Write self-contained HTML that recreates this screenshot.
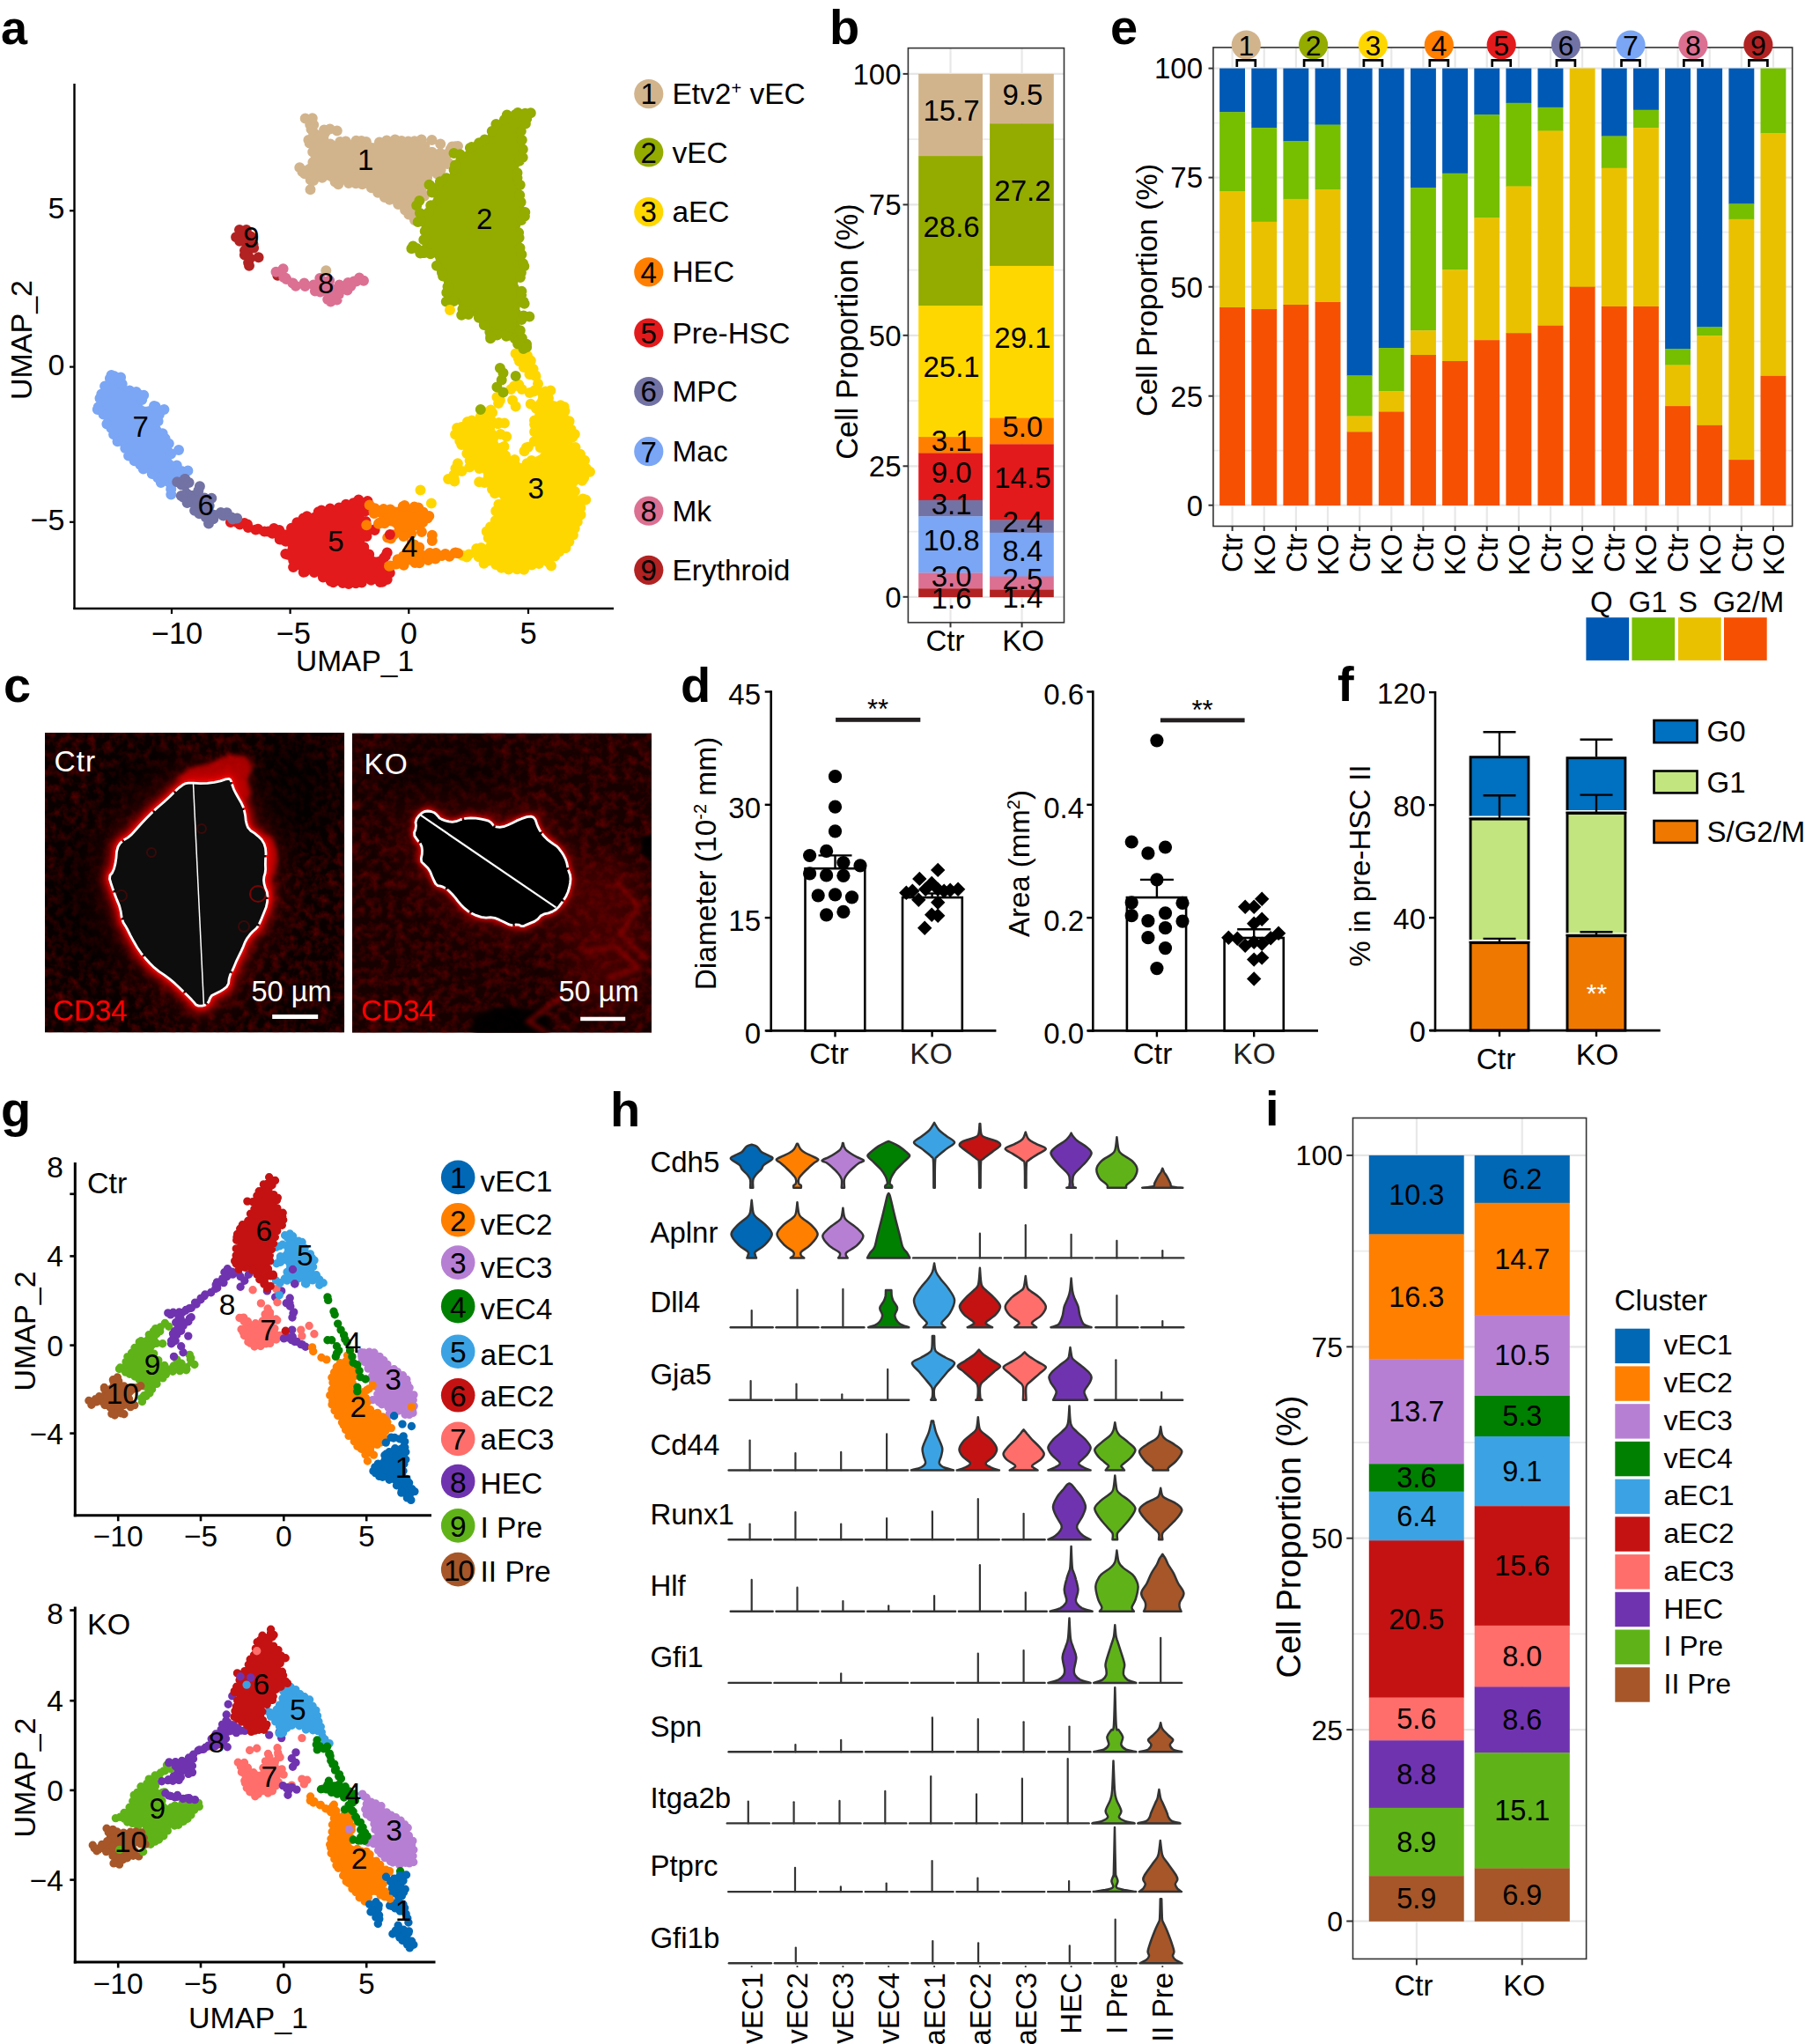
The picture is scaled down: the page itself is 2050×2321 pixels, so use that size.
<!DOCTYPE html><html><head><meta charset="utf-8"><title>Figure</title><style>html,body{margin:0;padding:0;background:#fff}svg{display:block}text{font-family:"Liberation Sans",sans-serif}</style></head><body>
<svg width="2050" height="2321" viewBox="0 0 2050 2321">
<rect width="2050" height="2321" fill="#fff"/>
<g id="pa">
<text x="1" y="50" font-size="54" text-anchor="start" fill="#000" font-weight="bold">a</text>
<line x1="84.5" y1="95" x2="84.5" y2="692" stroke="#000" stroke-width="2.4"/>
<line x1="83.3" y1="691" x2="697" y2="691" stroke="#000" stroke-width="2.4"/>
<line x1="79" y1="239.3" x2="84.5" y2="239.3" stroke="#000" stroke-width="2.2"/>
<text x="73.5" y="248.3" font-size="34" text-anchor="end" fill="#000">5</text>
<line x1="79" y1="416.6" x2="84.5" y2="416.6" stroke="#000" stroke-width="2.2"/>
<text x="73.5" y="425.6" font-size="34" text-anchor="end" fill="#000">0</text>
<line x1="79" y1="592.8" x2="84.5" y2="592.8" stroke="#000" stroke-width="2.2"/>
<text x="73.5" y="601.8" font-size="34" text-anchor="end" fill="#000">−5</text>
<line x1="195" y1="691" x2="195" y2="697" stroke="#000" stroke-width="2.2"/>
<text x="201" y="730.6" font-size="34.5" text-anchor="middle" fill="#000">−10</text>
<line x1="329.6" y1="691" x2="329.6" y2="697" stroke="#000" stroke-width="2.2"/>
<text x="333.2" y="730.6" font-size="34.5" text-anchor="middle" fill="#000">−5</text>
<line x1="464.3" y1="691" x2="464.3" y2="697" stroke="#000" stroke-width="2.2"/>
<text x="464.3" y="730.6" font-size="34.5" text-anchor="middle" fill="#000">0</text>
<line x1="600" y1="691" x2="600" y2="697" stroke="#000" stroke-width="2.2"/>
<text x="600" y="730.6" font-size="34.5" text-anchor="middle" fill="#000">5</text>
<text x="403" y="762" font-size="33.5" text-anchor="middle" fill="#000">UMAP_1</text>
<text x="36.1" y="386" font-size="34" text-anchor="middle" fill="#000" transform="rotate(-90 36.1 386)">UMAP_2</text>
<path d="M351.1 139.5 351 139.9 352.5 147.5 352.6 148.1 352.7 148.7 352.6 149.3 351.7 161.2 354.5 168.7 354.7 169.2 354.8 169.8 354.9 170.3 354.9 170.9 354.9 182 354.9 182.6 354.8 183.3 354.6 183.9 354.4 184.5 354.1 185.1 353.7 185.6 353.3 186.2 352.9 186.6 352.4 187 351.8 187.4 343.8 192.2 343.8 194.9 350.8 201.9 351.4 202.6 354.5 206.7 356.2 205.6 356.7 205.2 357.3 205 357.8 204.8 358.4 204.6 369.5 202.4 370.1 202.3 370.7 202.3 371.3 202.3 371.9 202.4 372.5 202.5 373 202.7 373.6 203 384.6 208.5 393.3 205.9 393.9 205.7 394.5 205.6 395.1 205.6 395.7 205.6 396.3 205.7 396.9 205.9 412.4 210.3 413 210.5 424.1 214.9 424.6 215.2 425.1 215.5 440.6 225.4 451.6 232 451.8 232.2 464.8 240.8 468.3 242.6 469.4 240.9 475.9 227.9 476.3 227.3 476.6 226.8 477.1 226.3 481 222.4 477.8 212.8 477.6 212.2 477.5 211.6 477.5 211 477.5 210.4 477.5 209.8 477.7 209.2 477.9 208.6 478.1 208.1 478.4 207.5 478.7 207 479.1 206.6 479.5 206.1 480 205.8 488.9 199.1 489.3 198.8 489.8 198.5 502.2 192.3 510.3 184.3 508.6 174.2 508.5 173.5 508.5 172.9 508.5 172.6 508.2 172.7 507.6 172.8 507 172.8 506.4 172.7 505.8 172.7 505.2 172.5 504.6 172.3 504.1 172 503.5 171.7 500.1 169.5 495.8 172 495.2 172.2 494.6 172.5 494 172.6 493.4 172.7 492.8 172.8 492.2 172.8 491.6 172.7 491 172.6 490.4 172.4 489.8 172.1 489.3 171.8 488.8 171.5 488.3 171.1 487.9 170.6 487.5 170.1 487.2 169.6 486.9 169.1 486.7 168.5 486.5 167.9 486.4 167.3 485.8 162.9 478.2 160.5 458.3 159.1 440.5 160.5 425.4 164.2 424.9 164.3 424.3 164.4 423.7 164.4 423.2 164.3 422.6 164.2 422 164.1 408 159.6 396.2 161.6 395.5 161.7 377.8 162.8 377.2 162.8 376.5 162.8 375.9 162.6 375.3 162.5 374.7 162.2 374.2 161.9 373.7 161.6 373.2 161.2 372.7 160.7 372.3 160.3 372 159.7 371.7 159.2 371.5 158.6 371.3 158 371.2 157.4 371.1 156.8 371.1 156.1 371.2 155.5 371.3 154.9 371.5 154.3 371.7 153.7 372.1 153.2 374.5 149.3 373.7 148.8 365.3 150.5 364.7 150.6 364.1 150.6 363.5 150.6 362.8 150.5 362.2 150.3 361.7 150.1 361.1 149.9 360.6 149.5 360.1 149.2 359.6 148.7 359.2 148.3 352.2 139.5Z" fill="#D2B48C" stroke="#D2B48C" stroke-width="4.2" stroke-linejoin="round"/>
<path d="M346.7 134.6h0M354.8 134.3h0M356.2 141.8h0M368.1 147.6h0M374.7 146.6h0M382.8 148.6h0M375.2 163.5h0M386.2 161h0M392.7 160.5h0M404.5 159.7h0M410.5 160.1h0M415.9 160.9h0M430.9 161.5h0M439.2 159.5h0M448.7 158.4h0M456.1 160h0M463.7 160.6h0M470.8 160.3h0M478.7 158.4h0M490.5 159h0M490.7 172.7h0M500.2 163.6h0M511.8 169.2h0M513.5 166.6h0M520 166h0M517.3 166.3h0M509.2 173.9h0M509.3 185.1h0M508.1 186h0M500.6 192.9h0M496.6 197.6h0M485.1 201.8h0M479.5 211.9h0M479.8 219.4h0M481.8 222.7h0M473.4 230.4h0M471.3 240.6h0M471 250.1h0M464.3 243.5h0M460.1 238.6h0M452.2 232h0M442.5 226.7h0M436.8 223.9h0M429.2 218.7h0M421.9 213.2h0M411.5 209.3h0M404.1 208.2h0M396 208h0M384.2 209.3h0M380.6 206.6h0M365.9 201.8h0M356.1 205.1h0M352.5 215.2h0M352.7 204.3h0M346 197.2h0M343.3 194.9h0M340.3 190.3h0M355.4 184.3h0M355.2 172.5h0M351.6 162.4h0M350.4 158.9h0M353.5 146.8h0M352.2 141.4h0" stroke="#D2B48C" stroke-width="12" stroke-linecap="round" fill="none"/>
<path d="M521 535.1 528.2 533.6 528.9 533.2 528.7 533.3 528.1 533.4 527.5 533.4 526.8 533.4 526.2 533.4 525.6 533.3 521.2 532.2 521 532.3ZM532.1 531.1 532.5 530.8 533 530.5 533.6 530.2 534.2 530 534.8 529.8 535.4 529.7 536 529.7 536.6 529.7 537.2 529.8 537.8 530 538.4 530.2 547.2 533.7 547.8 534 548.3 534.3 548.8 534.6 549.3 535.1 549.7 535.5 550.1 536 550.4 536.6 550.7 537.1 550.9 537.7 551.1 538.3 551.1 538.9 551.2 539.6 551.1 540.2 551.1 540.8 549.9 546.4 554.6 551.1 555.1 551.6 561.3 559.4 567.2 562.3 567.7 562.6 568.2 562.9 568.7 563.3 569.1 563.8 569.5 564.3 569.8 564.8 570.1 565.4 570.4 565.9 570.5 566.5 570.6 567.1 570.7 567.8 570.7 568.4 570.6 569 570.5 569.6 570.3 570.2 570 570.7 565.1 580.6 563.5 588.7 563.3 589.2 563.1 589.8 562.9 590.4 562.6 590.9 562.2 591.4 555.8 599.3 553.2 607.3 554.6 614.6 554.7 615.1 554.7 615.7 554.7 616.3 554.6 616.9 554.5 617.5 554.3 618.1 554 618.6 553.7 619.2 553.4 619.6 553 620.1 552.6 620.5 552.1 620.9 551.6 621.2 551.1 621.5 550.5 621.7 549.9 621.9 543.5 623.5 534.6 628 533.2 629.6 540.6 630.8 541.2 631 541.8 631.2 542.4 631.5 543 631.8 543.5 632.2 544 632.6 549.3 637.9 557.3 637.9 557.9 637.9 558.4 638 559 638.1 559.6 638.3 560.1 638.5 570.3 643.6 579.2 646.6 592.9 645.1 604.4 640.1 604.6 640.1 613.4 636.5 614.1 636.3 614.7 636.2 615.4 636.1 616 636.1 616.7 636.1 617.3 636.3 624.7 638.1 630.7 632.7 644.1 615.9 649.2 605.9 654.2 595.8 657.5 584.3 659.2 574 659.4 573.3 659.6 572.7 661.1 568.8 656.9 566.2 656.4 565.9 655.9 565.5 655.4 565.1 655 564.6 654.7 564.1 654.4 563.5 654.2 563 654 562.4 652.2 555.3 652.1 554.7 652 554.1 652 553.5 652.1 552.9 652.2 552.3 652.4 551.7 652.6 551.2 652.8 550.7 653.2 550.2 653.5 549.7 653.9 549.2 654.4 548.9 654.8 548.5 663.9 542.5 666.7 535.8 663.1 525.9 658.3 514.8 650.3 506.8 649.9 506.3 649.6 505.8 649.2 505.3 649 504.8 648.8 504.2 648.6 503.6 648.5 503 648.5 502.4 648.5 501.8 648.6 501.2 648.7 500.6 648.9 500 651.4 493.7 649.2 489.2 648.8 488.4 641.9 467.5 638 459.8 628.2 457 627.6 456.8 627.1 456.5 626.5 456.2 626 455.8 625.6 455.4 625.1 454.9 624.8 454.4 624.4 453.9 624.2 453.3 623.9 452.8 623.8 452.1 622.7 446.6 617 444.4 616.4 444.1 615.9 443.8 615.4 443.4 614.9 443 614.5 442.5 614.1 442 613.8 441.4 613.5 440.8 611.3 435.4 611.3 435.5 611.4 436.1 611.5 436.7 611.4 437.4 611.3 438 611.2 438.6 611 439.1 610.7 439.7 610.4 440.2 610 440.7 609.6 441.2 606.5 444.3 606.3 444.6 606.9 444.6 607.5 444.6 608.1 444.7 608.7 444.9 609.3 445.1 609.8 445.3 610.4 445.6 610.9 446 611.3 446.4 611.7 446.8 612.1 447.3 612.4 447.8 612.7 448.4 612.9 448.9 613.1 449.5 613.2 450.1 613.2 450.7 613.2 451.3 613.1 451.9 613 452.5 612.8 453.1 612.6 453.7 612.3 454.2 612 454.7 608.3 459.6 609.6 467.6 609.7 468.3 609.7 469 609.6 469.7 607.8 480.3 607.8 480.5 606.4 487.5 609.2 494.7 609.4 495.2 609.6 495.8 609.7 496.4 609.7 497.1 609.6 497.7 609.6 498.3 609.4 498.9 609.2 499.4 608.9 500 608.6 500.5 608.2 501 607.8 501.5 606.1 503.2 606.2 503.2 606.8 503.1 607.4 503.1 608.1 503.2 608.7 503.4 609.3 503.6 609.9 503.8 610.4 504.2 610.9 504.5 611.4 505 614.9 508.5 615.3 509 615.7 509.5 616 510 616.3 510.6 616.5 511.2 616.7 511.8 616.7 512.4 616.8 513 616.7 513.7 616.6 514.3 616.5 514.9 616.2 515.5 616 516 615.6 516.6 615.3 517.1 614.8 517.5 614.3 517.9 613.8 518.3 613.3 518.6 595.6 527.5 595 527.7 594.4 527.9 593.8 528 593.1 528.1 592.5 528.1 591.9 528.1 591.2 527.9 590.6 527.8 590 527.5 589.5 527.2 589 526.9 582.3 521.9 575.7 518.6 575.2 518.3 574.7 517.9 574.2 517.5 573.8 517 573.4 516.5 573 516 572.8 515.4 572.5 514.8 572.4 514.2 571.2 508.4 566.9 506.2 566.3 505.9 565.8 505.5 565.3 505.1 564.9 504.7 564.5 504.2 564.2 503.6 563.9 503.1 563.7 502.5 563.5 501.9 563.4 501.3 563.4 500.6 563.4 500 563.5 499.4 563.7 498.8 563.9 498.2 564.1 497.6 564.4 497.1 564.8 496.6 565.2 496.1 567.3 494 563.3 492 562.8 491.7 562.3 491.4 561.8 491 561.4 490.5 561 490 560.7 489.5 560.4 489 560.2 488.4 560 487.8 559.9 487.2 559.9 486.6 559.9 486 559.9 485.4 560.1 484.8 560.2 484.2 560.5 483.6 560.8 483.1 561.1 482.6 561.5 482.1 561.9 481.7 562.4 481.3 562.9 481 566 479.1 563.3 477.8 562.8 477.5 562.3 477.2 561.9 476.8 561.4 476.4 561.1 475.9 560.7 475.4 560.4 474.9 560.2 474.3 560 473.7 558.8 468.8 556.6 467.2 553.9 468.5 547.6 474.9 547.1 475.3 546.7 475.6 546.2 475.9 545.7 476.2 545.2 476.4 544.6 476.5 535 478.9 528.8 482.8 519.9 488.7 518.7 491.9 520.4 497.7 525.1 503.9 530.4 511 530.8 511.5 531.1 512 531.3 512.6 531.5 513.2 531.6 513.8 533.4 526.3 533.4 526.9 533.4 527.5 533.4 528.1 533.3 528.7 533.1 529.3 532.8 529.9 532.5 530.4 532.2 530.9ZM610.5 433.5 610 432.2 604.8 421.8 604.5 421 601.2 411 597.5 404.8 592.7 403.4 589 404.5 591.3 409.1 594.6 415.7 599 421.6 605.4 426.4 605.9 426.8 606.4 427.3 606.8 427.9 610.4 433.2Z" fill="#FFD700" stroke="#FFD700" stroke-width="4.2" stroke-linejoin="round"/>
<path d="M585.6 401.4h0M591.3 403h0M599 404.1h0M602.8 409.4h0M605.6 419.1h0M608 425.9h0M611 435.7h0M619.6 444.5h0M625.3 443.6h0M622.9 452.3h0M636.7 460.3h0M640.7 462.1h0M641.5 466.7h0M646.6 478.2h0M648.5 487.6h0M652.8 493h0M650.2 496.6h0M653.5 508.1h0M659 515.8h0M664 522.7h0M665.9 532h0M670 535.7h0M663.1 542.7h0M661.1 545.8h0M652.9 558h0M661.9 566.5h0M665.2 567.4h0M659.4 576.8h0M659.5 584.4h0M655.8 592.5h0M652.7 599.9h0M650.9 607.6h0M646.4 615.1h0M642.4 622.2h0M635 626.4h0M630.2 631.6h0M626 642.5h0M623.2 638.8h0M612.1 640h0M603.9 641.4h0M595.1 646.7h0M587.3 646.3h0M577.6 646.6h0M569.4 644.7h0M563.1 641h0M553.6 636.9h0M549.6 639.7h0M543.7 632.3h0M530.1 632.4h0M525.2 630.7h0M532.6 629.5h0M541.2 622.9h0M546.4 622.1h0M554.7 610.7h0M552.7 603.6h0M557 598.3h0M562.7 591.3h0M563.2 580.3h0M566.4 572.7h0M562.1 560.3h0M559 555.4h0M550.3 548.1h0M544.2 547.2h0M544.3 532h0M533.2 530.6h0M524.5 534.9h0M515.8 544.1h0M516.2 546.6h0M509.1 543.9h0M515.4 539.3h0M517.4 532h0M519.9 526.2h0M533.6 523h0M530.3 514.9h0M524.2 505.1h0M522.2 500.5h0M517.1 493.3h0M519.1 486.1h0M524.1 485.1h0M530.9 479h0M535.8 477.4h0M545.7 473.5h0M554 468h0M557.3 465.4h0M559.1 468.5h0M566.4 480.1h0M572.9 480.4h0M565.6 481.2h0M568.5 493h0M575.2 495.8h0M569.8 508.2h0M572.5 507.1h0M574.1 517.2h0M584.5 522.1h0M598.5 526.2h0M603.6 523h0M613.8 508.3h0M599.8 507.7h0M595.5 512.3h0M597.9 508.3h0M606.7 501.3h0M607.1 490.2h0M607.1 482.1h0M607 477.4h0M608.9 463.8h0M602.7 458.7h0M606.2 444.5h0M601.5 445.9h0M607 443.4h0M608.5 427.3h0M601.4 425h0M594.8 417h0M590 410.2h0M588.5 406.2h0" stroke="#FFD700" stroke-width="12" stroke-linecap="round" fill="none"/>
<path d="M564.4 450.9h0M567.9 454.5h0M566.1 458h0M583.9 438.5h0M589.2 436.7h0M592.7 442h0M580.3 442h0M582.1 454.5h0M585.7 461.6h0M477.5 556.4h0M489.9 571.5h0" stroke="#FFD700" stroke-width="12" stroke-linecap="round" fill="none"/>
<path d="M472 281.4 474.6 283.6 474.9 283.9 477.9 286.9 491.3 288.8 491.9 288.9 492.5 289.1 493 289.3 493.6 289.5 494.1 289.9 494.5 290.2 495 290.6 495.3 291.1 495.7 291.6 496 292.1 496.2 292.6 496.4 293.2 496.6 293.8 498.6 304 504.9 316.6 505.2 317.1 505.3 317.7 509.8 333.2 509.8 333.4 511.3 339.1 519.3 342.4 519.9 342.6 520.4 342.9 520.9 343.2 521.3 343.6 521.7 344 522.1 344.5 522.4 345 527.6 353.6 536 355.3 536.6 355.5 537.2 355.7 537.7 355.9 538.2 356.3 538.7 356.6 539.2 357 550.3 368.1 550.7 368.5 559.3 379 566.7 377.5 567.4 377.4 568 377.4 568.6 377.4 569.2 377.5 580.3 379.7 580.9 379.9 581.5 380.1 582.1 380.4 582.7 380.7 583.2 381.1 583.7 381.6 584.1 382.1 589.4 389.2 593.4 390.2 594.2 389.6 592.9 383.1 588.6 370.1 588.4 369.5 588.3 368.9 588.3 368.3 588.3 367.6 588.4 367 588.5 366.4 588.7 365.8 589 365.2 589.3 364.7 589.7 364.2 590.1 363.7 594.5 359.3 590.1 354.9 589.7 354.4 589.3 353.9 589 353.4 588.8 352.9 588.6 352.3 588.4 351.7 588.3 351.1 588.3 350.5 588.3 349.9 588.4 349.3 588.5 348.7 588.7 348.1 589 347.6 589.3 347 589.6 346.5 590 346.1 590.5 345.6 590.9 345.3 591.4 344.9 595.4 342.7 595.2 341.3 586.7 324.4 586.5 323.9 586.3 323.3 586.1 322.7 586.1 322.1 586.1 321.4 586.1 320.8 586.2 320.2 586.4 319.6 586.6 319 586.9 318.5 587.2 318 587.6 317.5 588 317 588.5 316.6 589 316.3 589.5 316 591.4 315.1 594.8 301.4 592.8 289.5 590.6 278.5 590.5 278.1 588.3 260.3 588.3 259.7 588.3 259.1 588.4 258.5 588.5 257.9 588.7 257.3 594.7 241.4 590.6 223.3 590.6 222.8 588.3 207.3 586.1 194.1 586.1 193.5 586.1 192.9 586.1 192.3 586.2 191.7 586.4 191.2 586.6 190.6 592.6 176.6 590.5 156 590.5 155.4 590.5 154.8 590.6 154.1 590.8 153.5 591 152.9 597.3 138.1 598.6 130.7 595.4 129.5 584.7 128.6 573.9 134 563.8 144.1 555.2 154.9 554.7 155.4 554.2 155.9 553.7 156.3 553.1 156.6 540.7 162.8 530.3 173.2 529.9 173.6 529.3 174 528.8 174.3 528.2 174.5 520.3 177.7 518.8 185.4 518.6 186 518.4 186.5 518.2 187 511.6 200.3 511.3 200.8 511 201.3 510.6 201.8 510.2 202.2 509.7 202.5 509.3 202.9 508.7 203.1 495.4 209.8 491.3 211.9 494.3 222.4 494.4 223 494.5 223.6 494.5 224.3 494.4 224.9 494.3 225.6 494.1 226.2 493.9 226.8 493.6 227.3 487 238.4 486.6 238.9 486.2 239.4 485.8 239.9 485.3 240.3 484.8 240.6 484.2 240.9 483.6 241.1 483 241.3 482.4 241.4 481.8 241.5 481.2 241.5 480.6 241.4 480.8 241.7 481 242.3 481.1 242.9 481.2 243.6 481.2 244.2 481.1 244.9 481 245.5 480.9 246.1 480.6 246.7 480.3 247.3 479.9 247.8 476.6 252.3 479.4 255.1 479.7 255.5 480.1 256 480.4 256.5 480.7 257 480.9 257.5 481 258.1 481.1 258.7 483.4 274.2 483.4 274.8 483.4 275.4 483.3 276.1 483.2 276.7 483 277.3 482.8 277.9 482.4 278.4 482.1 279 481.7 279.4 481.2 279.9 480.7 280.3 480.2 280.6 479.6 280.9 479 281.1 478.4 281.2 477.8 281.3 477.1 281.4Z" fill="#94AB00" stroke="#94AB00" stroke-width="4.2" stroke-linejoin="round"/>
<path d="M596.4 128.8h0M602.8 128.2h0M598.2 134.9h0M596.9 140.4h0M591.8 149h0M592.8 159h0M593.8 169.6h0M593.7 178.7h0M589.9 182.8h0M587.5 196.3h0M587.5 201.9h0M590.7 210.1h0M590.2 221.5h0M591.6 229.4h0M596.3 241h0M595.9 245.4h0M592.2 250.1h0M589.1 264.2h0M589.6 270h0M590.5 281.6h0M592.4 289.1h0M594.1 299.3h0M595.3 302.3h0M591.9 309.6h0M590.9 315h0M592.4 330.7h0M592.2 334.8h0M594.6 342.4h0M595.6 344.8h0M594.7 358.6h0M601.3 359.4h0M592.4 363.1h0M590.8 375.3h0M592.9 384.1h0M598 390.7h0M594.4 396h0M588.1 390.6h0M584.8 384.5h0M576.4 381.1h0M564.5 380.5h0M557.1 384.2h0M556.3 377.1h0M549.8 368.9h0M543.9 360.8h0M532.1 356.9h0M524.2 357.8h0M525.4 351h0M515.3 342.1h0M506.8 342.4h0M507.3 332.2h0M508.5 325.5h0M503.1 313.5h0M501.9 309.3h0M495.9 301.8h0M489 288.2h0M482.2 286.9h0M477.3 287.4h0M467.4 282.2h0M469.1 279.6h0M473.3 281.9h0M481.3 272.3h0M482.7 262.5h0M474.7 252h0M477.8 250.6h0M476.9 242.1h0M473.2 233.2h0M476.3 227.9h0M486.9 241.1h0M489.2 233.2h0M490.7 218.5h0M488.4 210.6h0M487.5 209.7h0M499.9 206.3h0M506.9 202.3h0M515.6 193h0M517 187.4h0M515.5 174h0M522.5 175.2h0M533.9 168h0M535.7 166.9h0M544.1 162.3h0M550.5 158.5h0M558.8 149.1h0M563.4 141.1h0M572.9 136.1h0M575.8 130.5h0M585.5 130h0M588.1 128.1h0" stroke="#94AB00" stroke-width="12" stroke-linecap="round" fill="none"/>
<path d="M511 352h0" stroke="#FFD700" stroke-width="12" stroke-linecap="round" fill="none"/>
<path d="M567.9 418.1h0M571.5 423.4h0M569.7 431.4h0M564.4 439.4h0M571.5 445.6h0M585.7 427h0M545.8 465.1h0M557.3 381.8h0M575 381.8h0M589.2 387.1h0M598.1 394.2h0" stroke="#94AB00" stroke-width="12" stroke-linecap="round" fill="none"/>
<path d="M271.7 269.9 276.6 278.7 276.8 279.3 277 279.9 277.2 280.5 277.3 281.1 277.3 281.7 277.3 288.9 281.9 296.7 282.2 296.2 282.5 295.8 282.8 295.4 286.1 291.5 285 288.1 284.8 287.5 284.7 286.9 284.7 286.3 284.7 285.6 284.8 285 284.9 284.4 285.1 283.8 285.4 283.2 285.7 282.6 286.1 282.1 288.5 279.3 288.1 278.8 287.8 278.4 287.6 277.9 287.3 277.4 287.1 276.9 287 276.3 285.4 268.2 278.8 264.9 274.7 265.5Z" fill="#B22222" stroke="#B22222" stroke-width="4.2" stroke-linejoin="round"/>
<path d="M268.1 269.2h0M272 261h0M279.8 261h0M283.1 267.7h0M284.8 268.6h0M287.5 277.5h0M288.1 281.6h0M293.6 292.3h0M283.7 293.6h0M283 301.7h0M282.1 298.2h0M277.9 289.4h0M278 284.5h0M272.2 273.7h0" stroke="#B22222" stroke-width="12" stroke-linecap="round" fill="none"/>
<path d="M370.3 307.2h0" stroke="#D2B48C" stroke-width="12" stroke-linecap="round" fill="none"/>
<path d="M315.3 312.7h0" stroke="#B22222" stroke-width="12" stroke-linecap="round" fill="none"/>
<path d="M322.4 313.8 322.6 314.4 329.7 320.5 336.1 322.9 337.5 322.8 335.3 322 334.7 321.7 334.2 321.4 325.3 315.9 325 315.7ZM351.4 324.2 358.3 329.4 368.7 333.5 369.2 333.7 369.7 334 370.2 334.4 370.7 334.8 371.1 335.2 375.6 340.5 380.9 340 384.7 335.3 385.2 334.8 385.6 334.4 391.2 330 391.9 329.5 402.3 323.3 405.4 320.2 396.6 322.2 383.4 325.5 382.8 325.6 382.2 325.7 381.6 325.7 380.9 325.6 380.3 325.5 379.8 325.3 379.2 325.1 378.7 324.8 378.2 324.5 377.7 324.1 370.3 317.6 365.6 317.1 360.9 320.2 360.4 320.5 359.8 320.8Z" fill="#DB7093" stroke="#DB7093" stroke-width="4.2" stroke-linejoin="round"/>
<path d="M313.5 308.8h0M321.6 305.3h0M325.2 317.1h0M332.7 321.5h0M345.5 321.5h0M356 323.4h0M363.3 316.1h0M365.4 318.3h0M374.2 318.4h0M385.4 323.5h0M395.3 320.9h0M401.9 319.4h0M408.1 315.4h0M413 318.8h0M404.6 319.4h0M398.4 325h0M394.5 329.4h0M384.7 334.4h0M382.7 340.5h0M375.6 342.4h0M372.2 339.9h0M363.7 331.5h0M357.9 330.6h0M346.5 325.1h0M335.9 324.8h0M332.4 321.4h0M324.5 315.7h0M322.3 315.1h0" stroke="#DB7093" stroke-width="12" stroke-linecap="round" fill="none"/>
<path d="M130.2 426.7 127.2 427.6 124.1 432.3 123.8 432.6 117.5 441.1 113.7 448 114 455.1 114 455.7 114 456.3 113.8 456.9 112.2 463.5 115.3 469.7 123.7 480.3 124.1 480.8 124.4 481.4 130.9 494.3 139.4 507 149.8 519.5 158 525.7 166.9 532.4 167.6 532.9 178.1 543.5 188.5 549.7 189 550 189.4 550.4 195.1 555.4 195.2 555.3 196.8 547.2 197 546.6 197.2 546 197.5 545.4 197.9 544.8 198.3 544.3 206 535.5 206.9 534.5 204.1 532.8 203.7 532.5 203.3 532.2 194.4 524.4 194 524 193.6 523.5 193.2 523 192.9 522.4 192.7 521.8 192.5 521.2 192.4 520.6 192.3 519.9 192.3 519.3 192.4 518.7 192.5 518 192.7 517.4 193 516.9 195.4 512 191.9 508.6 191.5 508.1 191.1 507.6 190.8 507.1 190.5 506.5 186.3 495.9 179.9 485.2 179.6 484.7 179.4 484.1 179.2 483.5 179.1 482.9 179 482.3 179 481.7 179.1 481.1 179.2 480.5 181.2 472.4 181.2 467.5 173.9 462.2 166.7 463.8 166.1 463.9 165.5 463.9 164.8 463.9 164.2 463.8 163.6 463.7 163 463.5 162.5 463.2 161.9 462.9 161.4 462.5 160.9 462.1 160.5 461.7 160.1 461.2 159.8 460.6 159.5 460.1 159.3 459.5 159.2 458.9 159.1 458.2 159 457.6 159 450.3 155.1 446.3 143 441.3 142.4 441 141.9 440.7 141.4 440.4 141 440 140.6 439.5 140.2 439.1 139.9 438.5 139.6 438 136.1 430Z" fill="#7AA6F5" stroke="#7AA6F5" stroke-width="4.2" stroke-linejoin="round"/>
<path d="M129.5 426.9h0M137.1 428.5h0M138.7 435.9h0M147.2 443.5h0M154.8 444.9h0M163.2 448.7h0M161.2 454h0M175 461h0M176.6 461.6h0M186.4 465h0M180.8 470.9h0M179.6 478.3h0M184.7 492.2h0M187.6 497.9h0M191.8 503.8h0M203 511.1h0M194.1 515.6h0M200.8 528.5h0M206.3 534.9h0M213.4 534.6h0M203.8 537.6h0M197 543.9h0M194.3 555.4h0M194.3 561.4h0M194.2 555.6h0M182.8 547.9h0M179.3 542.6h0M172.7 538h0M162.8 532.6h0M159.4 527.8h0M152.7 523.2h0M146.1 517.6h0M142.3 508.9h0M133.5 501.2h0M129.1 493.3h0M126.2 485.9h0M121.4 481.4h0M117.5 470.5h0M110.8 464.9h0M111.7 462.3h0M113.5 452.3h0M115.3 447.6h0M119.1 438.5h0M124.9 429.8h0M126.5 425.9h0" stroke="#7AA6F5" stroke-width="12" stroke-linecap="round" fill="none"/>
<path d="M307.6 604.4 313.9 606.9 314.5 607.2 315 607.5 315.5 607.8 326.6 616.7 327.1 617.1 327.5 617.5 327.9 618 328.2 618.6 328.5 619.1 328.7 619.7 328.9 620.3 328.9 620.9 329 621.5 329 622.1 328.9 622.8 328.7 623.4 328.5 623.9 326 630.3 328.4 631.9 328.9 632.3 329.4 632.7 329.8 633.2 330.2 633.7 330.5 634.3 334.2 641.7 344.5 648.5 358.1 648.5 358.8 648.6 359.4 648.7 360 648.8 360.6 649 361.1 649.3 361.6 649.6 362.1 650 362.6 650.4 370.6 658.4 381.6 663 399.3 663 409.5 659.9 410.1 659.8 421.2 657.5 421.7 657.4 422.3 657.4 422.9 657.4 423.4 657.5 434.1 659.3 438.3 656.1 438.3 652.5 432.9 645.3 432.5 644.8 432.2 644.3 432 643.7 431.8 643.1 431.7 642.5 431.6 641.9 431.6 641.2 431.7 640.6 431.8 640 432 639.4 432.2 638.8 432.5 638.3 432.9 637.8 436.4 633 427.9 634.5 427.3 634.5 426.7 634.6 426.1 634.5 425.5 634.4 424.9 634.2 424.3 634 423.8 633.8 423.3 633.4 422.8 633.1 422.3 632.6 421.9 632.2 413.1 621.1 412.7 620.6 412.4 620.1 412.2 619.6 412 619 411.8 618.4 411.7 617.8 411.7 617.2 411.7 616.6 411.8 616.1 411.9 615.5 412.1 614.9 412.3 614.4 416.8 605.5 417.1 604.9 417.5 604.4 418 603.9 420.7 601.1 417.4 596.6 417.2 596.3 412.7 589.6 412.4 589.1 412.2 588.6 412 588 411.8 587.4 411.7 586.8 411.7 586.2 411.7 585.6 411.8 585 411.9 584.5 412.1 583.9 412.3 583.3 415.4 577.3 413.6 573.7 406.7 571.6 395.1 574.5 394.5 574.7 379.2 576.8 368.8 578.9 347.7 587.4 337.7 593.4 329.4 601.7 328.9 602.1 328.4 602.5 327.9 602.8 327.4 603 326.8 603.2 326.2 603.4 325.6 603.5 325 603.5 324.4 603.5 312.5 602.5Z" fill="#E31A1C" stroke="#E31A1C" stroke-width="4.2" stroke-linejoin="round"/>
<path d="M261.9 592.9h0M267.7 591.7h0M277.6 593.9h0M281 595.6h0M293 600.7h0M304.5 603.4h0M311.1 599.9h0M317.2 601.9h0M331 599.8h0M337.4 593.2h0M344.6 588.5h0M348.6 586.3h0M361.7 581.2h0M365.1 579.6h0M374.9 577.5h0M385 576.5h0M392.9 572.8h0M401.3 571.3h0M407.3 567.5h0M417.5 569h0M416.4 577.2h0M415.1 580.2h0M415.4 592h0M425.4 601.2h0M425.6 602h0M416.5 609h0M413.3 621.3h0M419.2 629.5h0M436 633.5h0M439.7 627.4h0M437.9 631.3h0M435.6 644.6h0M442.8 650.4h0M439.7 658h0M434.3 660.8h0M431.7 661.1h0M421.5 658.8h0M410.8 661.4h0M404.1 662.3h0M396 662.9h0M389.2 662h0M378.5 661.2h0M375.8 660h0M366.9 655.6h0M356.9 649.9h0M345.9 649.5h0M344.7 649.7h0M333.1 644h0M333.2 636.3h0M324.3 629.1h0M326.9 629.8h0M324.6 614.7h0M317.7 612.4h0M309.3 605.7h0M300.3 603.4h0M290.4 601.5h0M281.8 598.9h0M272.4 595.4h0M268.9 593.1h0" stroke="#E31A1C" stroke-width="12" stroke-linecap="round" fill="none"/>
<path d="M208.4 551.7 208.7 552.3 208.9 552.9 209.1 553.4 209.2 554 209.3 554.6 209.3 555.2 209.3 555.8 209.2 556.4 207.6 564.1 222.7 579.2 231.2 585.5 237.6 590.4 241.5 589.4 244.6 585.5 245.1 585.1 245.5 584.6 246 584.3 246.5 583.9 247.1 583.7 247.7 583.5 248.3 583.3 248.9 583.2 249.6 583.2 250.2 583.2 257.9 584 255.9 582.3 244.6 581.3 244 581.3 243.4 581.1 242.8 580.9 242.2 580.7 241.7 580.3 241.2 580 240.7 579.6 240.3 579.1 239.9 578.6 239.6 578.1 239.3 577.5 239.1 576.9 238.9 576.3 237.2 567.6 230.3 562.4 229.8 562 229.4 561.6 229 561.1 225.5 556.5 221.3 558.5 220.8 558.8 220.2 559 219.6 559.1 219 559.2 218.4 559.2 217.8 559.2 217.2 559.1 216.6 558.9 216 558.7 215.5 558.4 215 558.1 214.5 557.7 214 557.3 213.6 556.9 213.3 556.4 213 555.8 212.7 555.3 212.5 554.7 212.3 554.1 212.3 553.5 212.2 552.9 212.2 547.7 210.1 550.3 209.7 550.7 209.2 551.2 208.7 551.5Z" fill="#7272A4" stroke="#7272A4" stroke-width="4.2" stroke-linejoin="round"/>
<path d="M201.2 547.2h0M210.4 544.1h0M209.8 543.9h0M214.6 547.9h0M225.4 556.9h0M226.9 552.2h0M232.3 565.4h0M240.3 565.8h0M237.7 574.3h0M250.8 581.9h0M257.8 582.2h0M263 587.6h0M269.2 588.6h0M264.2 589.5h0M253.5 585.6h0M242.3 589.3h0M237 594.5h0M233.9 587.6h0M226.4 583.2h0M221.1 579.7h0M212.6 571.1h0M205.8 563h0M208 564.4h0M206.2 550.4h0" stroke="#7272A4" stroke-width="12" stroke-linecap="round" fill="none"/>
<path d="M424.4 577.3 424.4 578.2 424.9 581.8 431.1 585.6 431.6 585.9 432.1 586.3 432.5 586.7 432.9 587.2 433.3 587.7 433.6 588.3 433.8 588.8 434 589.4 434.1 590 434.2 590.7 434.2 591.3 434.1 591.9 434 592.5 433.7 593.5 434.5 593.7 444.9 595.4 445.5 595.5 446.1 595.7 446.6 596 447.2 596.3 447.7 596.6 448.2 597.1 448.6 597.5 449 598 449.3 598.5 449.6 599.1 449.8 599.7 450 600.3 450.1 600.9 450.1 601.5 450.1 602.2 450 602.8 449.9 603.4 449.7 604 449.5 604.3 450.1 604.2 450.7 604.2 451.3 604.2 451.9 604.2 452.5 604.4 453.1 604.6 453.6 604.8 454.2 605.1 454.7 605.4 461.8 610.7 462.3 611.2 462.4 611.3 462.4 611.2 462.3 610.6 462.4 610 462.4 609.3 462.6 608.7 462.8 608.1 463.1 607.5 463.4 607 463.8 606.5 464.2 606 467.7 602.5 468.2 602.1 468.6 601.7 469.1 601.4 469.6 601.2 470.1 601 470.7 600.8 474.9 599.7 477.2 595.2 477.5 594.7 477.9 594.1 478.4 593.6 483.2 588.8 484.4 586.9 482.3 585.1 481.9 584.8 481.5 584.4 477.4 579.5 474.2 576.7 468.7 578.4 468.1 578.5 467.5 578.6 466.9 578.7 466.3 578.6 465.7 578.5 465.1 578.4 464.5 578.2 457.9 575.6 453.1 577.4 452.5 577.6 451.8 577.7 451.1 577.8 450.5 577.8 438.1 576.9 427.2 576.1ZM464.2 615 464.3 615.1 464.3 615.8 464.3 626.4 464.3 627.1 464.2 627.7 464 628.3 463.8 628.9 463.5 629.5 463.2 630 462.8 630.5 462.4 631 461.9 631.4 461.4 631.7 460.8 632.1 453.9 635.5 446.3 640.1 444.7 642.1 445.3 642.2 456.7 639.8 457.1 639.7 457.6 639.6 471 638.8 484.5 634.6 485 634.5 485.4 634.4 503.1 631.7 514.7 629.6 514.8 629.4 504.5 630.1 503.8 630.1 503.1 630 492.7 628.3 482.3 627.4 481.7 627.3 481.1 627.2 480.6 627 480 626.8 479.5 626.5 479 626.1 464.9 615.5 464.4 615.1Z" fill="#FF7F00" stroke="#FF7F00" stroke-width="4.2" stroke-linejoin="round"/>
<path d="M419.7 573.5h0M425.8 577.2h0M435.6 577.9h0M443.2 578.4h0M457.8 575.1h0M459.5 573.9h0M470.6 575.4h0M475.2 576.6h0M480.5 581.4h0M487.3 586h0M485.5 588.4h0M480.1 593.3h0M478.9 604.1h0M467.2 605.9h0M470.4 618.4h0M476.3 621.6h0M488.1 627.9h0M495.1 627.9h0M505.8 629.1h0M516.5 627.7h0M520.2 628.2h0M517.4 627.6h0M510.4 631.8h0M501.9 631.1h0M494.5 634.4h0M486.3 636.1h0M476.3 639.3h0M471.3 639h0M458.6 641.8h0M450.3 640.6h0M443.3 642.5h0M442 642.8h0M443.3 642.5h0M451.6 635.3h0M458 631.6h0M464.7 623.5h0M458.2 609.1h0M447 607.2h0M444 611.4h0M440.2 610.4h0M446.2 607.9h0M436.7 594.3h0M430.8 593.8h0M429.9 594.8h0M424.8 582.9h0M424.5 580.4h0" stroke="#FF7F00" stroke-width="12" stroke-linecap="round" fill="none"/>
<path d="M416.3 596.3h0M490.8 607.8h0M490.8 614h0" stroke="#FF7F00" stroke-width="12" stroke-linecap="round" fill="none"/>
<path d="M442.9 606.9h0" stroke="#E31A1C" stroke-width="12" stroke-linecap="round" fill="none"/>
<text x="415.1" y="192.7" font-size="33" text-anchor="middle" fill="#000">1</text>
<text x="550.2" y="260.3" font-size="33" text-anchor="middle" fill="#000">2</text>
<text x="285.4" y="281.3" font-size="33" text-anchor="middle" fill="#000">9</text>
<text x="370.3" y="333.4" font-size="33" text-anchor="middle" fill="#000">8</text>
<text x="159.8" y="496" font-size="33" text-anchor="middle" fill="#000">7</text>
<text x="233.6" y="584.7" font-size="33" text-anchor="middle" fill="#000">6</text>
<text x="381.4" y="625.7" font-size="33" text-anchor="middle" fill="#000">5</text>
<text x="608.7" y="566.4" font-size="33" text-anchor="middle" fill="#000">3</text>
<text x="465.1" y="632" font-size="33" text-anchor="middle" fill="#000">4</text>
<circle cx="736.8" cy="106.6" r="16.6" fill="#D2B48C"/>
<text x="736.8" y="118.4" font-size="33" text-anchor="middle" fill="#000">1</text>
<text x="763.4" y="118.1" font-size="33.5" text-anchor="start" fill="#000">Etv2<tspan dy="-11" font-size="20">+</tspan><tspan dy="11"> vEC</tspan></text>
<circle cx="736.8" cy="173" r="16.6" fill="#94AB00"/>
<text x="736.8" y="184.9" font-size="33" text-anchor="middle" fill="#000">2</text>
<text x="763.4" y="184.5" font-size="33.5" text-anchor="start" fill="#000">vEC</text>
<circle cx="736.8" cy="240.6" r="16.6" fill="#FFD700"/>
<text x="736.8" y="252.4" font-size="33" text-anchor="middle" fill="#000">3</text>
<text x="763.4" y="252.1" font-size="33.5" text-anchor="start" fill="#000">aEC</text>
<circle cx="736.8" cy="308.8" r="16.6" fill="#FF7F00"/>
<text x="736.8" y="320.6" font-size="33" text-anchor="middle" fill="#000">4</text>
<text x="763.4" y="320.3" font-size="33.5" text-anchor="start" fill="#000">HEC</text>
<circle cx="736.8" cy="378" r="16.6" fill="#E31A1C"/>
<text x="736.8" y="389.8" font-size="33" text-anchor="middle" fill="#000">5</text>
<text x="763.4" y="389.5" font-size="33.5" text-anchor="start" fill="#000">Pre-HSC</text>
<circle cx="736.8" cy="444.5" r="16.6" fill="#7272A4"/>
<text x="736.8" y="456.3" font-size="33" text-anchor="middle" fill="#000">6</text>
<text x="763.4" y="456" font-size="33.5" text-anchor="start" fill="#000">MPC</text>
<circle cx="736.8" cy="512.7" r="16.6" fill="#7AA6F5"/>
<text x="736.8" y="524.5" font-size="33" text-anchor="middle" fill="#000">7</text>
<text x="763.4" y="524.2" font-size="33.5" text-anchor="start" fill="#000">Mac</text>
<circle cx="736.8" cy="580.2" r="16.6" fill="#DB7093"/>
<text x="736.8" y="592.1" font-size="33" text-anchor="middle" fill="#000">8</text>
<text x="763.4" y="591.7" font-size="33.5" text-anchor="start" fill="#000">Mk</text>
<circle cx="736.8" cy="647.3" r="16.6" fill="#B22222"/>
<text x="736.8" y="659.1" font-size="33" text-anchor="middle" fill="#000">9</text>
<text x="763.4" y="658.8" font-size="33.5" text-anchor="start" fill="#000">Erythroid</text>
</g>
<g id="pb">
<text x="942" y="49.5" font-size="56" text-anchor="start" fill="#000" font-weight="bold">b</text>
<rect x="1031.4" y="54.6" width="177.1" height="652.3" fill="#fff"/>
<line x1="1031.4" y1="83.9" x2="1208.5" y2="83.9" stroke="#E6E6E6" stroke-width="2.2"/>
<line x1="1031.4" y1="158.1" x2="1208.5" y2="158.1" stroke="#ECECEC" stroke-width="1.8"/>
<line x1="1031.4" y1="232.4" x2="1208.5" y2="232.4" stroke="#E6E6E6" stroke-width="2.2"/>
<line x1="1031.4" y1="306.6" x2="1208.5" y2="306.6" stroke="#ECECEC" stroke-width="1.8"/>
<line x1="1031.4" y1="380.9" x2="1208.5" y2="380.9" stroke="#E6E6E6" stroke-width="2.2"/>
<line x1="1031.4" y1="455.1" x2="1208.5" y2="455.1" stroke="#ECECEC" stroke-width="1.8"/>
<line x1="1031.4" y1="529.3" x2="1208.5" y2="529.3" stroke="#E6E6E6" stroke-width="2.2"/>
<line x1="1031.4" y1="603.6" x2="1208.5" y2="603.6" stroke="#ECECEC" stroke-width="1.8"/>
<line x1="1031.4" y1="677.8" x2="1208.5" y2="677.8" stroke="#E6E6E6" stroke-width="2.2"/>
<line x1="1079.5" y1="54.6" x2="1079.5" y2="706.9" stroke="#E8E8E8" stroke-width="2.2"/>
<line x1="1160.6" y1="54.6" x2="1160.6" y2="706.9" stroke="#E8E8E8" stroke-width="2.2"/>
<rect x="1043.2" y="83.9" width="72.8" height="93.5" fill="#D2B48C"/>
<rect x="1043.2" y="177.1" width="72.8" height="170.2" fill="#94AB00"/>
<rect x="1043.2" y="347" width="72.8" height="149.4" fill="#FFD700"/>
<rect x="1043.2" y="496.1" width="72.8" height="18.7" fill="#FF7F00"/>
<rect x="1043.2" y="514.5" width="72.8" height="53.8" fill="#E31A1C"/>
<rect x="1043.2" y="567.9" width="72.8" height="18.7" fill="#7272A4"/>
<rect x="1043.2" y="586.3" width="72.8" height="64.4" fill="#7AA6F5"/>
<rect x="1043.2" y="650.5" width="72.8" height="18.1" fill="#DB7093"/>
<rect x="1043.2" y="668.3" width="72.8" height="9.8" fill="#B22222"/>
<text x="1080.6" y="137.3" font-size="33" text-anchor="middle" fill="#000">15.7</text>
<text x="1080.6" y="268.9" font-size="33" text-anchor="middle" fill="#000">28.6</text>
<text x="1080.6" y="428.3" font-size="33" text-anchor="middle" fill="#000">25.1</text>
<text x="1080.6" y="512.1" font-size="33" text-anchor="middle" fill="#000">3.1</text>
<text x="1080.6" y="548" font-size="33" text-anchor="middle" fill="#000">9.0</text>
<text x="1080.6" y="583.9" font-size="33" text-anchor="middle" fill="#000">3.1</text>
<text x="1080.6" y="625.2" font-size="33" text-anchor="middle" fill="#000">10.8</text>
<text x="1080.6" y="666.2" font-size="33" text-anchor="middle" fill="#000">3.0</text>
<text x="1080.6" y="690.8" font-size="33" text-anchor="middle" fill="#000">1.6</text>
<rect x="1124.1" y="83.9" width="72.7" height="56.7" fill="#D2B48C"/>
<rect x="1124.1" y="140.3" width="72.7" height="161.8" fill="#94AB00"/>
<rect x="1124.1" y="301.9" width="72.7" height="173.1" fill="#FFD700"/>
<rect x="1124.1" y="474.7" width="72.7" height="30" fill="#FF7F00"/>
<rect x="1124.1" y="504.4" width="72.7" height="86.4" fill="#E31A1C"/>
<rect x="1124.1" y="590.5" width="72.7" height="14.6" fill="#7272A4"/>
<rect x="1124.1" y="604.8" width="72.7" height="50.2" fill="#7AA6F5"/>
<rect x="1124.1" y="654.6" width="72.7" height="15.1" fill="#DB7093"/>
<rect x="1124.1" y="669.5" width="72.7" height="8.6" fill="#B22222"/>
<text x="1161.4" y="118.9" font-size="33" text-anchor="middle" fill="#000">9.5</text>
<text x="1161.4" y="227.9" font-size="33" text-anchor="middle" fill="#000">27.2</text>
<text x="1161.4" y="395.1" font-size="33" text-anchor="middle" fill="#000">29.1</text>
<text x="1161.4" y="496.3" font-size="33" text-anchor="middle" fill="#000">5.0</text>
<text x="1161.4" y="554.3" font-size="33" text-anchor="middle" fill="#000">14.5</text>
<text x="1161.4" y="604.4" font-size="33" text-anchor="middle" fill="#000">2.4</text>
<text x="1161.4" y="636.5" font-size="33" text-anchor="middle" fill="#000">8.4</text>
<text x="1161.4" y="668.9" font-size="33" text-anchor="middle" fill="#000">2.5</text>
<text x="1161.4" y="689.5" font-size="33" text-anchor="middle" fill="#000">1.4</text>
<rect x="1031.4" y="54.6" width="177.1" height="652.3" fill="none" stroke="#333" stroke-width="1.6"/>
<line x1="1025.5" y1="677.8" x2="1031.4" y2="677.8" stroke="#333" stroke-width="2"/>
<text x="1023.5" y="689.6" font-size="33" text-anchor="end" fill="#000">0</text>
<line x1="1025.5" y1="529.3" x2="1031.4" y2="529.3" stroke="#333" stroke-width="2"/>
<text x="1023.5" y="541.1" font-size="33" text-anchor="end" fill="#000">25</text>
<line x1="1025.5" y1="380.8" x2="1031.4" y2="380.8" stroke="#333" stroke-width="2"/>
<text x="1023.5" y="392.6" font-size="33" text-anchor="end" fill="#000">50</text>
<line x1="1025.5" y1="232.4" x2="1031.4" y2="232.4" stroke="#333" stroke-width="2"/>
<text x="1023.5" y="244.2" font-size="33" text-anchor="end" fill="#000">75</text>
<line x1="1025.5" y1="83.9" x2="1031.4" y2="83.9" stroke="#333" stroke-width="2"/>
<text x="1023.5" y="95.7" font-size="33" text-anchor="end" fill="#000">100</text>
<line x1="1079.5" y1="706.9" x2="1079.5" y2="712.4" stroke="#333" stroke-width="2"/>
<line x1="1160.6" y1="706.9" x2="1160.6" y2="712.4" stroke="#333" stroke-width="2"/>
<text x="1073.5" y="738.9" font-size="33" text-anchor="middle" fill="#000">Ctr</text>
<text x="1162" y="738.9" font-size="33" text-anchor="middle" fill="#000">KO</text>
<text x="974" y="376.5" font-size="34.4" text-anchor="middle" fill="#000" transform="rotate(-90 974 376.5)">Cell Proportion (%)</text>
</g>
<g id="pe">
<text x="1261" y="49.5" font-size="56" text-anchor="start" fill="#000" font-weight="bold">e</text>
<rect x="1377.9" y="53.9" width="657.7" height="543.6" fill="#fff"/>
<line x1="1377.9" y1="77.6" x2="2035.6" y2="77.6" stroke="#E6E6E6" stroke-width="2.2"/>
<line x1="1377.9" y1="139.6" x2="2035.6" y2="139.6" stroke="#ECECEC" stroke-width="1.8"/>
<line x1="1377.9" y1="201.6" x2="2035.6" y2="201.6" stroke="#E6E6E6" stroke-width="2.2"/>
<line x1="1377.9" y1="263.6" x2="2035.6" y2="263.6" stroke="#ECECEC" stroke-width="1.8"/>
<line x1="1377.9" y1="325.6" x2="2035.6" y2="325.6" stroke="#E6E6E6" stroke-width="2.2"/>
<line x1="1377.9" y1="387.7" x2="2035.6" y2="387.7" stroke="#ECECEC" stroke-width="1.8"/>
<line x1="1377.9" y1="449.7" x2="2035.6" y2="449.7" stroke="#E6E6E6" stroke-width="2.2"/>
<line x1="1377.9" y1="511.7" x2="2035.6" y2="511.7" stroke="#ECECEC" stroke-width="1.8"/>
<line x1="1377.9" y1="573.7" x2="2035.6" y2="573.7" stroke="#E6E6E6" stroke-width="2.2"/>
<line x1="1399.6" y1="53.9" x2="1399.6" y2="597.5" stroke="#E8E8E8" stroke-width="2.2"/>
<line x1="1435.7" y1="53.9" x2="1435.7" y2="597.5" stroke="#E8E8E8" stroke-width="2.2"/>
<line x1="1471.9" y1="53.9" x2="1471.9" y2="597.5" stroke="#E8E8E8" stroke-width="2.2"/>
<line x1="1508" y1="53.9" x2="1508" y2="597.5" stroke="#E8E8E8" stroke-width="2.2"/>
<line x1="1544.2" y1="53.9" x2="1544.2" y2="597.5" stroke="#E8E8E8" stroke-width="2.2"/>
<line x1="1580.3" y1="53.9" x2="1580.3" y2="597.5" stroke="#E8E8E8" stroke-width="2.2"/>
<line x1="1616.4" y1="53.9" x2="1616.4" y2="597.5" stroke="#E8E8E8" stroke-width="2.2"/>
<line x1="1652.6" y1="53.9" x2="1652.6" y2="597.5" stroke="#E8E8E8" stroke-width="2.2"/>
<line x1="1688.7" y1="53.9" x2="1688.7" y2="597.5" stroke="#E8E8E8" stroke-width="2.2"/>
<line x1="1724.9" y1="53.9" x2="1724.9" y2="597.5" stroke="#E8E8E8" stroke-width="2.2"/>
<line x1="1761" y1="53.9" x2="1761" y2="597.5" stroke="#E8E8E8" stroke-width="2.2"/>
<line x1="1797.1" y1="53.9" x2="1797.1" y2="597.5" stroke="#E8E8E8" stroke-width="2.2"/>
<line x1="1833.3" y1="53.9" x2="1833.3" y2="597.5" stroke="#E8E8E8" stroke-width="2.2"/>
<line x1="1869.4" y1="53.9" x2="1869.4" y2="597.5" stroke="#E8E8E8" stroke-width="2.2"/>
<line x1="1905.6" y1="53.9" x2="1905.6" y2="597.5" stroke="#E8E8E8" stroke-width="2.2"/>
<line x1="1941.7" y1="53.9" x2="1941.7" y2="597.5" stroke="#E8E8E8" stroke-width="2.2"/>
<line x1="1977.8" y1="53.9" x2="1977.8" y2="597.5" stroke="#E8E8E8" stroke-width="2.2"/>
<line x1="2014" y1="53.9" x2="2014" y2="597.5" stroke="#E8E8E8" stroke-width="2.2"/>
<rect x="1385.1" y="77.6" width="28.9" height="49.9" fill="#0059B5"/>
<rect x="1385.1" y="127.2" width="28.9" height="90.1" fill="#76BE00"/>
<rect x="1385.1" y="217" width="28.9" height="132.3" fill="#EAC100"/>
<rect x="1385.1" y="349" width="28.9" height="225" fill="#F65002"/>
<rect x="1421.3" y="77.6" width="28.9" height="67.8" fill="#0059B5"/>
<rect x="1421.3" y="145.1" width="28.9" height="107" fill="#76BE00"/>
<rect x="1421.3" y="251.7" width="28.9" height="99.5" fill="#EAC100"/>
<rect x="1421.3" y="351" width="28.9" height="223" fill="#F65002"/>
<rect x="1457.4" y="77.6" width="28.9" height="82.7" fill="#0059B5"/>
<rect x="1457.4" y="160" width="28.9" height="66.3" fill="#76BE00"/>
<rect x="1457.4" y="225.9" width="28.9" height="120.4" fill="#EAC100"/>
<rect x="1457.4" y="346" width="28.9" height="228" fill="#F65002"/>
<rect x="1493.6" y="77.6" width="28.9" height="64.3" fill="#0059B5"/>
<rect x="1493.6" y="141.6" width="28.9" height="73.7" fill="#76BE00"/>
<rect x="1493.6" y="215" width="28.9" height="128.3" fill="#EAC100"/>
<rect x="1493.6" y="343" width="28.9" height="231" fill="#F65002"/>
<rect x="1529.7" y="77.6" width="28.9" height="349.1" fill="#0059B5"/>
<rect x="1529.7" y="426.4" width="28.9" height="46.4" fill="#76BE00"/>
<rect x="1529.7" y="472.5" width="28.9" height="18.2" fill="#EAC100"/>
<rect x="1529.7" y="490.4" width="28.9" height="83.6" fill="#F65002"/>
<rect x="1565.8" y="77.6" width="28.9" height="317.8" fill="#0059B5"/>
<rect x="1565.8" y="395.1" width="28.9" height="49.4" fill="#76BE00"/>
<rect x="1565.8" y="444.2" width="28.9" height="23.6" fill="#EAC100"/>
<rect x="1565.8" y="467.5" width="28.9" height="106.5" fill="#F65002"/>
<rect x="1602" y="77.6" width="28.9" height="135.7" fill="#0059B5"/>
<rect x="1602" y="213" width="28.9" height="162.5" fill="#76BE00"/>
<rect x="1602" y="375.3" width="28.9" height="28.1" fill="#EAC100"/>
<rect x="1602" y="403" width="28.9" height="171" fill="#F65002"/>
<rect x="1638.1" y="77.6" width="28.9" height="119.4" fill="#0059B5"/>
<rect x="1638.1" y="196.7" width="28.9" height="109.9" fill="#76BE00"/>
<rect x="1638.1" y="306.3" width="28.9" height="104" fill="#EAC100"/>
<rect x="1638.1" y="410" width="28.9" height="164" fill="#F65002"/>
<rect x="1674.3" y="77.6" width="28.9" height="52.9" fill="#0059B5"/>
<rect x="1674.3" y="130.2" width="28.9" height="117.4" fill="#76BE00"/>
<rect x="1674.3" y="247.3" width="28.9" height="139.2" fill="#EAC100"/>
<rect x="1674.3" y="386.2" width="28.9" height="187.8" fill="#F65002"/>
<rect x="1710.4" y="77.6" width="28.9" height="39.5" fill="#0059B5"/>
<rect x="1710.4" y="116.8" width="28.9" height="95.1" fill="#76BE00"/>
<rect x="1710.4" y="211.5" width="28.9" height="167" fill="#EAC100"/>
<rect x="1710.4" y="378.2" width="28.9" height="195.8" fill="#F65002"/>
<rect x="1746.5" y="77.6" width="28.9" height="44.5" fill="#0059B5"/>
<rect x="1746.5" y="121.8" width="28.9" height="27.1" fill="#76BE00"/>
<rect x="1746.5" y="148.5" width="28.9" height="221.6" fill="#EAC100"/>
<rect x="1746.5" y="369.8" width="28.9" height="204.2" fill="#F65002"/>
<rect x="1782.7" y="77.6" width="28.9" height="248.4" fill="#EAC100"/>
<rect x="1782.7" y="325.7" width="28.9" height="248.4" fill="#F65002"/>
<rect x="1818.8" y="77.6" width="28.9" height="77.2" fill="#0059B5"/>
<rect x="1818.8" y="154.5" width="28.9" height="36.5" fill="#76BE00"/>
<rect x="1818.8" y="190.7" width="28.9" height="157.6" fill="#EAC100"/>
<rect x="1818.8" y="348" width="28.9" height="226" fill="#F65002"/>
<rect x="1855" y="77.6" width="28.9" height="47.4" fill="#0059B5"/>
<rect x="1855" y="124.7" width="28.9" height="20.6" fill="#76BE00"/>
<rect x="1855" y="145.1" width="28.9" height="203.2" fill="#EAC100"/>
<rect x="1855" y="348" width="28.9" height="226" fill="#F65002"/>
<rect x="1891.1" y="77.6" width="28.9" height="318.8" fill="#0059B5"/>
<rect x="1891.1" y="396.1" width="28.9" height="18.7" fill="#76BE00"/>
<rect x="1891.1" y="414.5" width="28.9" height="46.9" fill="#EAC100"/>
<rect x="1891.1" y="461.1" width="28.9" height="112.9" fill="#F65002"/>
<rect x="1927.2" y="77.6" width="28.9" height="294" fill="#0059B5"/>
<rect x="1927.2" y="371.3" width="28.9" height="10.2" fill="#76BE00"/>
<rect x="1927.2" y="381.2" width="28.9" height="102" fill="#EAC100"/>
<rect x="1927.2" y="482.9" width="28.9" height="91.1" fill="#F65002"/>
<rect x="1963.4" y="77.6" width="28.9" height="154.1" fill="#0059B5"/>
<rect x="1963.4" y="231.4" width="28.9" height="17.7" fill="#76BE00"/>
<rect x="1963.4" y="248.8" width="28.9" height="273.7" fill="#EAC100"/>
<rect x="1963.4" y="522.1" width="28.9" height="51.9" fill="#F65002"/>
<rect x="1999.5" y="77.6" width="28.9" height="73.7" fill="#76BE00"/>
<rect x="1999.5" y="151" width="28.9" height="276.1" fill="#EAC100"/>
<rect x="1999.5" y="426.9" width="28.9" height="147.1" fill="#F65002"/>
<rect x="1377.9" y="53.9" width="657.7" height="543.6" fill="none" stroke="#333" stroke-width="1.6"/>
<line x1="1372.5" y1="573.7" x2="1377.9" y2="573.7" stroke="#333" stroke-width="2"/>
<text x="1366" y="585.5" font-size="33" text-anchor="end" fill="#000">0</text>
<line x1="1372.5" y1="449.7" x2="1377.9" y2="449.7" stroke="#333" stroke-width="2"/>
<text x="1366" y="461.5" font-size="33" text-anchor="end" fill="#000">25</text>
<line x1="1372.5" y1="325.7" x2="1377.9" y2="325.7" stroke="#333" stroke-width="2"/>
<text x="1366" y="337.5" font-size="33" text-anchor="end" fill="#000">50</text>
<line x1="1372.5" y1="201.6" x2="1377.9" y2="201.6" stroke="#333" stroke-width="2"/>
<text x="1366" y="213.4" font-size="33" text-anchor="end" fill="#000">75</text>
<line x1="1372.5" y1="77.6" x2="1377.9" y2="77.6" stroke="#333" stroke-width="2"/>
<text x="1366" y="89.4" font-size="33" text-anchor="end" fill="#000">100</text>
<line x1="1399.6" y1="597.5" x2="1399.6" y2="603" stroke="#333" stroke-width="2"/>
<text x="1411.4" y="606" font-size="33" text-anchor="end" fill="#000" transform="rotate(-90 1411.4 606)">Ctr</text>
<line x1="1435.7" y1="597.5" x2="1435.7" y2="603" stroke="#333" stroke-width="2"/>
<text x="1447.5" y="606" font-size="33" text-anchor="end" fill="#000" transform="rotate(-90 1447.5 606)">KO</text>
<line x1="1471.9" y1="597.5" x2="1471.9" y2="603" stroke="#333" stroke-width="2"/>
<text x="1483.7" y="606" font-size="33" text-anchor="end" fill="#000" transform="rotate(-90 1483.7 606)">Ctr</text>
<line x1="1508" y1="597.5" x2="1508" y2="603" stroke="#333" stroke-width="2"/>
<text x="1519.8" y="606" font-size="33" text-anchor="end" fill="#000" transform="rotate(-90 1519.8 606)">KO</text>
<line x1="1544.2" y1="597.5" x2="1544.2" y2="603" stroke="#333" stroke-width="2"/>
<text x="1556" y="606" font-size="33" text-anchor="end" fill="#000" transform="rotate(-90 1556 606)">Ctr</text>
<line x1="1580.3" y1="597.5" x2="1580.3" y2="603" stroke="#333" stroke-width="2"/>
<text x="1592.1" y="606" font-size="33" text-anchor="end" fill="#000" transform="rotate(-90 1592.1 606)">KO</text>
<line x1="1616.4" y1="597.5" x2="1616.4" y2="603" stroke="#333" stroke-width="2"/>
<text x="1628.2" y="606" font-size="33" text-anchor="end" fill="#000" transform="rotate(-90 1628.2 606)">Ctr</text>
<line x1="1652.6" y1="597.5" x2="1652.6" y2="603" stroke="#333" stroke-width="2"/>
<text x="1664.4" y="606" font-size="33" text-anchor="end" fill="#000" transform="rotate(-90 1664.4 606)">KO</text>
<line x1="1688.7" y1="597.5" x2="1688.7" y2="603" stroke="#333" stroke-width="2"/>
<text x="1700.5" y="606" font-size="33" text-anchor="end" fill="#000" transform="rotate(-90 1700.5 606)">Ctr</text>
<line x1="1724.9" y1="597.5" x2="1724.9" y2="603" stroke="#333" stroke-width="2"/>
<text x="1736.7" y="606" font-size="33" text-anchor="end" fill="#000" transform="rotate(-90 1736.7 606)">KO</text>
<line x1="1761" y1="597.5" x2="1761" y2="603" stroke="#333" stroke-width="2"/>
<text x="1772.8" y="606" font-size="33" text-anchor="end" fill="#000" transform="rotate(-90 1772.8 606)">Ctr</text>
<line x1="1797.1" y1="597.5" x2="1797.1" y2="603" stroke="#333" stroke-width="2"/>
<text x="1808.9" y="606" font-size="33" text-anchor="end" fill="#000" transform="rotate(-90 1808.9 606)">KO</text>
<line x1="1833.3" y1="597.5" x2="1833.3" y2="603" stroke="#333" stroke-width="2"/>
<text x="1845.1" y="606" font-size="33" text-anchor="end" fill="#000" transform="rotate(-90 1845.1 606)">Ctr</text>
<line x1="1869.4" y1="597.5" x2="1869.4" y2="603" stroke="#333" stroke-width="2"/>
<text x="1881.2" y="606" font-size="33" text-anchor="end" fill="#000" transform="rotate(-90 1881.2 606)">KO</text>
<line x1="1905.6" y1="597.5" x2="1905.6" y2="603" stroke="#333" stroke-width="2"/>
<text x="1917.4" y="606" font-size="33" text-anchor="end" fill="#000" transform="rotate(-90 1917.4 606)">Ctr</text>
<line x1="1941.7" y1="597.5" x2="1941.7" y2="603" stroke="#333" stroke-width="2"/>
<text x="1953.5" y="606" font-size="33" text-anchor="end" fill="#000" transform="rotate(-90 1953.5 606)">KO</text>
<line x1="1977.8" y1="597.5" x2="1977.8" y2="603" stroke="#333" stroke-width="2"/>
<text x="1989.6" y="606" font-size="33" text-anchor="end" fill="#000" transform="rotate(-90 1989.6 606)">Ctr</text>
<line x1="2014" y1="597.5" x2="2014" y2="603" stroke="#333" stroke-width="2"/>
<text x="2025.8" y="606" font-size="33" text-anchor="end" fill="#000" transform="rotate(-90 2025.8 606)">KO</text>
<text x="1313.5" y="329.5" font-size="34" text-anchor="middle" fill="#000" transform="rotate(-90 1313.5 329.5)">Cell Proportion (%)</text>
<circle cx="1415.3" cy="51" r="16.6" fill="#D2B48C"/>
<text x="1415.3" y="63" font-size="32" text-anchor="middle" fill="#000">1</text>
<path d="M1404.8 76V68.4H1425.8V76" fill="none" stroke="#000" stroke-width="2.7"/>
<circle cx="1491.6" cy="51" r="16.6" fill="#94AB00"/>
<text x="1491.6" y="63" font-size="32" text-anchor="middle" fill="#000">2</text>
<path d="M1481.1 76V68.4H1502.1V76" fill="none" stroke="#000" stroke-width="2.7"/>
<circle cx="1559.4" cy="51" r="16.6" fill="#FFD700"/>
<text x="1559.4" y="63" font-size="32" text-anchor="middle" fill="#000">3</text>
<path d="M1548.9 76V68.4H1569.9V76" fill="none" stroke="#000" stroke-width="2.7"/>
<circle cx="1634.3" cy="51" r="16.6" fill="#FF7F00"/>
<text x="1634.3" y="63" font-size="32" text-anchor="middle" fill="#000">4</text>
<path d="M1623.8 76V68.4H1644.8V76" fill="none" stroke="#000" stroke-width="2.7"/>
<circle cx="1705.2" cy="51" r="16.6" fill="#E31A1C"/>
<text x="1705.2" y="63" font-size="32" text-anchor="middle" fill="#000">5</text>
<path d="M1694.7 76V68.4H1715.7V76" fill="none" stroke="#000" stroke-width="2.7"/>
<circle cx="1778.4" cy="51" r="16.6" fill="#7272A4"/>
<text x="1778.4" y="63" font-size="32" text-anchor="middle" fill="#000">6</text>
<path d="M1767.9 76V68.4H1788.9V76" fill="none" stroke="#000" stroke-width="2.7"/>
<circle cx="1852" cy="51" r="16.6" fill="#7AA6F5"/>
<text x="1852" y="63" font-size="32" text-anchor="middle" fill="#000">7</text>
<path d="M1841.5 76V68.4H1862.5V76" fill="none" stroke="#000" stroke-width="2.7"/>
<circle cx="1922.9" cy="51" r="16.6" fill="#DB7093"/>
<text x="1922.9" y="63" font-size="32" text-anchor="middle" fill="#000">8</text>
<path d="M1912.4 76V68.4H1933.4V76" fill="none" stroke="#000" stroke-width="2.7"/>
<circle cx="1996.9" cy="51" r="16.6" fill="#B22222"/>
<text x="1996.9" y="63" font-size="32" text-anchor="middle" fill="#000">9</text>
<path d="M1986.4 76V68.4H2007.4V76" fill="none" stroke="#000" stroke-width="2.7"/>
<text x="1806" y="694.5" font-size="33" text-anchor="start" fill="#000">Q</text>
<text x="1849.5" y="694.5" font-size="33" text-anchor="start" fill="#000">G1</text>
<text x="1906" y="694.5" font-size="33" text-anchor="start" fill="#000">S</text>
<text x="1945.5" y="694.5" font-size="33" text-anchor="start" fill="#000">G2/M</text>
<rect x="1801.4" y="701.2" width="48.7" height="48.7" fill="#0059B5"/>
<rect x="1853.4" y="701.2" width="48.7" height="48.7" fill="#76BE00"/>
<rect x="1906" y="701.2" width="48.7" height="48.7" fill="#EAC100"/>
<rect x="1958" y="701.2" width="48.7" height="48.7" fill="#F65002"/>
</g>
<g id="pc">
<text x="4" y="797" font-size="56" text-anchor="start" fill="#000" font-weight="bold">c</text>
<defs><filter id="tex" x="0" y="0" width="100%" height="100%" color-interpolation-filters="sRGB"><feTurbulence type="fractalNoise" baseFrequency="0.11" numOctaves="3" seed="3"/><feColorMatrix type="matrix" values="0 0 0 0 0.55  0 0 0 0 0  0 0 0 0 0  1.1 0 0 0 -0.42"/></filter><filter id="tex2" x="0" y="0" width="100%" height="100%" color-interpolation-filters="sRGB"><feTurbulence type="fractalNoise" baseFrequency="0.10" numOctaves="3" seed="11"/><feColorMatrix type="matrix" values="0 0 0 0 0.55  0 0 0 0 0  0 0 0 0 0  1.1 0 0 0 -0.42"/></filter><filter id="bl8" x="-30%" y="-30%" width="160%" height="160%"><feGaussianBlur stdDeviation="5"/></filter><filter id="bl3" x="-30%" y="-30%" width="160%" height="160%"><feGaussianBlur stdDeviation="2.5"/></filter><filter id="bl20" x="-50%" y="-50%" width="200%" height="200%"><feGaussianBlur stdDeviation="18"/></filter><clipPath id="clipL"><rect x="51" y="832" width="340.2" height="340.6"/></clipPath><clipPath id="clipR"><rect x="400" y="832.4" width="340" height="340.4"/></clipPath></defs>
<g clip-path="url(#clipL)">
<rect x="51" y="832" width="340.2" height="340.6" fill="#0a0000"/>
<rect x="51" y="832" width="340.2" height="340.6" filter="url(#tex)"/>
<ellipse cx="120" cy="1020" rx="60" ry="90" fill="#000" opacity="0.55" filter="url(#bl20)"/>
<ellipse cx="330" cy="900" rx="50" ry="70" fill="#000" opacity="0.6" filter="url(#bl20)"/>
<ellipse cx="170" cy="890" rx="60" ry="40" fill="#000" opacity="0.5" filter="url(#bl20)"/>
<path d="M219.5 889.1 227.5 889.6 235.5 889.3 243.4 888.3 250.4 886.8 256.4 884.8 260.1 884.3 261.6 885.3 262.9 887.8 263.9 891.8 265.6 896.3 268.1 901.3 270.9 906.3 273.8 911.2 276.1 916.2 277.6 921.2 278.6 926.2 279.1 931.2 280.1 935.7 281.6 939.7 284.6 943.2 289.1 946.1 293.3 949.6 297.3 953.6 300 958.1 301.5 963.1 302 969.1 301.5 976.1 301.4 982 301.6 987 301.1 991.5 299.9 995.5 299.5 999.5 300 1003.5 301.3 1008 303.3 1013 304 1018.4 303.5 1024.4 302.3 1029.9 300.3 1034.9 298.3 1039.9 296.3 1044.9 294.5 1048.9 293 1051.9 290.5 1054.8 287.1 1057.8 283.8 1061.3 280.8 1065.3 278.3 1069.8 276.3 1074.8 273.8 1080.3 270.9 1086.3 268.1 1092.2 265.6 1098.2 263.4 1103.2 261.4 1107.2 260.1 1111.7 259.6 1116.7 257.4 1120.7 253.4 1123.6 249.4 1126.1 245.4 1128.1 242.4 1129.6 240.4 1130.6 238.7 1133.1 237.2 1137.1 235.2 1139.9 232.7 1141.4 229.5 1142.1 225.5 1142.1 222.5 1140.9 220.5 1138.4 217.5 1135.1 213.5 1131.1 209 1126.6 204 1121.7 198.6 1116.7 192.6 1111.7 186.6 1107.2 180.6 1103.2 175.1 1098.7 170.1 1093.7 165.1 1088.2 160.2 1082.3 155.7 1075.8 151.7 1068.8 148.2 1062.3 145.2 1056.3 142.5 1051.4 140 1047.4 138.2 1041.9 137.2 1034.9 135.5 1028.4 133 1022.4 130.5 1016 128 1009 126 1003 124.5 998 125 994 127.5 991 129.5 986.5 131 980.6 132 974.1 132.5 967.1 134 961.6 136.5 957.6 140.2 954.1 145.2 951.1 149.4 947.6 152.9 943.7 156.9 939.2 161.4 934.2 166.6 928.7 172.6 922.7 179.1 916.7 186.1 910.7 192.6 904.8 198.6 898.8 203.5 894.3 207.5 891.3 211 889.6 214 889.1Z" fill="#700000" stroke="#700000" stroke-width="40" opacity="0.35" filter="url(#bl20)"/>
<path d="M219.5 889.1 227.5 889.6 235.5 889.3 243.4 888.3 250.4 886.8 256.4 884.8 260.1 884.3 261.6 885.3 262.9 887.8 263.9 891.8 265.6 896.3 268.1 901.3 270.9 906.3 273.8 911.2 276.1 916.2 277.6 921.2 278.6 926.2 279.1 931.2 280.1 935.7 281.6 939.7 284.6 943.2 289.1 946.1 293.3 949.6 297.3 953.6 300 958.1 301.5 963.1 302 969.1 301.5 976.1 301.4 982 301.6 987 301.1 991.5 299.9 995.5 299.5 999.5 300 1003.5 301.3 1008 303.3 1013 304 1018.4 303.5 1024.4 302.3 1029.9 300.3 1034.9 298.3 1039.9 296.3 1044.9 294.5 1048.9 293 1051.9 290.5 1054.8 287.1 1057.8 283.8 1061.3 280.8 1065.3 278.3 1069.8 276.3 1074.8 273.8 1080.3 270.9 1086.3 268.1 1092.2 265.6 1098.2 263.4 1103.2 261.4 1107.2 260.1 1111.7 259.6 1116.7 257.4 1120.7 253.4 1123.6 249.4 1126.1 245.4 1128.1 242.4 1129.6 240.4 1130.6 238.7 1133.1 237.2 1137.1 235.2 1139.9 232.7 1141.4 229.5 1142.1 225.5 1142.1 222.5 1140.9 220.5 1138.4 217.5 1135.1 213.5 1131.1 209 1126.6 204 1121.7 198.6 1116.7 192.6 1111.7 186.6 1107.2 180.6 1103.2 175.1 1098.7 170.1 1093.7 165.1 1088.2 160.2 1082.3 155.7 1075.8 151.7 1068.8 148.2 1062.3 145.2 1056.3 142.5 1051.4 140 1047.4 138.2 1041.9 137.2 1034.9 135.5 1028.4 133 1022.4 130.5 1016 128 1009 126 1003 124.5 998 125 994 127.5 991 129.5 986.5 131 980.6 132 974.1 132.5 967.1 134 961.6 136.5 957.6 140.2 954.1 145.2 951.1 149.4 947.6 152.9 943.7 156.9 939.2 161.4 934.2 166.6 928.7 172.6 922.7 179.1 916.7 186.1 910.7 192.6 904.8 198.6 898.8 203.5 894.3 207.5 891.3 211 889.6 214 889.1Z" fill="none" stroke="#d00000" stroke-width="18" opacity="0.7" filter="url(#bl8)"/>
<path d="M199.6 885.8 215.5 871.9 239.4 865.9 259.4 856.9 279.3 857.9 287.3 869.9 281.3 885.8 285.3 899.8 279.3 909.7 269.4 895.8 261.4 883.8 247.4 887.8 231.5 889.8 215.5 887.8Z" fill="#d80000" opacity="0.75" filter="url(#bl3)"/>
<path d="M299.3 947.6 309.2 951.6 315.2 967.6 313.2 983.5 307.3 999.5 309.2 1011.5 307.3 1029.4 301.3 1019.4 303.3 999.5 302.3 971.6Z" fill="#d80000" opacity="0.7" filter="url(#bl3)"/>
<path d="M219.5 889.1 227.5 889.6 235.5 889.3 243.4 888.3 250.4 886.8 256.4 884.8 260.1 884.3 261.6 885.3 262.9 887.8 263.9 891.8 265.6 896.3 268.1 901.3 270.9 906.3 273.8 911.2 276.1 916.2 277.6 921.2 278.6 926.2 279.1 931.2 280.1 935.7 281.6 939.7 284.6 943.2 289.1 946.1 293.3 949.6 297.3 953.6 300 958.1 301.5 963.1 302 969.1 301.5 976.1 301.4 982 301.6 987 301.1 991.5 299.9 995.5 299.5 999.5 300 1003.5 301.3 1008 303.3 1013 304 1018.4 303.5 1024.4 302.3 1029.9 300.3 1034.9 298.3 1039.9 296.3 1044.9 294.5 1048.9 293 1051.9 290.5 1054.8 287.1 1057.8 283.8 1061.3 280.8 1065.3 278.3 1069.8 276.3 1074.8 273.8 1080.3 270.9 1086.3 268.1 1092.2 265.6 1098.2 263.4 1103.2 261.4 1107.2 260.1 1111.7 259.6 1116.7 257.4 1120.7 253.4 1123.6 249.4 1126.1 245.4 1128.1 242.4 1129.6 240.4 1130.6 238.7 1133.1 237.2 1137.1 235.2 1139.9 232.7 1141.4 229.5 1142.1 225.5 1142.1 222.5 1140.9 220.5 1138.4 217.5 1135.1 213.5 1131.1 209 1126.6 204 1121.7 198.6 1116.7 192.6 1111.7 186.6 1107.2 180.6 1103.2 175.1 1098.7 170.1 1093.7 165.1 1088.2 160.2 1082.3 155.7 1075.8 151.7 1068.8 148.2 1062.3 145.2 1056.3 142.5 1051.4 140 1047.4 138.2 1041.9 137.2 1034.9 135.5 1028.4 133 1022.4 130.5 1016 128 1009 126 1003 124.5 998 125 994 127.5 991 129.5 986.5 131 980.6 132 974.1 132.5 967.1 134 961.6 136.5 957.6 140.2 954.1 145.2 951.1 149.4 947.6 152.9 943.7 156.9 939.2 161.4 934.2 166.6 928.7 172.6 922.7 179.1 916.7 186.1 910.7 192.6 904.8 198.6 898.8 203.5 894.3 207.5 891.3 211 889.6 214 889.1Z" fill="none" stroke="#ff1010" stroke-width="7" opacity="0.9" filter="url(#bl3)"/>
<path d="M219.5 889.1 227.5 889.6 235.5 889.3 243.4 888.3 250.4 886.8 256.4 884.8 260.1 884.3 261.6 885.3 262.9 887.8 263.9 891.8 265.6 896.3 268.1 901.3 270.9 906.3 273.8 911.2 276.1 916.2 277.6 921.2 278.6 926.2 279.1 931.2 280.1 935.7 281.6 939.7 284.6 943.2 289.1 946.1 293.3 949.6 297.3 953.6 300 958.1 301.5 963.1 302 969.1 301.5 976.1 301.4 982 301.6 987 301.1 991.5 299.9 995.5 299.5 999.5 300 1003.5 301.3 1008 303.3 1013 304 1018.4 303.5 1024.4 302.3 1029.9 300.3 1034.9 298.3 1039.9 296.3 1044.9 294.5 1048.9 293 1051.9 290.5 1054.8 287.1 1057.8 283.8 1061.3 280.8 1065.3 278.3 1069.8 276.3 1074.8 273.8 1080.3 270.9 1086.3 268.1 1092.2 265.6 1098.2 263.4 1103.2 261.4 1107.2 260.1 1111.7 259.6 1116.7 257.4 1120.7 253.4 1123.6 249.4 1126.1 245.4 1128.1 242.4 1129.6 240.4 1130.6 238.7 1133.1 237.2 1137.1 235.2 1139.9 232.7 1141.4 229.5 1142.1 225.5 1142.1 222.5 1140.9 220.5 1138.4 217.5 1135.1 213.5 1131.1 209 1126.6 204 1121.7 198.6 1116.7 192.6 1111.7 186.6 1107.2 180.6 1103.2 175.1 1098.7 170.1 1093.7 165.1 1088.2 160.2 1082.3 155.7 1075.8 151.7 1068.8 148.2 1062.3 145.2 1056.3 142.5 1051.4 140 1047.4 138.2 1041.9 137.2 1034.9 135.5 1028.4 133 1022.4 130.5 1016 128 1009 126 1003 124.5 998 125 994 127.5 991 129.5 986.5 131 980.6 132 974.1 132.5 967.1 134 961.6 136.5 957.6 140.2 954.1 145.2 951.1 149.4 947.6 152.9 943.7 156.9 939.2 161.4 934.2 166.6 928.7 172.6 922.7 179.1 916.7 186.1 910.7 192.6 904.8 198.6 898.8 203.5 894.3 207.5 891.3 211 889.6 214 889.1Z" fill="#0d0d0d"/>
<circle cx="229" cy="941" r="5" fill="none" stroke="#a00000" stroke-width="2" opacity="0.3"/>
<circle cx="172" cy="968" r="5" fill="none" stroke="#a00000" stroke-width="2" opacity="0.3"/>
<circle cx="138" cy="1017" r="6" fill="none" stroke="#a00000" stroke-width="2" opacity="0.3"/>
<circle cx="293" cy="1015" r="9" fill="none" stroke="#a00000" stroke-width="2" opacity="0.75"/>
<circle cx="277" cy="1052" r="6" fill="none" stroke="#a00000" stroke-width="2" opacity="0.3"/>
<path d="M219.5 889.1 227.5 889.6 235.5 889.3 243.4 888.3 250.4 886.8 256.4 884.8 260.1 884.3 261.6 885.3 262.9 887.8 263.9 891.8 265.6 896.3 268.1 901.3 270.9 906.3 273.8 911.2 276.1 916.2 277.6 921.2 278.6 926.2 279.1 931.2 280.1 935.7 281.6 939.7 284.6 943.2 289.1 946.1 293.3 949.6 297.3 953.6 300 958.1 301.5 963.1 302 969.1 301.5 976.1 301.4 982 301.6 987 301.1 991.5 299.9 995.5 299.5 999.5 300 1003.5 301.3 1008 303.3 1013 304 1018.4 303.5 1024.4 302.3 1029.9 300.3 1034.9 298.3 1039.9 296.3 1044.9 294.5 1048.9 293 1051.9 290.5 1054.8 287.1 1057.8 283.8 1061.3 280.8 1065.3 278.3 1069.8 276.3 1074.8 273.8 1080.3 270.9 1086.3 268.1 1092.2 265.6 1098.2 263.4 1103.2 261.4 1107.2 260.1 1111.7 259.6 1116.7 257.4 1120.7 253.4 1123.6 249.4 1126.1 245.4 1128.1 242.4 1129.6 240.4 1130.6 238.7 1133.1 237.2 1137.1 235.2 1139.9 232.7 1141.4 229.5 1142.1 225.5 1142.1 222.5 1140.9 220.5 1138.4 217.5 1135.1 213.5 1131.1 209 1126.6 204 1121.7 198.6 1116.7 192.6 1111.7 186.6 1107.2 180.6 1103.2 175.1 1098.7 170.1 1093.7 165.1 1088.2 160.2 1082.3 155.7 1075.8 151.7 1068.8 148.2 1062.3 145.2 1056.3 142.5 1051.4 140 1047.4 138.2 1041.9 137.2 1034.9 135.5 1028.4 133 1022.4 130.5 1016 128 1009 126 1003 124.5 998 125 994 127.5 991 129.5 986.5 131 980.6 132 974.1 132.5 967.1 134 961.6 136.5 957.6 140.2 954.1 145.2 951.1 149.4 947.6 152.9 943.7 156.9 939.2 161.4 934.2 166.6 928.7 172.6 922.7 179.1 916.7 186.1 910.7 192.6 904.8 198.6 898.8 203.5 894.3 207.5 891.3 211 889.6 214 889.1Z" fill="none" stroke="#fff" stroke-width="2.8" stroke-linejoin="round" stroke-dasharray="46 2.5 30 2.5 60 2.5"/>
<line x1="219.5" y1="889.8" x2="231.5" y2="1142.1" stroke="#fff" stroke-width="1.5"/>
</g>
<text x="61.5" y="875.8" font-size="33.5" text-anchor="start" fill="#fff" letter-spacing="1">Ctr</text>
<text x="60" y="1159" font-size="33" text-anchor="start" fill="#ff0000">CD34</text>
<text x="285.5" y="1137" font-size="32.5" text-anchor="start" fill="#fff">50 µm</text>
<rect x="309.2" y="1152" width="52" height="5" fill="#fff"/>
<g clip-path="url(#clipR)">
<rect x="400" y="832.4" width="340" height="340.4" fill="#160000"/>
<rect x="400" y="832.4" width="340" height="340.4" filter="url(#tex2)"/>
<ellipse cx="580" cy="1165" rx="45" ry="22" fill="#000" opacity="0.95" filter="url(#bl3)"/>
<ellipse cx="738" cy="962" rx="10" ry="14" fill="#000" opacity="0.95" filter="url(#bl3)"/>
<ellipse cx="500" cy="880" rx="80" ry="40" fill="#000" opacity="0.45" filter="url(#bl20)"/>
<path d="M700 1000 L725 1030 L705 1060 L735 1090 M660 1080 L700 1075 L725 1100 L690 1110 M640 1130 L600 1160 L620 1172" fill="none" stroke="#c00000" stroke-width="5" opacity="0.55" filter="url(#bl3)"/>
<path d="M479.3 923 482.2 921.5 485.7 921 489.7 921.5 493 922.7 495.5 924.7 497.4 926.7 498.9 928.7 501.7 930.4 505.7 931.9 509.7 932.9 513.7 933.4 518.1 932.7 523.1 930.7 528.6 929.4 534.6 928.9 540.6 929.2 546.6 930.2 551.3 931.2 554.8 932.2 557.8 934.2 560.3 937.2 563.5 938.9 567.5 939.4 572 938.7 577 936.7 582 934.4 586.9 931.9 592.4 929.7 598.4 927.7 602.9 927.2 605.9 928.2 608.1 930.9 609.6 935.4 611.1 939.2 612.6 942.2 614.9 945.6 617.9 949.6 621.4 953.1 625.3 956.1 628.8 958.6 631.8 960.6 634.8 963.6 637.8 967.6 640.3 971.6 642.3 975.6 643.8 980.1 644.8 985 646 989.5 647.5 993.5 648 998 647.5 1003 646.5 1008 645 1013 643 1017.4 640.5 1021.4 637.8 1025.4 634.8 1029.4 631.3 1032.7 627.3 1035.1 622.8 1036.9 617.9 1037.9 613.9 1040.1 610.9 1043.6 606.9 1046.4 601.9 1048.4 597.9 1050.1 594.9 1051.6 591.9 1051.6 588.9 1050.1 586 1049.9 583 1050.9 578.5 1049.9 572.5 1046.9 567 1044.4 562 1042.4 557 1041.6 552 1042.1 546.6 1041.4 540.6 1039.4 535.6 1037.1 531.6 1034.6 527.6 1031.4 523.6 1027.4 520.1 1023.4 517.1 1019.4 513.7 1015.5 509.7 1011.5 506.2 1008.7 503.2 1007.2 500.2 1006.2 497.2 1005.7 494.7 1003.5 492.7 999.5 490.7 995 488.7 990 486.2 986 483.2 983 480.7 980.6 478.8 978.6 478.3 975.1 479.3 970.1 479.5 965.6 479 961.6 477.5 958.1 475 955.1 472.8 952.1 470.8 949.1 470.5 945.6 472 941.7 472.5 937.7 472 933.7 473.3 929.7 476.3 925.7Z" fill="#700000" stroke="#700000" stroke-width="40" opacity="0.3" filter="url(#bl20)"/>
<ellipse cx="690" cy="1060" rx="50" ry="90" fill="#800000" opacity="0.4" filter="url(#bl20)"/>
<path d="M479.3 923 482.2 921.5 485.7 921 489.7 921.5 493 922.7 495.5 924.7 497.4 926.7 498.9 928.7 501.7 930.4 505.7 931.9 509.7 932.9 513.7 933.4 518.1 932.7 523.1 930.7 528.6 929.4 534.6 928.9 540.6 929.2 546.6 930.2 551.3 931.2 554.8 932.2 557.8 934.2 560.3 937.2 563.5 938.9 567.5 939.4 572 938.7 577 936.7 582 934.4 586.9 931.9 592.4 929.7 598.4 927.7 602.9 927.2 605.9 928.2 608.1 930.9 609.6 935.4 611.1 939.2 612.6 942.2 614.9 945.6 617.9 949.6 621.4 953.1 625.3 956.1 628.8 958.6 631.8 960.6 634.8 963.6 637.8 967.6 640.3 971.6 642.3 975.6 643.8 980.1 644.8 985 646 989.5 647.5 993.5 648 998 647.5 1003 646.5 1008 645 1013 643 1017.4 640.5 1021.4 637.8 1025.4 634.8 1029.4 631.3 1032.7 627.3 1035.1 622.8 1036.9 617.9 1037.9 613.9 1040.1 610.9 1043.6 606.9 1046.4 601.9 1048.4 597.9 1050.1 594.9 1051.6 591.9 1051.6 588.9 1050.1 586 1049.9 583 1050.9 578.5 1049.9 572.5 1046.9 567 1044.4 562 1042.4 557 1041.6 552 1042.1 546.6 1041.4 540.6 1039.4 535.6 1037.1 531.6 1034.6 527.6 1031.4 523.6 1027.4 520.1 1023.4 517.1 1019.4 513.7 1015.5 509.7 1011.5 506.2 1008.7 503.2 1007.2 500.2 1006.2 497.2 1005.7 494.7 1003.5 492.7 999.5 490.7 995 488.7 990 486.2 986 483.2 983 480.7 980.6 478.8 978.6 478.3 975.1 479.3 970.1 479.5 965.6 479 961.6 477.5 958.1 475 955.1 472.8 952.1 470.8 949.1 470.5 945.6 472 941.7 472.5 937.7 472 933.7 473.3 929.7 476.3 925.7Z" fill="none" stroke="#c80000" stroke-width="9" opacity="0.6" filter="url(#bl8)"/>
<path d="M479.3 923 482.2 921.5 485.7 921 489.7 921.5 493 922.7 495.5 924.7 497.4 926.7 498.9 928.7 501.7 930.4 505.7 931.9 509.7 932.9 513.7 933.4 518.1 932.7 523.1 930.7 528.6 929.4 534.6 928.9 540.6 929.2 546.6 930.2 551.3 931.2 554.8 932.2 557.8 934.2 560.3 937.2 563.5 938.9 567.5 939.4 572 938.7 577 936.7 582 934.4 586.9 931.9 592.4 929.7 598.4 927.7 602.9 927.2 605.9 928.2 608.1 930.9 609.6 935.4 611.1 939.2 612.6 942.2 614.9 945.6 617.9 949.6 621.4 953.1 625.3 956.1 628.8 958.6 631.8 960.6 634.8 963.6 637.8 967.6 640.3 971.6 642.3 975.6 643.8 980.1 644.8 985 646 989.5 647.5 993.5 648 998 647.5 1003 646.5 1008 645 1013 643 1017.4 640.5 1021.4 637.8 1025.4 634.8 1029.4 631.3 1032.7 627.3 1035.1 622.8 1036.9 617.9 1037.9 613.9 1040.1 610.9 1043.6 606.9 1046.4 601.9 1048.4 597.9 1050.1 594.9 1051.6 591.9 1051.6 588.9 1050.1 586 1049.9 583 1050.9 578.5 1049.9 572.5 1046.9 567 1044.4 562 1042.4 557 1041.6 552 1042.1 546.6 1041.4 540.6 1039.4 535.6 1037.1 531.6 1034.6 527.6 1031.4 523.6 1027.4 520.1 1023.4 517.1 1019.4 513.7 1015.5 509.7 1011.5 506.2 1008.7 503.2 1007.2 500.2 1006.2 497.2 1005.7 494.7 1003.5 492.7 999.5 490.7 995 488.7 990 486.2 986 483.2 983 480.7 980.6 478.8 978.6 478.3 975.1 479.3 970.1 479.5 965.6 479 961.6 477.5 958.1 475 955.1 472.8 952.1 470.8 949.1 470.5 945.6 472 941.7 472.5 937.7 472 933.7 473.3 929.7 476.3 925.7Z" fill="none" stroke="#ff1010" stroke-width="5" opacity="0.85" filter="url(#bl3)"/>
<path d="M479.3 923 482.2 921.5 485.7 921 489.7 921.5 493 922.7 495.5 924.7 497.4 926.7 498.9 928.7 501.7 930.4 505.7 931.9 509.7 932.9 513.7 933.4 518.1 932.7 523.1 930.7 528.6 929.4 534.6 928.9 540.6 929.2 546.6 930.2 551.3 931.2 554.8 932.2 557.8 934.2 560.3 937.2 563.5 938.9 567.5 939.4 572 938.7 577 936.7 582 934.4 586.9 931.9 592.4 929.7 598.4 927.7 602.9 927.2 605.9 928.2 608.1 930.9 609.6 935.4 611.1 939.2 612.6 942.2 614.9 945.6 617.9 949.6 621.4 953.1 625.3 956.1 628.8 958.6 631.8 960.6 634.8 963.6 637.8 967.6 640.3 971.6 642.3 975.6 643.8 980.1 644.8 985 646 989.5 647.5 993.5 648 998 647.5 1003 646.5 1008 645 1013 643 1017.4 640.5 1021.4 637.8 1025.4 634.8 1029.4 631.3 1032.7 627.3 1035.1 622.8 1036.9 617.9 1037.9 613.9 1040.1 610.9 1043.6 606.9 1046.4 601.9 1048.4 597.9 1050.1 594.9 1051.6 591.9 1051.6 588.9 1050.1 586 1049.9 583 1050.9 578.5 1049.9 572.5 1046.9 567 1044.4 562 1042.4 557 1041.6 552 1042.1 546.6 1041.4 540.6 1039.4 535.6 1037.1 531.6 1034.6 527.6 1031.4 523.6 1027.4 520.1 1023.4 517.1 1019.4 513.7 1015.5 509.7 1011.5 506.2 1008.7 503.2 1007.2 500.2 1006.2 497.2 1005.7 494.7 1003.5 492.7 999.5 490.7 995 488.7 990 486.2 986 483.2 983 480.7 980.6 478.8 978.6 478.3 975.1 479.3 970.1 479.5 965.6 479 961.6 477.5 958.1 475 955.1 472.8 952.1 470.8 949.1 470.5 945.6 472 941.7 472.5 937.7 472 933.7 473.3 929.7 476.3 925.7Z" fill="#000"/>
<path d="M479.3 923 482.2 921.5 485.7 921 489.7 921.5 493 922.7 495.5 924.7 497.4 926.7 498.9 928.7 501.7 930.4 505.7 931.9 509.7 932.9 513.7 933.4 518.1 932.7 523.1 930.7 528.6 929.4 534.6 928.9 540.6 929.2 546.6 930.2 551.3 931.2 554.8 932.2 557.8 934.2 560.3 937.2 563.5 938.9 567.5 939.4 572 938.7 577 936.7 582 934.4 586.9 931.9 592.4 929.7 598.4 927.7 602.9 927.2 605.9 928.2 608.1 930.9 609.6 935.4 611.1 939.2 612.6 942.2 614.9 945.6 617.9 949.6 621.4 953.1 625.3 956.1 628.8 958.6 631.8 960.6 634.8 963.6 637.8 967.6 640.3 971.6 642.3 975.6 643.8 980.1 644.8 985 646 989.5 647.5 993.5 648 998 647.5 1003 646.5 1008 645 1013 643 1017.4 640.5 1021.4 637.8 1025.4 634.8 1029.4 631.3 1032.7 627.3 1035.1 622.8 1036.9 617.9 1037.9 613.9 1040.1 610.9 1043.6 606.9 1046.4 601.9 1048.4 597.9 1050.1 594.9 1051.6 591.9 1051.6 588.9 1050.1 586 1049.9 583 1050.9 578.5 1049.9 572.5 1046.9 567 1044.4 562 1042.4 557 1041.6 552 1042.1 546.6 1041.4 540.6 1039.4 535.6 1037.1 531.6 1034.6 527.6 1031.4 523.6 1027.4 520.1 1023.4 517.1 1019.4 513.7 1015.5 509.7 1011.5 506.2 1008.7 503.2 1007.2 500.2 1006.2 497.2 1005.7 494.7 1003.5 492.7 999.5 490.7 995 488.7 990 486.2 986 483.2 983 480.7 980.6 478.8 978.6 478.3 975.1 479.3 970.1 479.5 965.6 479 961.6 477.5 958.1 475 955.1 472.8 952.1 470.8 949.1 470.5 945.6 472 941.7 472.5 937.7 472 933.7 473.3 929.7 476.3 925.7Z" fill="none" stroke="#fff" stroke-width="2.8" stroke-linejoin="round" stroke-dasharray="50 2.5 36 2.5 64 2.5"/>
<line x1="477.8" y1="925.7" x2="631.3" y2="1030.4" stroke="#fff" stroke-width="2.2"/>
</g>
<text x="413.5" y="878.8" font-size="33.5" text-anchor="start" fill="#fff" letter-spacing="1">KO</text>
<text x="410" y="1159" font-size="33" text-anchor="start" fill="#ff0000">CD34</text>
<text x="634.5" y="1137" font-size="32.5" text-anchor="start" fill="#fff">50 µm</text>
<rect x="659.2" y="1154.7" width="51" height="4.5" fill="#fff"/>
</g>
<g id="pd">
<text x="773" y="796.5" font-size="56" text-anchor="start" fill="#000" font-weight="bold">d</text>
<rect x="914.5" y="986.2" width="67.8" height="184.2" fill="#fff" stroke="#000" stroke-width="2.6"/>
<rect x="1025" y="1019.1" width="67.8" height="151.3" fill="#fff" stroke="#000" stroke-width="2.6"/>
<line x1="948.5" y1="971.4" x2="948.5" y2="985" stroke="#000" stroke-width="2.4"/>
<line x1="929.5" y1="971.4" x2="967.5" y2="971.4" stroke="#000" stroke-width="2.4"/>
<line x1="1058.6" y1="1014.5" x2="1058.6" y2="1018" stroke="#000" stroke-width="2.4"/>
<line x1="1049.6" y1="1014.5" x2="1067.6" y2="1014.5" stroke="#000" stroke-width="2.4"/>
<line x1="875.7" y1="784.3" x2="875.7" y2="1171.7" stroke="#000" stroke-width="2.6"/>
<line x1="869.7" y1="1170.4" x2="1131.4" y2="1170.4" stroke="#000" stroke-width="2.6"/>
<line x1="868.7" y1="1170.4" x2="875.7" y2="1170.4" stroke="#000" stroke-width="2.4"/>
<text x="864" y="1185.2" font-size="33" text-anchor="end" fill="#000">0</text>
<line x1="868.7" y1="1042.1" x2="875.7" y2="1042.1" stroke="#000" stroke-width="2.4"/>
<text x="864" y="1056.9" font-size="33" text-anchor="end" fill="#000">15</text>
<line x1="868.7" y1="913.8" x2="875.7" y2="913.8" stroke="#000" stroke-width="2.4"/>
<text x="864" y="928.6" font-size="33" text-anchor="end" fill="#000">30</text>
<line x1="868.7" y1="785.5" x2="875.7" y2="785.5" stroke="#000" stroke-width="2.4"/>
<text x="864" y="800.3" font-size="33" text-anchor="end" fill="#000">45</text>
<line x1="948.5" y1="1170.4" x2="948.5" y2="1177.4" stroke="#000" stroke-width="2.4"/>
<line x1="1058.6" y1="1170.4" x2="1058.6" y2="1177.4" stroke="#000" stroke-width="2.4"/>
<text x="941.5" y="1208.3" font-size="33.5" text-anchor="middle" fill="#000">Ctr</text>
<text x="1057.5" y="1208.3" font-size="33.5" text-anchor="middle" fill="#231F20">KO</text>
<circle cx="948.5" cy="881.7" r="7.6"/>
<circle cx="948.5" cy="916.2" r="7.6"/>
<circle cx="948.5" cy="943.9" r="7.6"/>
<circle cx="919.6" cy="971.5" r="7.6"/>
<circle cx="938.6" cy="966.4" r="7.6"/>
<circle cx="957.9" cy="979.5" r="7.6"/>
<circle cx="977" cy="982.9" r="7.6"/>
<circle cx="919.6" cy="991.9" r="7.6"/>
<circle cx="938.6" cy="993.9" r="7.6"/>
<circle cx="957.9" cy="994.3" r="7.6"/>
<circle cx="929.2" cy="1016.8" r="7.6"/>
<circle cx="948.5" cy="1015.8" r="7.6"/>
<circle cx="967.5" cy="1018.8" r="7.6"/>
<circle cx="938.6" cy="1038.8" r="7.6"/>
<circle cx="957.9" cy="1035.4" r="7.6"/>
<path d="M1065.2 979.7l8.2 8.2l-8.2 8.2l-8.2 -8.2zM1044.3 989.7l8.2 8.2l-8.2 8.2l-8.2 -8.2zM1058.2 994.7l8.2 8.2l-8.2 8.2l-8.2 -8.2zM1029.3 1005.6l8.2 8.2l-8.2 8.2l-8.2 -8.2zM1036.3 1003.6l8.2 8.2l-8.2 8.2l-8.2 -8.2zM1051.2 1001.6l8.2 8.2l-8.2 8.2l-8.2 -8.2zM1065.2 1001.6l8.2 8.2l-8.2 8.2l-8.2 -8.2zM1079.2 1002.6l8.2 8.2l-8.2 8.2l-8.2 -8.2zM1088.1 1001.6l8.2 8.2l-8.2 8.2l-8.2 -8.2zM1072.2 1003.6l8.2 8.2l-8.2 8.2l-8.2 -8.2zM1043.3 1013.6l8.2 8.2l-8.2 8.2l-8.2 -8.2zM1065.2 1016.6l8.2 8.2l-8.2 8.2l-8.2 -8.2zM1058.2 1030.6l8.2 8.2l-8.2 8.2l-8.2 -8.2zM1065.2 1031.5l8.2 8.2l-8.2 8.2l-8.2 -8.2zM1050.2 1045.5l8.2 8.2l-8.2 8.2l-8.2 -8.2z"/>
<rect x="949.1" y="814.9" width="96.2" height="4.9" fill="#231F20"/>
<text x="997" y="816.2" font-size="31" text-anchor="middle" fill="#000">**</text>
<text x="812.5" y="980.5" font-size="33.5" text-anchor="middle" fill="#000" transform="rotate(-90 812.5 980.5)">Diameter (10<tspan dy="-11" font-size="20">-2</tspan><tspan dy="11"> mm)</tspan></text>
<rect x="1279.9" y="1019.1" width="67.2" height="151.3" fill="#fff" stroke="#000" stroke-width="2.6"/>
<rect x="1390.6" y="1065" width="67.2" height="105.4" fill="#fff" stroke="#000" stroke-width="2.6"/>
<line x1="1313.9" y1="998.9" x2="1313.9" y2="1018" stroke="#000" stroke-width="2.4"/>
<line x1="1294.9" y1="998.9" x2="1332.9" y2="998.9" stroke="#000" stroke-width="2.4"/>
<line x1="1424.2" y1="1055.3" x2="1424.2" y2="1064" stroke="#000" stroke-width="2.4"/>
<line x1="1405.2" y1="1055.3" x2="1443.2" y2="1055.3" stroke="#000" stroke-width="2.4"/>
<line x1="1241.3" y1="784.3" x2="1241.3" y2="1171.7" stroke="#000" stroke-width="2.6"/>
<line x1="1235.3" y1="1170.4" x2="1497" y2="1170.4" stroke="#000" stroke-width="2.6"/>
<line x1="1234.3" y1="1170.4" x2="1241.3" y2="1170.4" stroke="#000" stroke-width="2.4"/>
<text x="1231" y="1185.2" font-size="33" text-anchor="end" fill="#000">0.0</text>
<line x1="1234.3" y1="1042.1" x2="1241.3" y2="1042.1" stroke="#000" stroke-width="2.4"/>
<text x="1231" y="1056.9" font-size="33" text-anchor="end" fill="#000">0.2</text>
<line x1="1234.3" y1="913.8" x2="1241.3" y2="913.8" stroke="#000" stroke-width="2.4"/>
<text x="1231" y="928.6" font-size="33" text-anchor="end" fill="#000">0.4</text>
<line x1="1234.3" y1="785.5" x2="1241.3" y2="785.5" stroke="#000" stroke-width="2.4"/>
<text x="1231" y="800.3" font-size="33" text-anchor="end" fill="#000">0.6</text>
<line x1="1313.9" y1="1170.4" x2="1313.9" y2="1177.4" stroke="#000" stroke-width="2.4"/>
<line x1="1424.2" y1="1170.4" x2="1424.2" y2="1177.4" stroke="#000" stroke-width="2.4"/>
<text x="1309" y="1208.3" font-size="33.5" text-anchor="middle" fill="#000">Ctr</text>
<text x="1424.5" y="1208.3" font-size="33.5" text-anchor="middle" fill="#231F20">KO</text>
<circle cx="1313.9" cy="840.8" r="7.6"/>
<circle cx="1285.2" cy="956" r="7.6"/>
<circle cx="1323.5" cy="962" r="7.6"/>
<circle cx="1303.9" cy="968.9" r="7.6"/>
<circle cx="1313.9" cy="998.9" r="7.6"/>
<circle cx="1285.2" cy="1024.8" r="7.6"/>
<circle cx="1343" cy="1025.4" r="7.6"/>
<circle cx="1323.5" cy="1036.8" r="7.6"/>
<circle cx="1285.2" cy="1039.7" r="7.6"/>
<circle cx="1303.9" cy="1045.7" r="7.6"/>
<circle cx="1343" cy="1046.1" r="7.6"/>
<circle cx="1323.5" cy="1053.7" r="7.6"/>
<circle cx="1303.9" cy="1064.7" r="7.6"/>
<circle cx="1323.5" cy="1076.6" r="7.6"/>
<circle cx="1313.9" cy="1099.6" r="7.6"/>
<path d="M1433.2 1012.6l8.2 8.2l-8.2 8.2l-8.2 -8.2zM1414.2 1021.6l8.2 8.2l-8.2 8.2l-8.2 -8.2zM1424.2 1021.6l8.2 8.2l-8.2 8.2l-8.2 -8.2zM1433.2 1035.5l8.2 8.2l-8.2 8.2l-8.2 -8.2zM1424.2 1040.5l8.2 8.2l-8.2 8.2l-8.2 -8.2zM1452.1 1051.5l8.2 8.2l-8.2 8.2l-8.2 -8.2zM1395.3 1056.5l8.2 8.2l-8.2 8.2l-8.2 -8.2zM1405.3 1057.5l8.2 8.2l-8.2 8.2l-8.2 -8.2zM1443.2 1057.1l8.2 8.2l-8.2 8.2l-8.2 -8.2zM1414.2 1065.5l8.2 8.2l-8.2 8.2l-8.2 -8.2zM1424.2 1061.5l8.2 8.2l-8.2 8.2l-8.2 -8.2zM1433.2 1063.5l8.2 8.2l-8.2 8.2l-8.2 -8.2zM1424.2 1081.4l8.2 8.2l-8.2 8.2l-8.2 -8.2zM1433.2 1079.4l8.2 8.2l-8.2 8.2l-8.2 -8.2zM1424.2 1103.3l8.2 8.2l-8.2 8.2l-8.2 -8.2z"/>
<rect x="1317.9" y="815.4" width="95.7" height="4.9" fill="#231F20"/>
<text x="1365.5" y="817.2" font-size="31" text-anchor="middle" fill="#000">**</text>
<text x="1169" y="980.6" font-size="33" text-anchor="middle" fill="#000" transform="rotate(-90 1169 980.6)">Area (mm<tspan dy="-11" font-size="20">2</tspan><tspan dy="11">)</tspan></text>
</g>
<g id="pf">
<text x="1519" y="796" font-size="56" text-anchor="start" fill="#000" font-weight="bold">f</text>
<rect x="1670.1" y="859.7" width="65.9" height="69.1" fill="#0070C0" stroke="#000" stroke-width="2.9"/>
<rect x="1670.1" y="930.1" width="65.9" height="139.2" fill="#C3E57F" stroke="#000" stroke-width="2.9"/>
<rect x="1670.1" y="1070.6" width="65.9" height="99.5" fill="#EF7900" stroke="#000" stroke-width="2.9"/>
<line x1="1668.3" y1="927.4" x2="1737.8" y2="927.4" stroke="#fff" stroke-width="1.6"/>
<line x1="1668.3" y1="1067.9" x2="1737.8" y2="1067.9" stroke="#fff" stroke-width="1.6"/>
<line x1="1703" y1="831.3" x2="1703" y2="858.4" stroke="#000" stroke-width="2.4"/>
<line x1="1684.5" y1="831.3" x2="1721.5" y2="831.3" stroke="#000" stroke-width="2.4"/>
<line x1="1703" y1="903.2" x2="1703" y2="928.8" stroke="#000" stroke-width="2.4"/>
<line x1="1684.5" y1="903.2" x2="1721.5" y2="903.2" stroke="#000" stroke-width="2.4"/>
<line x1="1703" y1="1065.9" x2="1703" y2="1069.3" stroke="#000" stroke-width="2.4"/>
<line x1="1684.5" y1="1065.9" x2="1721.5" y2="1065.9" stroke="#000" stroke-width="2.4"/>
<rect x="1780" y="860.7" width="65.9" height="61.5" fill="#0070C0" stroke="#000" stroke-width="2.9"/>
<rect x="1780" y="923.5" width="65.9" height="137.9" fill="#C3E57F" stroke="#000" stroke-width="2.9"/>
<rect x="1780" y="1062.7" width="65.9" height="107.4" fill="#EF7900" stroke="#000" stroke-width="2.9"/>
<line x1="1778.2" y1="920.8" x2="1847.7" y2="920.8" stroke="#fff" stroke-width="1.6"/>
<line x1="1778.2" y1="1060" x2="1847.7" y2="1060" stroke="#fff" stroke-width="1.6"/>
<line x1="1813" y1="839.8" x2="1813" y2="859.4" stroke="#000" stroke-width="2.4"/>
<line x1="1794.5" y1="839.8" x2="1831.5" y2="839.8" stroke="#000" stroke-width="2.4"/>
<line x1="1813" y1="902.6" x2="1813" y2="922.2" stroke="#000" stroke-width="2.4"/>
<line x1="1794.5" y1="902.6" x2="1831.5" y2="902.6" stroke="#000" stroke-width="2.4"/>
<line x1="1813" y1="1058.3" x2="1813" y2="1061.4" stroke="#000" stroke-width="2.4"/>
<line x1="1794.5" y1="1058.3" x2="1831.5" y2="1058.3" stroke="#000" stroke-width="2.4"/>
<line x1="1630" y1="784.9" x2="1630" y2="1171.4" stroke="#000" stroke-width="2.6"/>
<line x1="1624" y1="1170.1" x2="1885.7" y2="1170.1" stroke="#000" stroke-width="2.6"/>
<line x1="1623" y1="1170.1" x2="1630" y2="1170.1" stroke="#000" stroke-width="2.4"/>
<text x="1619" y="1183.3" font-size="33" text-anchor="end" fill="#000">0</text>
<line x1="1623" y1="1042.1" x2="1630" y2="1042.1" stroke="#000" stroke-width="2.4"/>
<text x="1619" y="1055.3" font-size="33" text-anchor="end" fill="#000">40</text>
<line x1="1623" y1="914.1" x2="1630" y2="914.1" stroke="#000" stroke-width="2.4"/>
<text x="1619" y="927.3" font-size="33" text-anchor="end" fill="#000">80</text>
<line x1="1623" y1="786.1" x2="1630" y2="786.1" stroke="#000" stroke-width="2.4"/>
<text x="1619" y="799.3" font-size="33" text-anchor="end" fill="#000">120</text>
<line x1="1703" y1="1170.1" x2="1703" y2="1177.1" stroke="#000" stroke-width="2.4"/>
<line x1="1813" y1="1170.1" x2="1813" y2="1177.1" stroke="#000" stroke-width="2.4"/>
<text x="1699" y="1214" font-size="33.5" text-anchor="middle" fill="#000">Ctr</text>
<text x="1814" y="1208.5" font-size="33.5" text-anchor="middle" fill="#000">KO</text>
<text x="1813.5" y="1137.5" font-size="30" text-anchor="middle" fill="#fff">**</text>
<text x="1556" y="983" font-size="33" text-anchor="middle" fill="#000" transform="rotate(-90 1556 983)">% in pre-HSC II</text>
<rect x="1878.5" y="818" width="49" height="25.2" fill="#0070C0" stroke="#000" stroke-width="2.6"/>
<text x="1938.5" y="842.4" font-size="33" text-anchor="start" fill="#000">G0</text>
<rect x="1878.5" y="875.5" width="49" height="24.9" fill="#C3E57F" stroke="#000" stroke-width="2.6"/>
<text x="1938.5" y="899.8" font-size="33" text-anchor="start" fill="#000">G1</text>
<rect x="1878.5" y="932" width="49" height="24.9" fill="#EF7900" stroke="#000" stroke-width="2.6"/>
<text x="1938.5" y="956.2" font-size="33" text-anchor="start" fill="#000">S/G2/M</text>
</g>
<g id="pg">
<text x="1" y="1279" font-size="56" text-anchor="start" fill="#000" font-weight="bold">g</text>
<line x1="85.3" y1="1320" x2="85.3" y2="1722.3" stroke="#000" stroke-width="3"/>
<line x1="83.8" y1="1720.8" x2="490" y2="1720.8" stroke="#000" stroke-width="3"/>
<line x1="79.3" y1="1355.8" x2="85.3" y2="1355.8" stroke="#000" stroke-width="2.6"/>
<text x="72" y="1337.3" font-size="33.5" text-anchor="end" fill="#000">8</text>
<line x1="79.3" y1="1426.4" x2="85.3" y2="1426.4" stroke="#000" stroke-width="2.6"/>
<text x="72" y="1438.4" font-size="33.5" text-anchor="end" fill="#000">4</text>
<line x1="79.3" y1="1527.6" x2="85.3" y2="1527.6" stroke="#000" stroke-width="2.6"/>
<text x="72" y="1539.6" font-size="33.5" text-anchor="end" fill="#000">0</text>
<line x1="79.3" y1="1627.6" x2="85.3" y2="1627.6" stroke="#000" stroke-width="2.6"/>
<text x="72" y="1639.6" font-size="33.5" text-anchor="end" fill="#000">−4</text>
<line x1="134.2" y1="1720.8" x2="134.2" y2="1727.3" stroke="#000" stroke-width="2.6"/>
<text x="134.2" y="1756.3" font-size="33.5" text-anchor="middle" fill="#000">−10</text>
<line x1="228" y1="1720.8" x2="228" y2="1727.3" stroke="#000" stroke-width="2.6"/>
<text x="228" y="1756.3" font-size="33.5" text-anchor="middle" fill="#000">−5</text>
<line x1="322.3" y1="1720.8" x2="322.3" y2="1727.3" stroke="#000" stroke-width="2.6"/>
<text x="322.3" y="1756.3" font-size="33.5" text-anchor="middle" fill="#000">0</text>
<line x1="416.2" y1="1720.8" x2="416.2" y2="1727.3" stroke="#000" stroke-width="2.6"/>
<text x="416.2" y="1756.3" font-size="33.5" text-anchor="middle" fill="#000">5</text>
<text x="99" y="1354.5" font-size="34" text-anchor="start" fill="#000">Ctr</text>
<text x="40" y="1511.4" font-size="34" text-anchor="middle" fill="#000" transform="rotate(-90 40 1511.4)">UMAP_2</text>
<path d="M185.2 1506.4 179.8 1507.7 173.9 1511.6 167.3 1518.3 166.7 1518.7 158 1525.3 151.4 1534 151 1534.5 144.8 1540.7 142.9 1546.6 142.7 1547 142.5 1547.5 142.2 1547.9 138.3 1553.4 139.3 1555.2 147.4 1559.2 147.7 1559.4 159.3 1566.4 159.7 1566.6 160 1566.9 160.3 1567.2 160.6 1567.5 160.9 1567.9 165.5 1574.9 165.8 1575.3 166 1575.7 166.2 1576.1 166.3 1576.6 166.3 1577 166.4 1577.5 166.4 1578 166.3 1578.5 166.2 1578.9 166 1579.4 165.9 1579.8 162.6 1586.3 162.8 1586.5 165.5 1585.2 171.7 1579 178.4 1570 178.9 1569.4 185.9 1562.5 186.2 1562.1 186.6 1561.9 193.6 1557.2 194 1556.9 194.5 1556.7 194.9 1556.6 195.4 1556.5 195.9 1556.4 196.3 1556.4 205 1556.4 212.1 1554.6 216.6 1548.6 215.8 1545.6 214.4 1547.8 214.1 1548.1 213.8 1548.5 213.5 1548.8 213.1 1549.1 212.7 1549.3 212.3 1549.5 211.9 1549.7 211.4 1549.8 211 1549.9 210.5 1549.9 210 1549.9 209.6 1549.9 209.1 1549.8 201.6 1547.9 193.9 1551.8 193.4 1552 192.9 1552.1 192.4 1552.2 191.9 1552.3 191.4 1552.3 190.9 1552.2 190.4 1552.1 189.9 1552 189.5 1551.8 180.2 1547.1 179.8 1546.9 179.4 1546.6 179.1 1546.3 178.7 1546 178.4 1545.7 178.2 1545.3 178 1544.9 173.3 1535.6 173.1 1535.2 173 1534.7 172.9 1534.2 172.8 1533.8 172.8 1533.3 172.8 1532.8 172.9 1532.4 173 1531.9 173.2 1531.5 173.4 1531 173.6 1530.6 173.9 1530.2 174.2 1529.9 179.1 1525.1 177.7 1521 177.6 1520.5 177.5 1520 177.4 1519.5 177.5 1519 177.5 1518.5 177.6 1518 177.8 1517.6 178 1517.1 178.3 1516.7 182.9 1509.7Z" fill="#5FB318" stroke="#5FB318" stroke-width="3.3" stroke-linejoin="round"/>
<path d="M187.4 1502.5h0M191.7 1506.2h0M181.7 1511.8h0M177.8 1514.8h0M184.7 1525.8h0M177.6 1525.4h0M174.7 1537.1h0M179.8 1544.6h0M186.8 1550.5h0M197.2 1551h0M200.8 1543.9h0M206.1 1548.2h0M216.4 1543.5h0M215.3 1538.4h0M216.8 1542.1h0M220.9 1549.5h0M211.9 1554.7h0M211.5 1555.7h0M204.3 1556.6h0M196.2 1557.2h0M188.4 1560.6h0M184.9 1564.9h0M178 1571.4h0M172.6 1577.4h0M169.9 1582h0M165.9 1585.4h0M161.5 1591.5h0M160.9 1587.6h0M163.6 1584.8h0M163.8 1574h0M158.5 1567h0M153.1 1563h0M147.2 1560.3h0M142.6 1558.1h0M136.5 1553h0M135.5 1554.4h0M143.1 1546.4h0M144.9 1540.6h0M149.5 1536.2h0M153 1530.5h0M158.3 1523.9h0M160.2 1522.8h0M169.3 1515.6h0M174.4 1511.5h0M176.7 1508.6h0M182.1 1507h0" stroke="#5FB318" stroke-width="9.4" stroke-linecap="round" fill="none"/>
<path d="M129.6 1567.1 126.2 1573.1 125.9 1573.5 125.6 1573.9 125.2 1574.3 124.8 1574.6 124.4 1574.9 123.9 1575.1 123.4 1575.3 118.8 1576.8 117.3 1581.5 117.1 1581.9 116.9 1582.3 116.6 1582.7 116.4 1583.1 116 1583.4 115.7 1583.7 115.3 1584 108.7 1588.4 106 1591.2 106.4 1591.9 113.8 1593.7 114.3 1593.9 114.8 1594.1 124.1 1598.8 124.5 1599 125 1599.3 125.3 1599.7 125.7 1600 126 1600.4 129.2 1605.2 135 1605.2 137.9 1604.3 137.9 1603.2 137.9 1602.7 138 1602.2 138.1 1601.8 138.3 1601.3 138.4 1600.9 138.7 1600.5 139 1600.1 139.3 1599.8 139.6 1599.4 140 1599.1 140.4 1598.9 140.8 1598.7 141.3 1598.5 147.4 1596.5 149.7 1594.6 147.5 1588.6 147.4 1588.2 147.3 1587.7 147.2 1587.3 147.2 1586.8 147.2 1586.3 147.3 1585.9 147.4 1585.4 147.6 1585 147.8 1584.5 148 1584.1 148.3 1583.8 148.6 1583.4 154.8 1577.3 154.9 1576.9 146.7 1575.5 146.3 1575.4 137 1573.1 136.5 1572.9 136 1572.7 135.6 1572.5 135.2 1572.2 134.8 1571.9 134.5 1571.6 134.2 1571.2 133.9 1570.7 133.7 1570.3 133.5 1569.8 132.4 1566.7Z" fill="#A65628" stroke="#A65628" stroke-width="3.3" stroke-linejoin="round"/>
<path d="M128.4 1566.8h0M133.4 1564h0M134.7 1568.3h0M140.7 1573.9h0M151.9 1575.6h0M155 1575.8h0M159.8 1573.7h0M156.1 1576.1h0M146.6 1588.5h0M148.3 1593.6h0M152.8 1595.6h0M148.2 1597.6h0M140.9 1605.7h0M137.8 1604.9h0M130.3 1607h0M126.9 1605.4h0M125.2 1598.3h0M119 1595.5h0M109.6 1591.9h0M103.9 1595.3h0M100.9 1590.5h0M108.4 1588.8h0M112.7 1585.8h0M118.4 1575.5h0M118.6 1577.3h0M128.9 1568.5h0" stroke="#A65628" stroke-width="9.4" stroke-linecap="round" fill="none"/>
<path d="M243.8 1462.7 247.2 1461.6 253.4 1455.4 260.3 1448.5 263.8 1445 263.6 1444.8 258.6 1443.5 253.6 1449.3 253.3 1449.6 253 1449.9 247.1 1454.8 245.2 1460.5 245.1 1460.9 244.8 1461.4 244.6 1461.8 244.3 1462.1Z" fill="#7033B0" stroke="#7033B0" stroke-width="3.3" stroke-linejoin="round"/>
<path d="M258.4 1440.7h0M263.6 1444.2h0M270.6 1445.2h0M264.3 1447.1h0M257.5 1449.8h0M254 1456.6h0M246.7 1462.4h0M244.8 1463.4h0M239.7 1467.5h0M232 1471.7h0M228 1475.8h0M223 1481h0M217.3 1485.3h0M210.7 1488.3h0M207.1 1490.4h0M201.4 1491.9h0M193.8 1492.9h0M190.8 1490.9h0M196.7 1490.3h0M203.5 1490h0M211.1 1487.5h0M215 1485.8h0M221.6 1479.1h0M228.2 1474.1h0M232.9 1470h0M239.7 1467.7h0M245.2 1458.9h0M246.5 1455.9h0M252.9 1451.5h0M254.9 1444.8h0" stroke="#7033B0" stroke-width="9.4" stroke-linecap="round" fill="none"/>
<path d="M206.8 1498.8 200.6 1501.9 198.8 1509 198.6 1509.5 198.4 1510 194.3 1518.3 194.3 1522.6 195.4 1524.2 197.2 1523 201.2 1514.9 201.5 1514.4 206.2 1507.4 206.5 1507 206.8 1506.6 212.8 1500.6 213.3 1498.8Z" fill="#7033B0" stroke="#7033B0" stroke-width="3.3" stroke-linejoin="round"/>
<path d="M205 1497h0M215.4 1497h0M217.2 1495.8h0M213.9 1500.7h0M208.1 1505.5h0M205.7 1511.3h0M200.7 1515.8h0M199.2 1522.5h0M194.6 1525.8h0M195.7 1524.7h0M194.6 1522.6h0M196.5 1514.4h0M198.3 1511.8h0M199.7 1501.6h0M202.1 1499.5h0" stroke="#7033B0" stroke-width="9.4" stroke-linecap="round" fill="none"/>
<path d="M213.8 1517.1h0M205.7 1528.7h0M208 1535.7h0M197.5 1540.4h0M273.1 1449.6h0M277.8 1454.3h0M273.1 1461.2h0M282.4 1447.3h0M332.5 1441.5h0M334.8 1457.8h0M312.7 1472.9h0M319.7 1465.9h0M303.4 1465.9h0M296.4 1451.9h0" stroke="#7033B0" stroke-width="9.4" stroke-linecap="round" fill="none"/>
<path d="M329.7 1480.9 330.3 1483.6 330.1 1480.3Z" fill="#7033B0" stroke="#7033B0" stroke-width="3.3" stroke-linejoin="round"/>
<path d="M325.2 1479.8h0M329.2 1474h0M329 1479.7h0M329.4 1483.2h0M333.7 1489.9h0M332 1496h0M333 1491.2h0M329.8 1483.4h0" stroke="#7033B0" stroke-width="9.4" stroke-linecap="round" fill="none"/>
<path d="M276.7 1499.3 277.5 1500.9 277.7 1501.4 277.9 1501.9 278 1502.4 278.1 1502.9 278.1 1503.4 278 1503.9 277.9 1504.4 277.7 1504.9 277.5 1505.3 275 1510.4 277.5 1517 283.4 1524.8 290.2 1528.2 301.8 1526.3 310.2 1522.1 316.1 1518.2 317.1 1516.7 317.1 1516.6 316.7 1516.4 316.3 1516.1 316 1515.8 315.7 1515.4 315.5 1515 315.3 1514.6 310.6 1505.3 310.4 1504.9 310.3 1504.4 310.2 1504 310.1 1503.5 310.1 1503 310.1 1502.5 310.2 1502 310.3 1501.6 310.6 1500.6 310.4 1500.5 310 1500.3 309.7 1500 309.3 1499.7 309 1499.4 308.7 1499 308.4 1498.6 308.2 1498.2 308 1497.8 307.9 1497.3 306.1 1490.2 304.7 1489.6 302.9 1491.8 298.5 1500.7 298.2 1501.1 298 1501.5 297.6 1501.9 297.3 1502.2 296.9 1502.5 296.5 1502.8 296 1503 295.5 1503.2 295.1 1503.3 294.6 1503.4 294.1 1503.4 284.8 1503.4 284.3 1503.4 283.8 1503.3 283.3 1503.2 282.9 1503 282.4 1502.8 282 1502.6 276.9 1499.2Z" fill="#FF6E6A" stroke="#FF6E6A" stroke-width="3.3" stroke-linejoin="round"/>
<path d="M272 1496.5h0M276.7 1496.1h0M281.4 1500.5h0M290.2 1502.7h0M298.2 1500h0M301.1 1492.4h0M304.1 1486h0M306.5 1490.3h0M306.4 1492.5h0M313.5 1498h0M314.7 1499.1h0M311.9 1508.5h0M317.6 1516.4h0M324.3 1515h0M316.2 1517.4h0M313.8 1521h0M306.7 1525.4h0M302.1 1525.7h0M296 1528.5h0M289 1529h0M284.1 1525.1h0M281.9 1523.8h0M277.4 1516.5h0M276.1 1512.7h0M274.1 1509.5h0M277.2 1500.5h0" stroke="#FF6E6A" stroke-width="9.4" stroke-linecap="round" fill="none"/>
<path d="M287.1 1464.7h0M296.4 1479.9h0M315 1478.7h0M313.9 1463.6h0M351.1 1505.5h0M341.8 1510.1h0M356.9 1514.8h0M342.9 1517.1h0" stroke="#FF6E6A" stroke-width="9.4" stroke-linecap="round" fill="none"/>
<path d="M328.2 1518.1 328 1518.4 329.2 1519.6 332.3 1520.4 332.1 1520.2 331.9 1519.8 329.9 1517Z" fill="#7033B0" stroke="#7033B0" stroke-width="3.3" stroke-linejoin="round"/>
<path d="M326.6 1518.8h0M331.7 1510.1h0M332.2 1517.7h0M337 1523.4h0M343.6 1527h0M347 1529.2h0M341.8 1526.6h0M334.7 1523.5h0M331.2 1521.6h0M322.4 1519.9h0" stroke="#7033B0" stroke-width="9.4" stroke-linecap="round" fill="none"/>
<path d="M324.3 1511.3h0" stroke="#C41212" stroke-width="9.4" stroke-linecap="round" fill="none"/>
<path d="M320.5 1454 325.5 1454 333.7 1449.9 334.2 1449.7 334.7 1449.5 335.1 1449.4 335.6 1449.3 336.1 1449.3 336.6 1449.4 337.1 1449.5 337.5 1449.6 338 1449.8 338.4 1450 338.8 1450.3 339.2 1450.6 346.3 1456.8 352.8 1454.3 353.3 1454.1 353.8 1454 354.3 1454 354.8 1454 355.3 1454 355.8 1454.1 362.4 1455.8 362.8 1455.4 360.7 1449.8 355.4 1443.5 355.2 1443.1 354.9 1442.7 354.7 1442.3 354.5 1441.9 354.4 1441.4 354.3 1440.9 354.3 1440.5 354.3 1440 354.3 1439.6 354.4 1439.1 356.2 1431.9 353.1 1427.2 346.4 1420.5 346.1 1420.1 345.8 1419.7 345.5 1419.2 341.8 1411.8 336.7 1410.1 336.3 1409.9 335.9 1409.7 335.5 1409.5 335.1 1409.2 334.8 1408.9 329.8 1403.9 326.9 1404.6 326.9 1407.7 326.9 1408.2 326.8 1408.7 326.7 1409.2 326.6 1409.6 326.3 1410.1 326.1 1410.5 325.8 1410.9 325.5 1411.2 325.1 1411.5 324.7 1411.8 320.7 1414.5 321.2 1414.7 321.7 1414.9 322.1 1415.1 322.5 1415.3 322.9 1415.6 323.2 1415.9 323.5 1416.3 323.8 1416.7 324.1 1417.1 324.3 1417.5 324.4 1418 324.5 1418.5 324.6 1418.9 324.6 1419.4 324.6 1419.9 324.5 1420.4 324.4 1420.8 324.2 1421.3 324 1421.7 323.8 1422.1 323.5 1422.5 323.2 1422.9 317.6 1428.4 317.6 1431.8 323.2 1433.2 323.7 1433.3 324.1 1433.5 324.5 1433.7 324.9 1434 325.3 1434.3 325.7 1434.7 326 1435 326.2 1435.4 326.5 1435.9 326.6 1436.3 326.8 1436.8 326.9 1437.3 326.9 1437.7 326.9 1438.2 326.9 1438.7 326.8 1439.2 324.5 1448.5 324.3 1448.9 324.2 1449.3 324 1449.7 323.7 1450.1 323.5 1450.4Z" fill="#3BA3E3" stroke="#3BA3E3" stroke-width="3.3" stroke-linejoin="round"/>
<path d="M323.6 1402.8h0M329.3 1401h0M332.6 1403.8h0M339.1 1409.3h0M343.1 1410.5h0M346.1 1417.2h0M352.4 1423.9h0M354.3 1428.3h0M357 1431.1h0M355.6 1438.5h0M359.3 1447.8h0M362.9 1453h0M367.2 1456.8h0M362.8 1459.2h0M355.1 1453.9h0M347.7 1458h0M346.5 1457.5h0M338.8 1451.9h0M330 1452.2h0M326.1 1454.1h0M318.1 1456.7h0M313.5 1454h0M323.3 1452h0M326.1 1444.4h0M318.6 1433.2h0M314.1 1434.8h0M318.3 1429.3h0M318.4 1426.8h0M317.6 1414.9h0M313.8 1416.3h0M320.9 1413.2h0M326.6 1405.4h0" stroke="#3BA3E3" stroke-width="9.4" stroke-linecap="round" fill="none"/>
<path d="M317.3 1470.6h0" stroke="#3BA3E3" stroke-width="9.4" stroke-linecap="round" fill="none"/>
<path d="M332.5 1441.5h0M334.8 1457.8h0" stroke="#7033B0" stroke-width="9.4" stroke-linecap="round" fill="none"/>
<path d="M305.9 1342.2 301.7 1344.3 295.8 1350.2 291.5 1358.7 291.2 1359.2 290.9 1359.6 290.6 1360 286.5 1364.1 288.9 1367.8 289.1 1368.2 289.3 1368.6 289.5 1369 289.6 1369.5 289.7 1370 289.7 1370.4 289.7 1370.9 289.6 1371.4 289.5 1371.8 289.4 1372.3 289.2 1372.7 284.5 1382 284.3 1382.5 284 1382.9 283.6 1383.3 274.7 1392.2 269 1401.7 271 1411.4 271.1 1411.9 271.1 1412.4 271.1 1412.9 271 1413.3 270.9 1413.8 267.7 1424.5 268.6 1433.4 272.8 1437.7 280.1 1437.7 280.6 1437.7 281.1 1437.8 281.5 1437.9 282 1438.1 282.4 1438.3 282.9 1438.5 283.2 1438.8 283.6 1439.1 290.6 1446.1 291 1446.7 297.6 1455.4 303.3 1459.7 303.9 1459.2 303.2 1455.1 303.1 1454.6 303.1 1454.2 303.1 1453.7 303.2 1453.2 303.3 1452.8 303.5 1452.3 303.7 1451.9 303.9 1451.5 306.8 1447.3 303.9 1443 303.7 1442.6 303.5 1442.2 303.3 1441.7 303.2 1441.2 303.1 1440.7 303.1 1440.2 303.1 1439.7 303.2 1439.2 303.4 1438.7 305.6 1432.1 307.8 1420.7 307.9 1420.5 310.2 1411.2 310.3 1410.8 312.7 1403.8 312.9 1403.2 317.5 1394.1 321.5 1384.1 319.9 1377.7 313.9 1371.7 313.5 1371.3 313.2 1370.9 313 1370.4 312.7 1370 312.6 1369.5 312.5 1369 312.4 1368.5 312.4 1368 312.5 1367.5 312.6 1367 314.2 1360.4 309.2 1355.4 308.9 1355 308.6 1354.6 308.3 1354.2 308.1 1353.8 308 1353.3 307.8 1352.8 307.8 1352.4 307.8 1351.9 307.8 1351.4 308.6 1343.4Z" fill="#C41212" stroke="#C41212" stroke-width="3.3" stroke-linejoin="round"/>
<path d="M305.7 1336.7h0M312.5 1340.5h0M309 1345.8h0M310.9 1356.6h0M315.3 1360.1h0M314.4 1362.8h0M314.8 1371.9h0M321.2 1377.3h0M320.8 1382h0M321.7 1385.3h0M320.3 1391.2h0M314.7 1397.6h0M312.3 1404.7h0M310.5 1412h0M308.4 1418.7h0M306.3 1425.5h0M306.6 1431.9h0M304.5 1440.9h0M310.1 1447.1h0M307.4 1448.9h0M303.2 1459.9h0M307.2 1460.4h0M303.5 1463.1h0M300 1458.3h0M294.8 1452.7h0M291.9 1447.1h0M286.4 1442.1h0M278.4 1439.2h0M271.1 1441.3h0M268.2 1434.9h0M266.7 1431.9h0M268.2 1425.6h0M268.3 1417.9h0M268.7 1408.2h0M269 1404.9h0M269.6 1401.4h0M272.7 1395.3h0M275.4 1390.7h0M281.8 1386.2h0M284.5 1378.3h0M288.9 1372.8h0M280.9 1364.1h0M287.1 1364.6h0M291.9 1357.9h0M294.2 1352.7h0M299.4 1344.9h0M304.3 1343.6h0" stroke="#C41212" stroke-width="9.4" stroke-linecap="round" fill="none"/>
<path d="M310.4 1448.4h0" stroke="#C41212" stroke-width="9.4" stroke-linecap="round" fill="none"/>
<path d="M410.7 1537.2 410.7 1541 416.7 1549 416.9 1549.4 417.2 1549.8 421.8 1559.1 422 1559.6 422.2 1560.1 424.4 1568.9 428.8 1577.7 429 1578.2 429.1 1578.6 429.3 1579.1 429.3 1579.6 429.3 1580.1 429.3 1580.6 429.2 1581.1 427.5 1587.7 432 1592.2 440.5 1596.4 441 1596.7 441.3 1596.9 441.7 1597.3 442 1597.6 442.3 1598 442.6 1598.4 442.8 1598.8 443 1599.2 443.1 1599.7 444 1603 447.8 1601.1 448.2 1600.9 448.6 1600.8 449.1 1600.7 449.6 1600.6 450 1600.6 450.5 1600.6 451 1600.7 451.4 1600.8 451.9 1601 452.3 1601.2 452.7 1601.4 458.7 1605.4 464.7 1606.2 468.7 1602.8 470.5 1593.9 468.5 1583.7 464.1 1572.6 460 1564.6 451.7 1558.3 442.4 1551.3 433.1 1544.3 432.8 1544.1 424.6 1537 415.4 1536Z" fill="#B77FD4" stroke="#B77FD4" stroke-width="3.3" stroke-linejoin="round"/>
<path d="M410.3 1535.7h0M413.4 1536h0M419.4 1535.2h0M425 1536h0M431.1 1540.4h0M435.9 1544.7h0M439.9 1549.4h0M447.5 1554.8h0M451.3 1557.6h0M457.5 1561.8h0M461.8 1566.4h0M462.7 1571.4h0M465.1 1575.8h0M469.9 1583.9h0M469.2 1589.7h0M470.1 1596.6h0M468.5 1601h0M469 1604.4h0M464.9 1606.4h0M460.1 1606.2h0M452.2 1602.1h0M442.6 1604.8h0M441.9 1607.3h0M441 1598.1h0M433.7 1594.8h0M430.5 1592.3h0M423.3 1589.6h0M428.8 1583.1h0M426.6 1574.2h0M423 1567.8h0M422.6 1562.9h0M418.1 1554.1h0M414.5 1546.7h0M411.2 1542.5h0M410.7 1539.8h0" stroke="#B77FD4" stroke-width="9.4" stroke-linecap="round" fill="none"/>
<path d="M393.4 1545.1 385.7 1548.9 380.1 1556.4 378 1566.8 375.9 1579.9 378 1592.5 384.6 1608.1 391.4 1621.6 400.3 1634.9 409 1643.7 416.2 1649 421.3 1647.7 424.9 1642.3 425.2 1641.9 425.5 1641.6 425.9 1641.3 426.3 1641 433.3 1636.3 436.1 1634.4 434.2 1631.5 434 1631.1 433.8 1630.7 433.6 1630.2 433.5 1629.7 433.4 1629.3 433.4 1628.8 433.4 1628.3 433.5 1627.8 433.6 1627.3 433.8 1626.9 434 1626.5 434.2 1626 434.5 1625.7 434.8 1625.3 440.4 1619.8 440.4 1614.5 435.4 1609.6 426.8 1605.3 426.4 1605 425.9 1604.7 425.5 1604.3 418.6 1597.4 418.3 1597 418 1596.7 417.8 1596.3 417.6 1595.9 417.4 1595.5 417.3 1595.1 414.9 1585.8 414.8 1585.3 414.8 1584.8 414.8 1584.2 414.9 1583.7 415 1583.2 415.1 1582.7 416.2 1580.1 416 1580.1 404.4 1582.4 403.9 1582.5 403.4 1582.5 403 1582.5 402.5 1582.4 402 1582.3 401.5 1582.2 401.1 1581.9 400.7 1581.7 400.3 1581.4 399.9 1581.1 399.6 1580.7 399.3 1580.3 399.1 1579.9 398.9 1579.5 398.7 1579 398.6 1578.6 398.5 1578.1 398.5 1577.6 398.5 1577.1 398.6 1576.6 400.8 1565.5 400.8 1555.5 397.2 1548.1Z" fill="#FF7F00" stroke="#FF7F00" stroke-width="3.3" stroke-linejoin="round"/>
<path d="M394.6 1539.1h0M398.1 1546.5h0M400.7 1553.2h0M400.9 1556.7h0M402.6 1562.8h0M400.2 1570.4h0M398.2 1579.5h0M411.6 1581h0M416.7 1578.4h0M423.2 1573h0M419.1 1576.9h0M415.4 1587.4h0M416.7 1592.9h0M420.6 1600.7h0M428.8 1604.4h0M434.7 1608.9h0M437.4 1611.6h0M439.8 1614.8h0M444.3 1621.6h0M437.7 1625.2h0M435.7 1632.5h0M439 1634.3h0M433.2 1637.8h0M428.4 1640.4h0M420.5 1647.3h0M417.8 1649.9h0M415 1651.7h0M410.3 1645.3h0M405.9 1642.2h0M402.3 1636.8h0M396.1 1630.4h0M392.6 1623.5h0M390.4 1618.5h0M388.5 1615.1h0M383.7 1607.5h0M380.1 1601.8h0M377.1 1594.9h0M377.7 1590.6h0M374.8 1584.4h0M377 1577.9h0M378 1570h0M376.9 1564.3h0M379.6 1558.3h0M382.3 1552.3h0M386.3 1547.8h0M392.6 1546h0" stroke="#FF7F00" stroke-width="9.4" stroke-linecap="round" fill="none"/>
<path d="M354.6 1529.9h0M355.7 1534.5h0M365 1541.5h0M370.9 1543.9h0M417.4 1659h0M424.4 1652.1h0M467.4 1597.4h0" stroke="#FF7F00" stroke-width="9.4" stroke-linecap="round" fill="none"/>
<path d="M456.2 1635 456.3 1635.2 456.5 1635.6 456.8 1636 456.9 1636.4 457.1 1636.9 457.2 1637.3 457.2 1637.8 457.2 1638.3 457.2 1638.8 457.1 1639.2 457 1639.7 456.8 1640.1 456.6 1640.6 456.3 1641 456 1641.3 455.7 1641.7 455.3 1642 454.9 1642.3 454.5 1642.5 437.4 1651.1 433.4 1658.9 433.2 1659.4 432.9 1659.8 432.5 1660.2 426.5 1666.2 425.2 1671.5 429.1 1675.4 439.3 1677.5 439.7 1677.6 440.2 1677.7 440.6 1677.9 440.9 1678.1 441.3 1678.4 450.6 1685.3 451 1685.6 451.3 1685.9 451.6 1686.3 451.8 1686.7 452.1 1687.1 456.2 1695.3 463.3 1700.6 465.2 1700.6 468 1693.8 466.3 1688.8 457.2 1670.5 457 1670.1 456.8 1669.6 456.7 1669.1 456.7 1668.6 456.7 1668.1 456.7 1667.6 456.8 1667.1 457 1666.6 460.3 1657.9 461.3 1647.6 459.3 1637.7 457.3 1634.7Z" fill="#0068B5" stroke="#0068B5" stroke-width="3.3" stroke-linejoin="round"/>
<path d="M458.2 1630.9h0M459.7 1636.9h0M459.8 1643.6h0M460.8 1648.8h0M460.8 1657.3h0M458.9 1662.3h0M458 1670.3h0M461.9 1679.5h0M464.6 1683.7h0M467.9 1690.8h0M470.9 1693.6h0M465.1 1698.6h0M466.8 1703.4h0M462.4 1700.9h0M455.8 1695.1h0M456 1693.9h0M450.5 1686.7h0M442.1 1680.3h0M434.5 1677.3h0M430.8 1676.4h0M426.4 1672.6h0M424 1670.4h0M425.9 1665.9h0M429.4 1662.1h0M436.9 1652.5h0M438.7 1651h0M442 1648.7h0M448.7 1644.8h0M454.1 1633.9h0M447 1633h0M448.1 1632.4h0M456.5 1634.4h0" stroke="#0068B5" stroke-width="9.4" stroke-linecap="round" fill="none"/>
<path d="M447.6 1607.8h0M457 1617.1h0M467.4 1619.5h0M438.3 1638.1h0M444.2 1632.3h0" stroke="#0068B5" stroke-width="9.4" stroke-linecap="round" fill="none"/>
<path d="M372 1472.9h0M372.7 1476.4h0M379 1489.2h0M380.2 1492.7h0M383.7 1503.1h0M387.1 1510.1h0M390.6 1515.9h0M391.8 1520.6h0M372 1521.7h0M376.7 1521.7h0M382.5 1528.7h0M384.8 1533.4h0M381.3 1540.4h0M382.5 1536.9h0M401.1 1547.3h0M405.8 1549.7h0M408.1 1556.6h0M409.3 1563.6h0M415.1 1566h0M405.8 1575.3h0M405.8 1579.9h0M394.1 1524.1h0M397.6 1533.4h0M399.9 1540.4h0" stroke="#008000" stroke-width="9.4" stroke-linecap="round" fill="none"/>
<text x="299.9" y="1409.3" font-size="33.5" text-anchor="middle" fill="#000">6</text>
<text x="346.4" y="1437.2" font-size="33.5" text-anchor="middle" fill="#000">5</text>
<text x="258" y="1493" font-size="33.5" text-anchor="middle" fill="#000">8</text>
<text x="304.5" y="1522.1" font-size="33.5" text-anchor="middle" fill="#000">7</text>
<text x="401.1" y="1536.1" font-size="33.5" text-anchor="middle" fill="#000">4</text>
<text x="446.5" y="1577.9" font-size="33.5" text-anchor="middle" fill="#000">3</text>
<text x="406.9" y="1609.4" font-size="33.5" text-anchor="middle" fill="#000">2</text>
<text x="458.1" y="1678" font-size="33.5" text-anchor="middle" fill="#000">1</text>
<text x="173.1" y="1560.5" font-size="33.5" text-anchor="middle" fill="#000">9</text>
<text x="139.3" y="1594.2" font-size="33.5" text-anchor="middle" fill="#000">10</text>
<circle cx="520.2" cy="1336.9" r="19.3" fill="#0068B5"/>
<text x="520.2" y="1349.4" font-size="33.5" text-anchor="middle" fill="#000">1</text>
<text x="545.5" y="1352.8" font-size="33.5" text-anchor="start" fill="#000">vEC1</text>
<circle cx="520.2" cy="1385.2" r="19.3" fill="#FF7F00"/>
<text x="520.2" y="1397.7" font-size="33.5" text-anchor="middle" fill="#000">2</text>
<text x="545.5" y="1401.7" font-size="33.5" text-anchor="start" fill="#000">vEC2</text>
<circle cx="520.2" cy="1433.6" r="19.3" fill="#B77FD4"/>
<text x="520.2" y="1446.1" font-size="33.5" text-anchor="middle" fill="#000">3</text>
<text x="545.5" y="1450.7" font-size="33.5" text-anchor="start" fill="#000">vEC3</text>
<circle cx="520.2" cy="1483.2" r="19.3" fill="#008000"/>
<text x="520.2" y="1495.7" font-size="33.5" text-anchor="middle" fill="#000">4</text>
<text x="545.5" y="1497.7" font-size="33.5" text-anchor="start" fill="#000">vEC4</text>
<circle cx="520.2" cy="1534.7" r="19.3" fill="#3BA3E3"/>
<text x="520.2" y="1547.2" font-size="33.5" text-anchor="middle" fill="#000">5</text>
<text x="545.5" y="1549.9" font-size="33.5" text-anchor="start" fill="#000">aEC1</text>
<circle cx="520.2" cy="1584.3" r="19.3" fill="#C41212"/>
<text x="520.2" y="1596.8" font-size="33.5" text-anchor="middle" fill="#000">6</text>
<text x="545.5" y="1596.8" font-size="33.5" text-anchor="start" fill="#000">aEC2</text>
<circle cx="520.2" cy="1633.9" r="19.3" fill="#FF6E6A"/>
<text x="520.2" y="1646.4" font-size="33.5" text-anchor="middle" fill="#000">7</text>
<text x="545.5" y="1646.2" font-size="33.5" text-anchor="start" fill="#000">aEC3</text>
<circle cx="520.2" cy="1682" r="19.3" fill="#7033B0"/>
<text x="520.2" y="1694.5" font-size="33.5" text-anchor="middle" fill="#000">8</text>
<text x="545.5" y="1695.5" font-size="33.5" text-anchor="start" fill="#000">HEC</text>
<circle cx="520.2" cy="1732.4" r="19.3" fill="#5FB318"/>
<text x="520.2" y="1744.9" font-size="33.5" text-anchor="middle" fill="#000">9</text>
<text x="545.5" y="1745.5" font-size="33.5" text-anchor="start" fill="#000">I Pre</text>
<circle cx="520.2" cy="1782.1" r="19.3" fill="#A65628"/>
<text x="520.2" y="1794.6" font-size="33.5" text-anchor="middle" fill="#000" letter-spacing="-2.5">10</text>
<text x="545.5" y="1795.5" font-size="33.5" text-anchor="start" fill="#000">II Pre</text>
<line x1="85.3" y1="1824.6" x2="85.3" y2="2229.5" stroke="#000" stroke-width="3"/>
<line x1="83.8" y1="2228" x2="494.5" y2="2228" stroke="#000" stroke-width="3"/>
<line x1="79.3" y1="1828.5" x2="85.3" y2="1828.5" stroke="#000" stroke-width="2.6"/>
<text x="72" y="1843.6" font-size="33.5" text-anchor="end" fill="#000">8</text>
<line x1="79.3" y1="1931.2" x2="85.3" y2="1931.2" stroke="#000" stroke-width="2.6"/>
<text x="72" y="1943.2" font-size="33.5" text-anchor="end" fill="#000">4</text>
<line x1="79.3" y1="2032.9" x2="85.3" y2="2032.9" stroke="#000" stroke-width="2.6"/>
<text x="72" y="2044.9" font-size="33.5" text-anchor="end" fill="#000">0</text>
<line x1="79.3" y1="2134.6" x2="85.3" y2="2134.6" stroke="#000" stroke-width="2.6"/>
<text x="72" y="2146.6" font-size="33.5" text-anchor="end" fill="#000">−4</text>
<line x1="134.2" y1="2228" x2="134.2" y2="2234.5" stroke="#000" stroke-width="2.6"/>
<text x="134.2" y="2263.5" font-size="33.5" text-anchor="middle" fill="#000">−10</text>
<line x1="228" y1="2228" x2="228" y2="2234.5" stroke="#000" stroke-width="2.6"/>
<text x="228" y="2263.5" font-size="33.5" text-anchor="middle" fill="#000">−5</text>
<line x1="322.3" y1="2228" x2="322.3" y2="2234.5" stroke="#000" stroke-width="2.6"/>
<text x="322.3" y="2263.5" font-size="33.5" text-anchor="middle" fill="#000">0</text>
<line x1="416.2" y1="2228" x2="416.2" y2="2234.5" stroke="#000" stroke-width="2.6"/>
<text x="416.2" y="2263.5" font-size="33.5" text-anchor="middle" fill="#000">5</text>
<text x="99" y="1856" font-size="34" text-anchor="start" fill="#000">KO</text>
<text x="40" y="2018.5" font-size="34" text-anchor="middle" fill="#000" transform="rotate(-90 40 2018.5)">UMAP_2</text>
<text x="282" y="2303" font-size="34" text-anchor="middle" fill="#000">UMAP_1</text>
<path d="M181.9 2014.2 175.6 2017.4 169.2 2021.6 162.6 2028.3 154 2036.8 149.7 2047.5 149.6 2047.9 149.3 2048.3 149.1 2048.7 138 2063.5 140.6 2065.7 151.2 2068.9 151.6 2069 163.3 2073.7 163.7 2073.9 164.2 2074.2 164.6 2074.5 165 2074.8 165.3 2075.2 165.6 2075.6 165.9 2076.1 170.5 2085.4 170.7 2085.8 170.9 2086.3 171 2086.8 171 2087.3 171 2087.8 171 2088.3 170.9 2088.8 169.7 2093.7 170.4 2093.9 177.5 2090.4 185.8 2084.1 192.4 2075.3 192.7 2075 193 2074.6 193.4 2074.3 193.8 2074 194.2 2073.8 194.7 2073.6 195.1 2073.5 203.5 2071.4 211.7 2065.2 218.1 2058.9 223.4 2050.9 222.9 2049.7 218.8 2048.3 210.9 2048.3 202.2 2050.5 201.6 2050.6 192.3 2051.8 191.8 2051.8 191.3 2051.8 190.8 2051.7 190.3 2051.6 189.8 2051.4 189.4 2051.2 188.9 2051 188.5 2050.7 188.2 2050.3 187.8 2050 183.2 2044.1 182.9 2043.7 182.6 2043.3 182.4 2042.9 182.3 2042.4 182.2 2041.9 182.1 2041.4 182.1 2040.9 182.1 2040.5 182.2 2040 182.4 2039.5 183.5 2036.1 179.6 2033.5 179.3 2033.2 178.9 2032.9 178.6 2032.6 178.3 2032.2 178 2031.7 177.8 2031.3 177.7 2030.9 177.5 2030.4 177.5 2029.9 177.4 2029.4 177.4 2022.4 177.5 2022 177.5 2021.5 177.7 2021 177.8 2020.6 178 2020.1 178.3 2019.7Z" fill="#5FB318" stroke="#5FB318" stroke-width="3.3" stroke-linejoin="round"/>
<path d="M189.5 2004.2h0M193.8 2008.5h0M187.1 2010.9h0M180.8 2015.6h0M176.5 2027.9h0M184.6 2035.5h0M187 2034.9h0M184 2044.8h0M194.7 2052.3h0M198.6 2050.3h0M207 2047.8h0M211.3 2047.7h0M220.7 2049.1h0M225.4 2047.4h0M226.2 2051.4h0M220.6 2055.3h0M216.9 2061h0M213 2065.3h0M208.4 2068.2h0M202.7 2072.3h0M198.2 2073h0M190.3 2078.9h0M185.8 2084.8h0M180.4 2089h0M176.1 2091.1h0M171.1 2094.2h0M168.1 2093.7h0M169.4 2092.5h0M168.3 2084.2h0M166 2077.7h0M156.8 2073.4h0M150.4 2070.4h0M144.7 2069h0M141.1 2065.1h0M131.4 2064.6h0M136.4 2063.3h0M141 2058.5h0M147.1 2052.3h0M150.8 2045.2h0M152.2 2038.4h0M156 2035.4h0M160 2028.8h0M167 2025.1h0M169.2 2020.1h0M176.1 2016h0M182.4 2013h0M185.8 2011h0" stroke="#5FB318" stroke-width="9.4" stroke-linecap="round" fill="none"/>
<path d="M123.7 2079.2 123.2 2081.5 122.1 2088.4 122 2088.9 121.9 2089.3 121.7 2089.7 121.5 2090.1 121.2 2090.5 120.9 2090.9 120.6 2091.2 120.2 2091.5 119.8 2091.8 119.4 2092 112.5 2095.5 111.8 2095.8 107.5 2097.2 107.4 2097.9 110.2 2101.3 117.2 2101.3 117.8 2101.3 118.3 2101.4 118.8 2101.5 125.8 2103.9 126.3 2104 126.7 2104.3 127.1 2104.6 127.5 2104.9 127.9 2105.3 128.2 2105.7 128.5 2106.1 132.2 2112.6 135.5 2113.7 140.6 2111.1 141.3 2110.8 147.9 2108.6 153.4 2105.9 152 2100.4 151.9 2100 151.9 2099.5 151.9 2099 151.9 2098.5 152 2098.1 152.1 2097.6 152.3 2097.2 152.5 2096.7 152.8 2096.3 153.1 2096 153.4 2095.6 153.8 2095.3 154.2 2095 154.6 2094.8 161.6 2091.3 162.3 2087.5 161.6 2082.3 155.9 2080.8 147.5 2079.8 138.8 2080.9 138.3 2080.9 137.9 2080.9 137.4 2080.8 137 2080.7 128.6 2078.6Z" fill="#A65628" stroke="#A65628" stroke-width="3.3" stroke-linejoin="round"/>
<path d="M121.1 2076.3h0M128.1 2077.4h0M132.9 2079.9h0M140.4 2081.1h0M148.1 2080.2h0M154.2 2079.9h0M159.6 2082.3h0M160.7 2081h0M163.3 2087.2h0M165 2094.2h0M159.6 2093.6h0M152.4 2101.2h0M157.6 2107.9h0M151.2 2107.2h0M144.5 2109.7h0M139.5 2111.8h0M135.6 2117.1h0M129.1 2115.9h0M128.1 2107.5h0M120.6 2102.6h0M111.7 2100.4h0M109.9 2101.8h0M107.2 2098.7h0M105.3 2095.2h0M115.8 2094.4h0M121.8 2090.6h0M123.2 2080.6h0" stroke="#A65628" stroke-width="9.4" stroke-linecap="round" fill="none"/>
<path d="M135.8 2100.4h0M162.6 2102.7h0" stroke="#5FB318" stroke-width="9.4" stroke-linecap="round" fill="none"/>
<path d="M192.1 2021.6 196 2022.1 202.6 2020.4 206.2 2015 206.5 2014.7 206.8 2014.3 207.2 2014 207.6 2013.7 208 2013.4 208.4 2013.2 208.9 2013.1 209.3 2012.9 209.8 2012.9 210.3 2012.8 215.6 2012.8 217.9 2011 217 2002 217 2001.6 217 2001.1 217.1 2000.7 217.2 2000.3 218.5 1994.8 210.2 1998.9 209.8 1999.1 209.4 1999.3 208.9 1999.4 198.3 2001.5 198.3 2001.5 199.1 2002 199.5 2002.3 199.8 2002.6 200.1 2003 200.4 2003.4 200.7 2003.8 200.9 2004.2 201 2004.7 201.2 2005.1 201.2 2005.6 201.3 2006.1 201.3 2006.5 201.2 2007 201.1 2007.5 200.9 2007.9 200.8 2008.4 196.1 2017.7 195.9 2018.1 195.6 2018.5 195.3 2018.9 194.9 2019.2ZM231.7 1985.3 232.4 1985.1 241.2 1982.9 250 1978.5 250.4 1978.3 250.9 1978.1 251.4 1978 251.8 1978 252.3 1977.9 252.8 1978 253.3 1978.1 253.7 1978.2 254.7 1978.5 256.8 1972 257 1971.6 257.2 1971.1 257.5 1970.7 257.8 1970.3 258.1 1970 258.5 1969.6 258.9 1969.4 259.4 1969.1 259.8 1968.9 260.3 1968.8 269.6 1966.5 273.7 1965.4 270.9 1964 270.5 1963.8 270.2 1963.6 260.9 1956.6 260.3 1956.1 257.6 1953.4 256.5 1955.1 251.9 1964.1 251.7 1964.6 251.4 1965 251.1 1965.4 250.7 1965.7 250.3 1966 244.4 1970 240.3 1978.1 240.1 1978.5 239.8 1978.9 239.5 1979.2 239.2 1979.6 238.9 1979.8Z" fill="#7033B0" stroke="#7033B0" stroke-width="3.3" stroke-linejoin="round"/>
<path d="M257.2 1947h0M258.7 1955.7h0M264.9 1958.6h0M269.9 1962h0M278 1965.1h0M278.1 1965.4h0M273.5 1965.1h0M268.4 1967.6h0M256.5 1974.3h0M253.9 1977.9h0M258.2 1983.7h0M248.4 1980.7h0M244.2 1983h0M237.6 1982.7h0M231.3 1986.3h0M225.1 1987.7h0M219.5 1997.2h0M218.4 2005.3h0M218.5 2012.6h0M215.3 2012.3h0M214 2014.4h0M205.3 2018.2h0M203.2 2021.4h0M196.3 2022.2h0M191.2 2020.7h0M183.7 2022.8h0M190.6 2021.6h0M197.3 2016.9h0M199.5 2005.8h0M191.7 2001.7h0M192.1 2000.9h0M199.3 2000.8h0M206.6 1999.5h0M214.4 1996h0M219.6 1992.3h0M226.6 1987h0M233.4 1984.3h0M236.5 1982.3h0M240.2 1974.5h0M245.1 1969h0M251.2 1963.8h0M252.6 1958.1h0M256.9 1953.8h0" stroke="#7033B0" stroke-width="9.4" stroke-linecap="round" fill="none"/>
<path d="M187.9 2036.2h0M193.8 2039.4h0M201.5 2038.5h0M207.8 2042.5h0M214.8 2041.7h0M221.4 2043.6h0M215.2 2043.4h0M212.5 2041.9h0M201.5 2040.2h0M198.4 2040.7h0M191.7 2038.9h0" stroke="#7033B0" stroke-width="9.4" stroke-linecap="round" fill="none"/>
<path d="M259.2 1935.2h0M263.8 1925.9h0M273.1 1903.8h0M305.7 1970.1h0M317.3 1966.6h0M319.7 1973.6h0M336 1989.9h0M331.3 1996.8h0M336 2001.5h0M332.5 2006.2h0" stroke="#7033B0" stroke-width="9.4" stroke-linecap="round" fill="none"/>
<path d="M274.9 2005.7 275.7 2014.8 277.8 2025 283.5 2032.7 290.6 2037.2 302.6 2036.2 309.6 2034.4 312.8 2029.7 314.9 2021.2 315 2020.7 315.3 2020.2 315.6 2019.7 319.4 2014 319.4 2009.2 317.5 2008.2 317 2008 316.7 2007.7 316.3 2007.4 316 2007.1 315.7 2006.7 315.4 2006.3 315.2 2005.9 315 2005.4 314.9 2005 314.8 2004.5 314.7 2004 314.7 2003.6 314.8 2003.1 314.9 2002.6 316.9 1994.7 316 1992 314.8 1994.4 314.5 1994.8 314.3 1995.2 313.9 1995.6 313.6 1995.9 313.2 1996.2 312.8 1996.5 312.4 1996.7 311.9 1996.9 311.5 1997 311 1997.1 310.5 1997.1 310 1997.1 309.5 1997.1 309.1 1996.9 308.6 1996.8 308.2 1996.6 305.3 1995.2 303.2 1999 298.7 2010.3 298.5 2010.7 298.2 2011.1 297.9 2011.5 297.6 2011.9 297.3 2012.2 296.9 2012.5 296.5 2012.8 296.1 2013 295.7 2013.1 295.2 2013.3 294.8 2013.4 294.3 2013.4 293.8 2013.4 293.3 2013.4 292.9 2013.3 283.6 2010.9 283.1 2010.8 282.7 2010.6 282.3 2010.4 282 2010.2 281.6 2009.9 276.3 2005.5Z" fill="#FF6E6A" stroke="#FF6E6A" stroke-width="3.3" stroke-linejoin="round"/>
<path d="M270.3 2001.2h0M277.5 2001.5h0M281.4 2007.2h0M287.9 2012.8h0M298.9 2007.5h0M301.5 1999.9h0M305.7 1994.6h0M304.5 1991.5h0M315.9 1992.3h0M315.1 1984.8h0M315.7 1990.2h0M316.9 1993.7h0M318.1 1995.5h0M320.1 2008.9h0M318.9 2009.4h0M322.1 2015.1h0M316.2 2023.5h0M313.1 2027.9h0M309.4 2033.6h0M308.9 2033.9h0M304.3 2036.1h0M293.2 2037.3h0M289.8 2039.8h0M283.8 2034.7h0M280.3 2030.2h0M278.4 2024.6h0M277.8 2022h0M274.4 2012.2h0M273.4 2006.1h0" stroke="#FF6E6A" stroke-width="9.4" stroke-linecap="round" fill="none"/>
<path d="M283.6 1987.5h0M291.7 1985.2h0M342.9 1973.6h0M342.9 2020.1h0M348.8 2021.3h0M345.3 2025.9h0M331.3 2027.1h0" stroke="#FF6E6A" stroke-width="9.4" stroke-linecap="round" fill="none"/>
<path d="M325.9 2030.2 326.4 2031.7 327.5 2033.1 328.3 2032.5 328.6 2032.3 331.4 2030.4 331 2029.7 327.5 2029.7Z" fill="#7033B0" stroke="#7033B0" stroke-width="3.3" stroke-linejoin="round"/>
<path d="M321.3 2027.6h0M326.4 2029.8h0M331.4 2029.4h0M336.9 2032.1h0M327.9 2032.7h0M327 2038.2h0M325.6 2030.6h0" stroke="#7033B0" stroke-width="9.4" stroke-linecap="round" fill="none"/>
<path d="M322.3 1916.9 322.3 1922.4 322.2 1923 322.1 1923.6 319.8 1932.9 319.6 1933.4 319.4 1933.9 319.1 1934.4 314.5 1941.4 314.2 1941.8 313.8 1942.2 313.4 1942.5 313 1942.8 312.6 1943.1 307.1 1945.8 307.9 1948.1 311.9 1954.1 318.5 1960.8 318.8 1961.1 319.1 1961.5 319.4 1962 319.6 1962.4 319.8 1962.9 319.9 1963.4 319.9 1963.9 319.9 1964.4 319.9 1964.9 319.8 1965.3 319.7 1965.8 318.9 1968.1 318.9 1968.1 323.8 1964.9 333 1958 333.4 1957.7 333.8 1957.5 334.2 1957.3 334.7 1957.2 335.1 1957.1 335.6 1957 336.1 1957 336.5 1957 337 1957.1 337.4 1957.2 337.9 1957.4 338.3 1957.6 338.7 1957.8 345 1962 353.4 1964.1 362.7 1966.5 363.2 1966.6 363.7 1966.8 364.1 1967 364.5 1967.3 364.6 1967.4 363.7 1963 361.5 1954.2 357.1 1943.2 350.7 1932.4 342 1923.8 333.8 1917.6 326.6 1915.8Z" fill="#3BA3E3" stroke="#3BA3E3" stroke-width="3.3" stroke-linejoin="round"/>
<path d="M319.4 1915.9h0M326.1 1915.5h0M330 1915.5h0M335.8 1918.6h0M340.8 1923.8h0M345.8 1926.7h0M351.6 1930h0M355.1 1937.3h0M358.9 1942.1h0M360.5 1948.4h0M361.9 1954.9h0M364.3 1960.8h0M365.3 1967.1h0M368.8 1974.9h0M374.1 1979.6h0M368.3 1980.2h0M366.3 1972.1h0M361.2 1965.6h0M355.4 1964.8h0M347.5 1964h0M340 1959.8h0M331.5 1959.3h0M325.8 1962.3h0M321.5 1967.6h0M317 1968.1h0M318.8 1968.6h0M317.4 1960.2h0M312.8 1954.9h0M307.5 1949.1h0M304.8 1943.7h0M306.5 1944.5h0M314.1 1941.2h0M317.5 1935.9h0M321 1928.6h0M321.6 1920.3h0" stroke="#3BA3E3" stroke-width="9.4" stroke-linecap="round" fill="none"/>
<path d="M307.3 1854.1 299.5 1858.8 293.6 1864.7 289.3 1875.4 284.7 1887 284.5 1887.4 279.9 1896.7 279.6 1897.1 279.3 1897.5 279 1897.9 278.6 1898.3 278.2 1898.6 272.9 1902.1 271 1911.7 270.9 1912.1 270.7 1912.6 270.6 1913 267 1920.1 270.6 1927.2 270.8 1927.6 270.9 1928 271 1928.5 271.1 1928.9 271.1 1929.4 271.1 1929.9 271 1930.3 270.9 1930.8 267.7 1941.5 268.5 1949.8 273.5 1953.2 273.8 1953.3 283.1 1960.3 283.5 1960.7 283.9 1961.1 284.2 1961.5 286.9 1965.6 292.9 1964.1 300.3 1962.3 302.3 1959.3 299 1952.5 298.8 1952.1 298.6 1951.7 298.5 1951.2 298.5 1950.8 298.4 1950.3 298.4 1941 298.5 1940.5 298.5 1940 298.7 1939.5 298.9 1939 299.1 1938.6 299.4 1938.1 299.7 1937.7 300 1937.4 300.4 1937 308.2 1931.2 310.2 1921.4 310.3 1920.9 310.5 1920.5 310.7 1920.1 310.9 1919.6 311.2 1919.2 311.5 1918.9 311.9 1918.6 312.3 1918.3 323.3 1910.9 321.9 1905.3 317.4 1894 317.3 1893.5 317.2 1893.1 317.1 1892.6 317.1 1892.2 317.1 1891.7 317.1 1891.3 317.2 1890.8 317.4 1890.4 320 1883.4 315.6 1876.3 308.7 1867.2 308.5 1866.8 308.2 1866.3 308 1865.9 307.9 1865.4 307.8 1864.9 307.8 1864.5 307.8 1864 307.8 1863.5 307.9 1863 309.5 1856.4Z" fill="#C41212" stroke="#C41212" stroke-width="3.3" stroke-linejoin="round"/>
<path d="M307.6 1850.2h0M311 1856.5h0M309.3 1858.7h0M310.6 1869.1h0M316 1873.6h0M319.5 1880.3h0M324.2 1882.8h0M318.2 1888.6h0M320.4 1898.2h0M321.6 1902.5h0M324.5 1909.4h0M326.4 1911.4h0M319 1915.3h0M313.2 1918.4h0M310.2 1926.3h0M309.4 1930.4h0M303.2 1935.5h0M297.8 1943.6h0M298.4 1953.4h0M302.9 1958.1h0M301.7 1960.9h0M299.8 1964.2h0M294.1 1964.3h0M289.6 1965.1h0M285.4 1966.4h0M280.7 1959h0M274.7 1955h0M270.1 1951.9h0M266.1 1949.4h0M267 1942.9h0M268.4 1937.8h0M269.7 1931.1h0M266.2 1921.5h0M266.3 1920.2h0M268.7 1915.2h0M272.1 1907.7h0M269.5 1899.9h0M277.9 1897.6h0M282.3 1890.3h0M284.2 1884.2h0M288.4 1879.5h0M290.4 1871.9h0M292.2 1864.6h0M295.3 1862.5h0M298 1857.3h0M307.6 1853.9h0" stroke="#C41212" stroke-width="9.4" stroke-linecap="round" fill="none"/>
<path d="M280.1 1913.1h0" stroke="#3BA3E3" stroke-width="9.4" stroke-linecap="round" fill="none"/>
<path d="M291.7 1874.7h0" stroke="#FF6E6A" stroke-width="9.4" stroke-linecap="round" fill="none"/>
<path d="M273.1 1903.8h0M284.8 1904.9h0" stroke="#7033B0" stroke-width="9.4" stroke-linecap="round" fill="none"/>
<path d="M417.2 2043.1 417.6 2044.6 417.6 2045.1 417.7 2045.5 417.7 2046 417.6 2046.5 417.5 2046.9 415.6 2054.4 424.1 2071.4 424.4 2071.9 424.5 2072.4 426.8 2081.7 426.9 2082.2 427 2082.7 427 2083.2 426.9 2083.7 426.8 2084.2 426.7 2084.7 426.5 2085.1 423.1 2091.9 425.9 2096.1 432.5 2102.7 439.5 2109.7 445.5 2115.7 452.4 2117.4 462 2115.5 466.5 2112.5 468.3 2103.6 467.2 2090.8 464 2080.1 459.9 2071.9 454 2066.1 445.4 2061.8 445.1 2061.5 444.7 2061.3 435.4 2054.3 426.4 2047.6 417.7 2043.3Z" fill="#B77FD4" stroke="#B77FD4" stroke-width="3.3" stroke-linejoin="round"/>
<path d="M411.6 2037.1h0M416.1 2041.3h0M421.6 2046.2h0M426.5 2047.9h0M433 2050.8h0M439.2 2057.9h0M444.3 2061.2h0M449.5 2063.6h0M455.1 2067.3h0M459.6 2071.7h0M463.2 2075.5h0M464.3 2084.4h0M468.8 2090.4h0M467.5 2095h0M469.8 2100.5h0M469 2107.5h0M469.7 2114.5h0M464.9 2115.9h0M460.3 2115.3h0M453.8 2117.6h0M446.1 2115h0M443.5 2113.8h0M437.1 2109.6h0M432.8 2105h0M429.6 2101.2h0M424.4 2093.6h0M418.1 2092.3h0M424.4 2088.2h0M426 2077.5h0M425 2071.2h0M420.8 2063.5h0M416.3 2060.2h0M414.8 2054.5h0M416.3 2048.5h0M413.7 2040h0" stroke="#B77FD4" stroke-width="9.4" stroke-linecap="round" fill="none"/>
<path d="M374.1 2054.2 379.5 2061.4 379.7 2061.7 379.9 2062.1 380.1 2062.6 380.3 2063 380.4 2063.5 380.4 2063.9 380.4 2064.4 380.4 2064.8 380.4 2065.3 378 2076.9 375.8 2088.1 375.8 2100.6 379.9 2111 386.7 2122.3 386.9 2122.6 393.7 2136.2 400.2 2144.8 408.7 2153.3 414.5 2156.3 421.4 2151.1 421.8 2150.9 422.2 2150.6 422.6 2150.5 423.1 2150.3 423.5 2150.2 424 2150.2 424.4 2150.1 424.9 2150.2 425.3 2150.2 435.9 2152.3 439 2151.6 438.5 2150.3 434.2 2143.8 434 2143.4 433.8 2143 433.6 2142.6 433.5 2142.1 433.4 2141.7 433.4 2141.2 433.4 2140.7 433.5 2140.2 433.6 2139.8 433.7 2139.3 433.9 2138.9 438.6 2129.6 438.9 2129.1 441 2126 435.4 2121.8 434.8 2121.3 417.2 2103.7 409.2 2101.7 408.7 2101.5 408.2 2101.3 398.9 2096.7 398.5 2096.4 398.1 2096.2 397.7 2095.8 397.4 2095.5 397.1 2095.1 396.8 2094.7 396.6 2094.3 396.4 2093.9 396.3 2093.4 396.2 2092.9 396.2 2092.5 396.2 2092 396.2 2091.5 396.3 2091 398.5 2082.3 398.5 2072.3 395.1 2063.8 388.3 2062.1 387.9 2062 387.4 2061.8 387 2061.6 386.7 2061.4 386.3 2061.1 386 2060.8 381.3 2056.2 381 2055.8 380.7 2055.4 378.5 2052.1Z" fill="#FF7F00" stroke="#FF7F00" stroke-width="3.3" stroke-linejoin="round"/>
<path d="M352.6 2040h0M356.9 2045.5h0M364.3 2049.5h0M374.1 2054.5h0M379.3 2049.3h0M377.8 2051h0M381.8 2056.3h0M391 2060.9h0M397.9 2060.5h0M397.8 2066.5h0M399.3 2073.7h0M399.3 2077.9h0M397.8 2086h0M398 2089.9h0M405.8 2099.4h0M410.4 2102.3h0M416.1 2102.4h0M420 2105.8h0M427.4 2113.2h0M431.7 2117.5h0M438.3 2123.3h0M442.2 2125.8h0M442.5 2124.6h0M437.6 2130.8h0M435.2 2139.2h0M437.7 2148h0M442.6 2153.2h0M441.3 2152.6h0M436.9 2153.9h0M432.1 2151.9h0M418.3 2154.6h0M414.2 2159h0M413.5 2156.6h0M408.2 2154.8h0M404.2 2148.6h0M400 2144.8h0M395.7 2138.2h0M393.2 2136.4h0M389.7 2129.7h0M384.2 2121.2h0M382 2118.1h0M379.8 2110.9h0M376.2 2104.5h0M375.7 2098.1h0M374.7 2094.5h0M376 2088h0M377.2 2080h0M377.5 2072h0M379.4 2064.7h0M375.7 2057.8h0M369.9 2053.8h0M363.5 2049.7h0M355.9 2047h0M352.3 2044.6h0" stroke="#FF7F00" stroke-width="9.4" stroke-linecap="round" fill="none"/>
<path d="M396.5 2077.1h0" stroke="#B77FD4" stroke-width="9.4" stroke-linecap="round" fill="none"/>
<path d="M362.8 1982.6 363.3 1984 370.7 1987.8 371.1 1988 369.7 1985.6 363.1 1982.8ZM373.9 1993.3 375.3 1999 376.7 2000.4ZM385.1 2020.1 385.1 2020.1 385.1 2020.6 385 2021.1 384.9 2021.5 384.7 2022 384.5 2022.4 384.3 2022.9 384 2023.2 383.7 2023.6 383.3 2023.9 382.9 2024.2 382.5 2024.5 382.1 2024.7 381.6 2024.8 381.1 2025 380.7 2025 380.2 2025 374.7 2025 369.8 2028.3 368.2 2030.6 368.8 2031 375.4 2034.3 379 2036.1 384.8 2036.1 385.3 2036.1 385.8 2036.2 386.3 2036.3 386.7 2036.5 387.1 2036.7 387.6 2036.9 394.5 2041.6 394.9 2041.9 395.3 2042.2 395.6 2042.5 395.9 2042.9 396.1 2043.3 396.3 2043.7 396.5 2044.1 396.6 2044.6 396.7 2045.1 396.7 2045.5 396.7 2046 396.7 2046.4 396.6 2046.9 395.2 2052.4 396.2 2052.9 396.2 2052.6 396.2 2052.1 396.3 2051.6 396.4 2051.1 396.6 2050.7 396.8 2050.2 397.1 2049.8 397.4 2049.5 397.7 2049.1 398.1 2048.8 398.5 2048.5 398.9 2048.3 402.4 2046.5 404.5 2043.4 401.9 2039.5 395.3 2032.9 388.3 2025.9 388 2025.5 387.6 2025.1 387.4 2024.6ZM410.7 2074.8 410.7 2080.6 410.7 2081.1 410.6 2081.5 410.5 2082 410.4 2082.4 410.2 2082.8 409.9 2083.2 406.5 2088.8 406.9 2089.2 412 2087.9 414.4 2084.3 412.8 2078Z" fill="#008000" stroke="#008000" stroke-width="3.3" stroke-linejoin="round"/>
<path d="M360.1 1976h0M363.2 1982.9h0M371.7 1983.2h0M374.3 1991.1h0M375.1 1994.1h0M377.9 2003.4h0M381.3 2008.2h0M385.5 2014.9h0M387.4 2019.6h0M392.2 2028.8h0M396.5 2033.9h0M402 2036.9h0M403.2 2043.4h0M403.4 2044.5h0M400.9 2046.8h0M401.1 2057h0M404.5 2063.9h0M409.4 2069.4h0M412.1 2075h0M414.5 2081.1h0M417.2 2085h0M414 2090.2h0M410 2090h0M407.2 2090.1h0M401.2 2089h0M409.6 2086.3h0M409.7 2077.8h0M406.7 2068.8h0M403.7 2062.7h0M399.5 2055.4h0M391.5 2054.8h0M396 2049.8h0M390.7 2041h0M382.9 2037.1h0M376.6 2035.4h0M370.7 2031.9h0M364.5 2031.7h0M366.8 2031.3h0M371.9 2026.5h0M373.4 2022.3h0M384.7 2017.1h0M380.5 2010.1h0M379.7 2003.1h0M375.8 1999.3h0M373.8 1991.7h0M367.5 1985.8h0M360.3 1986.9h0M359.3 1981h0" stroke="#008000" stroke-width="9.4" stroke-linecap="round" fill="none"/>
<path d="M454.6 2124.8h0" stroke="#008000" stroke-width="9.4" stroke-linecap="round" fill="none"/>
<path d="M444.1 2134.4 445.4 2139.7 447.7 2146.5 447.8 2146.9 450.1 2156.2 450.2 2156.7 450.2 2157.1 450.3 2157.6 450.2 2158 450.1 2158.5 450 2158.9 449.8 2159.4 449.6 2159.8 449.4 2160.2 449.1 2160.6 445.4 2165.1 446.4 2167.1 452.9 2168.8 457.8 2168.8 458.7 2165 454.9 2157.3 454.7 2156.8 454.5 2156.3 454.4 2155.8 454.4 2155.3 454.4 2154.8 454.4 2154.3 454.5 2153.8 454.7 2153.3 454.9 2152.9 458.7 2145.2 456.8 2137.7 456.7 2137.2 456.7 2136.7 456.7 2136.2 456.7 2135.7 456.8 2135.3 458 2130.4 456.8 2130 449.4 2131.8Z" fill="#0068B5" stroke="#0068B5" stroke-width="3.3" stroke-linejoin="round"/>
<path d="M438.5 2131.3h0M447.6 2133.2h0M454.2 2129.9h0M457.3 2130.8h0M461.5 2129h0M458 2135.6h0M460.2 2145.3h0M458.4 2148.9h0M456.3 2152.9h0M458 2162.5h0M459.6 2166.5h0M461.1 2173.3h0M454.4 2170.1h0M448.8 2166.9h0M444.7 2164.4h0M442.7 2163.9h0M447.9 2161.3h0M446.4 2149.6h0M445.4 2143.9h0M443.7 2136.7h0" stroke="#0068B5" stroke-width="9.4" stroke-linecap="round" fill="none"/>
<path d="M423.1 2165.5 422.5 2170.5 425.9 2177.3 428.4 2179 429 2178.4 429.9 2171.4 429.1 2165.3 426.5 2164Z" fill="#0068B5" stroke="#0068B5" stroke-width="3.3" stroke-linejoin="round"/>
<path d="M419.7 2162.4h0M427 2159.7h0M430.2 2163.6h0M429.8 2167.1h0M430.6 2174.8h0M430.8 2179.1h0M429.3 2184.5h0M426.9 2177.3h0M421 2171h0M422 2169.7h0" stroke="#0068B5" stroke-width="9.4" stroke-linecap="round" fill="none"/>
<path d="M450.3 2192.6 450.3 2194.9 455.8 2200.4 456.1 2200.8 456.4 2201.2 460 2206.6 465.1 2207.9 466.5 2206.7 465 2200.5 464.9 2199.9 464.1 2193.7 460.2 2192.4 453.2 2190.6Z" fill="#0068B5" stroke="#0068B5" stroke-width="3.3" stroke-linejoin="round"/>
<path d="M449.4 2192.1h0M452.2 2186.3h0M458.3 2191.3h0M464.4 2192.9h0M464 2194.8h0M467.6 2204.3h0M469.8 2208.2h0M465.3 2211.9h0M462.5 2208.1h0M457 2203.5h0M453.8 2200.1h0M445.9 2196h0" stroke="#0068B5" stroke-width="9.4" stroke-linecap="round" fill="none"/>
<path d="M462.8 2178.3h0M463.9 2183h0" stroke="#0068B5" stroke-width="9.4" stroke-linecap="round" fill="none"/>
<path d="M443 2156.2h0" stroke="#FF7F00" stroke-width="9.4" stroke-linecap="round" fill="none"/>
<text x="296.9" y="1923.9" font-size="33.5" text-anchor="middle" fill="#000">6</text>
<text x="338.3" y="1953" font-size="33.5" text-anchor="middle" fill="#000">5</text>
<text x="245.7" y="1990.2" font-size="33.5" text-anchor="middle" fill="#000">8</text>
<text x="305.7" y="2028.6" font-size="33.5" text-anchor="middle" fill="#000">7</text>
<text x="401.1" y="2048.4" font-size="33.5" text-anchor="middle" fill="#000">4</text>
<text x="447.6" y="2090.3" font-size="33.5" text-anchor="middle" fill="#000">3</text>
<text x="408.1" y="2121.7" font-size="33.5" text-anchor="middle" fill="#000">2</text>
<text x="458.1" y="2181" font-size="33.5" text-anchor="middle" fill="#000">1</text>
<text x="178.9" y="2064.7" font-size="33.5" text-anchor="middle" fill="#000">9</text>
<text x="148.6" y="2103.1" font-size="33.5" text-anchor="middle" fill="#000">10</text>
</g>
<g id="ph">
<text x="693" y="1278.5" font-size="56" text-anchor="start" fill="#000" font-weight="bold">h</text>
<text x="738.4" y="1331" font-size="33" text-anchor="start" fill="#000">Cdh5</text>
<path d="M855.3 1348.7C855.3 1347.2 854.7 1342.4 855.3 1339.8C855.9 1337.3 857.1 1335.9 858.7 1333.8C860.2 1331.8 863.2 1329.6 864.7 1327.8C866.2 1325.9 865.3 1324.9 867.5 1322.8C869.7 1320.8 876.6 1317.6 877.4 1315.7C878.3 1313.9 874.7 1313.1 872.5 1311.8C870.3 1310.5 866.9 1309.6 864.7 1307.9C862.5 1306.2 861.6 1303.3 859.7 1301.9C857.8 1300.5 854.7 1300.1 853.7 1299.8L853.7 1299.8C852.7 1300.1 849.5 1300.5 847.7 1301.9C845.8 1303.3 844.9 1306.2 842.7 1307.9C840.5 1309.6 837.1 1310.5 834.9 1311.8C832.7 1313.1 829.1 1313.9 829.9 1315.7C830.8 1317.6 837.7 1320.8 839.9 1322.8C842 1324.9 841.2 1325.9 842.7 1327.8C844.2 1329.6 847.1 1331.8 848.7 1333.8C850.3 1335.9 851.5 1337.3 852.1 1339.8C852.7 1342.4 852.1 1347.2 852.1 1348.7Z" fill="#0068B5" stroke="#333" stroke-width="2.5" stroke-linejoin="round"/>
<path d="M909.8 1348.7C909.8 1348.3 910.2 1347.1 909.8 1346.2C909.3 1345.4 907.5 1345.2 907.1 1343.7C906.7 1342.3 906.6 1339.8 907.5 1337.7C908.5 1335.7 910.7 1333.7 912.6 1331.7C914.5 1329.6 916.7 1327.5 918.7 1325.7C920.6 1323.8 922.5 1322.2 924.3 1320.7C926.1 1319.2 929.6 1318.1 929.3 1316.8C929 1315.5 925.1 1314.2 922.6 1312.9C920 1311.6 916.7 1310.4 914.4 1309C912.1 1307.6 910.5 1306.5 909.1 1304.7C907.7 1303 906.6 1299.7 906.1 1298.7L905 1298.7C904.5 1299.7 903.4 1303 902 1304.7C900.6 1306.5 899 1307.6 896.7 1309C894.4 1310.4 891 1311.6 888.5 1312.9C886 1314.2 882.1 1315.5 881.8 1316.8C881.5 1318.1 884.9 1319.2 886.7 1320.7C888.5 1322.2 890.4 1323.8 892.4 1325.7C894.4 1327.5 896.5 1329.6 898.4 1331.7C900.3 1333.7 902.6 1335.7 903.5 1337.7C904.5 1339.8 904.3 1342.3 903.9 1343.7C903.6 1345.2 901.7 1345.4 901.3 1346.2C900.8 1347.1 901.3 1348.3 901.3 1348.7Z" fill="#FF7F00" stroke="#333" stroke-width="2.5" stroke-linejoin="round"/>
<path d="M959 1348.7C959 1347 958.2 1341.7 959 1338.8C959.7 1335.9 961.6 1333.9 963.4 1331.7C965.2 1329.4 967.4 1327.5 969.4 1325.7C971.5 1323.8 973.5 1322 975.5 1320.7C977.5 1319.4 981.5 1319 981.1 1317.8C980.8 1316.7 975.9 1315.3 973.3 1313.9C970.8 1312.6 968.4 1311.1 966.2 1309.7C964.1 1308.3 962.2 1307.1 960.9 1305.8C959.6 1304.5 959.2 1303.2 958.6 1301.9C958.1 1300.6 957.9 1298.7 957.7 1298L957 1298C956.9 1298.7 956.7 1300.6 956.1 1301.9C955.6 1303.2 955.1 1304.5 953.8 1305.8C952.5 1307.1 950.6 1308.3 948.5 1309.7C946.4 1311.1 944 1312.6 941.4 1313.9C938.9 1315.3 934 1316.7 933.6 1317.8C933.3 1319 937.3 1319.4 939.3 1320.7C941.3 1322 943.3 1323.8 945.3 1325.7C947.4 1327.5 949.6 1329.4 951.3 1331.7C953.1 1333.9 955 1335.9 955.8 1338.8C956.5 1341.7 955.8 1347 955.8 1348.7Z" fill="#B77FD4" stroke="#333" stroke-width="2.5" stroke-linejoin="round"/>
<path d="M1013.1 1348.7C1013.1 1348.3 1013.5 1347.3 1013.1 1346.6C1012.7 1345.8 1011.2 1345.3 1010.8 1344.4C1010.4 1343.6 1010.5 1343.1 1010.8 1341.6C1011.1 1340.1 1011.5 1337.9 1012.8 1335.6C1014 1333.2 1015.8 1330.5 1018.1 1327.8C1020.4 1325.1 1024 1321.9 1026.2 1319.6C1028.5 1317.4 1030.4 1316 1031.6 1314.7C1032.7 1313.3 1033.4 1313 1033 1311.8C1032.6 1310.7 1031.1 1309.6 1029.1 1307.9C1027.1 1306.2 1023.8 1303.6 1021.3 1301.9C1018.7 1300.2 1016.2 1299 1014.2 1298C1012.1 1297 1010.1 1296.2 1009.2 1295.9L1009.2 1295.9C1008.4 1296.2 1006.3 1297 1004.3 1298C1002.2 1299 999.7 1300.2 997.2 1301.9C994.6 1303.6 991.4 1306.2 989.4 1307.9C987.4 1309.6 985.9 1310.7 985.5 1311.8C985 1313 985.7 1313.3 986.9 1314.7C988 1316 989.9 1317.4 992.2 1319.6C994.5 1321.9 998.1 1325.1 1000.4 1327.8C1002.6 1330.5 1004.4 1333.2 1005.7 1335.6C1006.9 1337.9 1007.3 1340.1 1007.6 1341.6C1008 1343.1 1008 1343.6 1007.6 1344.4C1007.2 1345.3 1005.7 1345.8 1005.3 1346.6C1004.9 1347.3 1005.3 1348.3 1005.3 1348.7Z" fill="#008000" stroke="#333" stroke-width="2.5" stroke-linejoin="round"/>
<path d="M1061.8 1348.7C1061.8 1343.6 1061.6 1324.6 1062.1 1318.6C1062.6 1312.5 1062.4 1315.7 1064.6 1313.2C1066.8 1310.8 1071.9 1307.1 1075.2 1304.4C1078.6 1301.7 1084.1 1299.7 1084.1 1297.3C1084.1 1294.9 1078.3 1292.6 1075.2 1290.2C1072.2 1287.8 1068.8 1285.7 1066.4 1283.1C1064 1280.5 1062 1276.3 1061.1 1274.9L1061.1 1274.9C1060.2 1276.3 1058.2 1280.5 1055.7 1283.1C1053.3 1285.7 1049.9 1287.8 1046.9 1290.2C1043.9 1292.6 1038 1294.9 1038 1297.3C1038 1299.7 1043.6 1301.7 1046.9 1304.4C1050.2 1307.1 1055.3 1310.8 1057.5 1313.2C1059.7 1315.7 1059.5 1312.5 1060 1318.6C1060.5 1324.6 1060.3 1343.6 1060.4 1348.7Z" fill="#3BA3E3" stroke="#333" stroke-width="2.5" stroke-linejoin="round"/>
<path d="M1113.6 1348.7C1113.7 1343.9 1113.5 1325.9 1114 1320.3C1114.5 1314.8 1114.2 1318.2 1116.5 1316.1C1118.7 1314 1123.8 1310.5 1127.1 1307.9C1130.4 1305.3 1135.1 1302.8 1136 1300.8C1136.9 1298.8 1135.1 1297.7 1132.4 1296.2C1129.7 1294.7 1123 1293.3 1120 1292C1117 1290.6 1115.8 1291.1 1114.7 1288.4C1113.5 1285.7 1113.5 1278.1 1113.3 1276L1112.6 1276C1112.3 1278.1 1112.3 1285.7 1111.1 1288.4C1110 1291.1 1108.8 1290.6 1105.8 1292C1102.8 1293.3 1096.1 1294.7 1093.4 1296.2C1090.7 1297.7 1089 1298.8 1089.9 1300.8C1090.8 1302.8 1095.4 1305.3 1098.7 1307.9C1102 1310.5 1107.1 1314 1109.4 1316.1C1111.6 1318.2 1111.4 1314.8 1111.8 1320.3C1112.3 1325.9 1112.1 1343.9 1112.2 1348.7Z" fill="#C41212" stroke="#333" stroke-width="2.5" stroke-linejoin="round"/>
<path d="M1165.5 1348.7C1165.5 1344.2 1165.3 1327.4 1165.8 1322.1C1166.3 1316.8 1166.1 1319.5 1168.3 1317.5C1170.5 1315.5 1175.6 1312.6 1178.9 1310.4C1182.3 1308.2 1188.1 1306.3 1187.8 1304.4C1187.5 1302.4 1180.5 1300.9 1177.2 1299.1C1173.8 1297.2 1170.4 1296 1168.3 1293.7C1166.2 1291.4 1165.4 1287 1164.8 1285.6L1164.8 1285.6C1164.1 1287 1163.3 1291.4 1161.2 1293.7C1159.1 1296 1155.7 1297.2 1152.3 1299.1C1149 1300.9 1142 1302.4 1141.7 1304.4C1141.4 1306.3 1147.3 1308.2 1150.6 1310.4C1153.9 1312.6 1159 1315.5 1161.2 1317.5C1163.4 1319.5 1163.2 1316.8 1163.7 1322.1C1164.2 1327.4 1164 1344.2 1164 1348.7Z" fill="#FF6E6A" stroke="#333" stroke-width="2.5" stroke-linejoin="round"/>
<path d="M1221.9 1348.7C1221.4 1348.3 1219.3 1348.7 1218.7 1346.6C1218.2 1344.5 1218.2 1338.9 1218.7 1336.3C1219.3 1333.6 1219.6 1333.7 1221.9 1331C1224.3 1328.3 1229.5 1323.9 1232.6 1320.3C1235.6 1316.7 1239.3 1312.7 1239.6 1309.7C1239.9 1306.7 1237 1305 1234.3 1302.6C1231.6 1300.2 1226.3 1297.6 1223.7 1295.5C1221 1293.4 1219.9 1291.7 1218.7 1290.2C1217.5 1288.7 1217 1287.2 1216.6 1286.6L1216.6 1286.6C1216.2 1287.2 1215.7 1288.7 1214.5 1290.2C1213.3 1291.7 1212.2 1293.4 1209.5 1295.5C1206.9 1297.6 1201.6 1300.2 1198.9 1302.6C1196.2 1305 1193.2 1306.7 1193.5 1309.7C1193.8 1312.7 1197.6 1316.7 1200.6 1320.3C1203.7 1323.9 1208.9 1328.3 1211.3 1331C1213.6 1333.7 1213.9 1333.6 1214.5 1336.3C1215 1338.9 1215 1344.5 1214.5 1346.6C1213.9 1348.7 1211.8 1348.3 1211.3 1348.7Z" fill="#7033B0" stroke="#333" stroke-width="2.5" stroke-linejoin="round"/>
<path d="M1279.1 1348.7C1279.2 1348.1 1278.3 1347 1279.8 1345.2C1281.3 1343.3 1286 1341.1 1287.9 1338.1C1289.9 1335 1291.8 1330.7 1291.5 1327.4C1291.2 1324.1 1288.9 1321.3 1286.2 1318.6C1283.5 1315.8 1278.2 1313.6 1275.5 1311.5C1272.9 1309.4 1271.8 1309.6 1270.6 1306.1C1269.4 1302.7 1268.8 1293.8 1268.4 1291.3L1268.4 1291.3C1268.1 1293.8 1267.5 1302.7 1266.3 1306.1C1265.1 1309.6 1264 1309.4 1261.3 1311.5C1258.7 1313.6 1253.4 1315.8 1250.7 1318.6C1248 1321.3 1245.7 1324.1 1245.4 1327.4C1245.1 1330.7 1246.9 1335 1248.9 1338.1C1250.9 1341.1 1255.6 1343.3 1257.1 1345.2C1258.6 1347 1257.7 1348.1 1257.8 1348.7Z" fill="#5FB318" stroke="#333" stroke-width="2.5" stroke-linejoin="round"/>
<path d="M1343.3 1348.7C1341.2 1348.5 1333.3 1348.2 1330.9 1347.3C1328.5 1346.4 1330.1 1345.2 1329.1 1343.4C1328.2 1341.5 1326.8 1338.4 1325.6 1336.3C1324.4 1334.2 1323 1332.6 1322.1 1331C1321.2 1329.3 1320.6 1327.4 1320.3 1326.7L1320.3 1326.7C1320 1327.4 1319.4 1329.3 1318.5 1331C1317.6 1332.6 1316.2 1334.2 1315 1336.3C1313.8 1338.4 1312.3 1341.5 1311.4 1343.4C1310.5 1345.2 1312.1 1346.4 1309.6 1347.3C1307.2 1348.2 1299.3 1348.5 1297.2 1348.7Z" fill="#A65628" stroke="#333" stroke-width="2.5" stroke-linejoin="round"/>
<text x="738.4" y="1410.7" font-size="33" text-anchor="start" fill="#000">Aplnr</text>
<path d="M859 1428.4C858.8 1427.9 858.1 1426.8 857.9 1425.6C857.8 1424.4 856.3 1423.2 857.9 1421.3C859.6 1419.4 864.7 1417.5 867.9 1414.2C871.1 1410.9 876.4 1405.7 876.7 1401.8C877 1397.9 872.7 1394.5 869.6 1391.2C866.6 1387.9 861.4 1384.7 859 1382.3C856.6 1379.9 856.4 1380.3 855.5 1377C854.6 1373.7 854 1365.2 853.7 1362.8L853.7 1362.8C853.4 1365.2 852.8 1373.7 851.9 1377C851 1380.3 850.8 1379.9 848.4 1382.3C846 1384.7 840.7 1387.9 837.7 1391.2C834.7 1394.5 830.3 1397.9 830.6 1401.8C830.9 1405.7 836.3 1410.9 839.5 1414.2C842.7 1417.5 847.7 1419.4 849.4 1421.3C851.1 1423.2 849.6 1424.4 849.4 1425.6C849.3 1426.8 848.5 1427.9 848.4 1428.4Z" fill="#0068B5" stroke="#333" stroke-width="2.5" stroke-linejoin="round"/>
<path d="M913.3 1428.4C912.7 1427.9 910.3 1426.8 909.8 1425.6C909.2 1424.4 908.5 1423.2 910.1 1421.3C911.8 1419.4 916.6 1417.5 919.7 1414.2C922.9 1410.9 928.3 1405.7 928.6 1401.8C928.9 1397.9 924.5 1394.4 921.5 1391.2C918.5 1388 913.3 1385.2 910.9 1383C908.4 1380.8 908.2 1381.1 907.3 1378C906.4 1375 905.8 1367.4 905.5 1365.3L905.5 1365.3C905.2 1367.4 904.7 1375 903.8 1378C902.9 1381.1 902.6 1380.8 900.2 1383C897.8 1385.2 892.6 1388 889.6 1391.2C886.6 1394.4 882.2 1397.9 882.5 1401.8C882.8 1405.7 888.2 1410.9 891.3 1414.2C894.5 1417.5 899.2 1419.4 900.9 1421.3C902.6 1423.2 901.8 1424.4 901.3 1425.6C900.7 1426.8 898.3 1427.9 897.7 1428.4Z" fill="#FF7F00" stroke="#333" stroke-width="2.5" stroke-linejoin="round"/>
<path d="M962.7 1428.4C962.4 1427.9 961.1 1426.6 960.9 1425.6C960.7 1424.5 959.5 1423.9 961.6 1422C963.7 1420.1 970.1 1417.4 973.3 1414.2C976.5 1411.1 980.4 1406.9 980.4 1403.6C980.4 1400.3 976.3 1397.6 973.3 1394.7C970.3 1391.8 965.1 1388.7 962.7 1386.6C960.3 1384.4 960.1 1384.8 959.1 1382.3C958.2 1379.8 957.7 1373.5 957.4 1371.7L957.4 1371.7C957.1 1373.5 956.5 1379.8 955.6 1382.3C954.7 1384.8 954.5 1384.4 952.1 1386.6C949.6 1388.7 944.4 1391.8 941.4 1394.7C938.4 1397.6 934.3 1400.3 934.3 1403.6C934.3 1406.9 938.2 1411.1 941.4 1414.2C944.6 1417.4 951 1420.1 953.1 1422C955.2 1423.9 954 1424.5 953.8 1425.6C953.6 1426.6 952.4 1427.9 952.1 1428.4Z" fill="#B77FD4" stroke="#333" stroke-width="2.5" stroke-linejoin="round"/>
<path d="M1033.3 1428.4C1032.9 1427.5 1031.9 1425.2 1030.5 1423.1C1029.1 1421 1026.7 1419.6 1025.2 1416C1023.7 1412.4 1023 1407.2 1021.6 1401.8C1020.2 1396.4 1018.5 1390.1 1017 1384.1C1015.5 1378 1013.9 1370.9 1012.8 1366.3C1011.7 1361.8 1011.2 1359.4 1010.6 1357.5C1010 1355.5 1009.5 1355.4 1009.2 1355L1009.2 1355C1009 1355.4 1008.4 1355.5 1007.8 1357.5C1007.2 1359.4 1006.8 1361.8 1005.7 1366.3C1004.6 1370.9 1002.9 1378 1001.4 1384.1C999.9 1390.1 998.2 1396.4 996.8 1401.8C995.4 1407.2 994.8 1412.4 993.3 1416C991.8 1419.6 989.3 1421 987.9 1423.1C986.6 1425.2 985.6 1427.5 985.1 1428.4Z" fill="#008000" stroke="#333" stroke-width="2.5" stroke-linejoin="round"/>
<line x1="1037.1" y1="1428.4" x2="1085.1" y2="1428.4" stroke="#333" stroke-width="2.4" stroke-linecap="round"/>
<line x1="1088.9" y1="1428.4" x2="1136.9" y2="1428.4" stroke="#333" stroke-width="2.4" stroke-linecap="round"/>
<line x1="1112.9" y1="1428.4" x2="1112.9" y2="1400.7" stroke="#333" stroke-width="2.2" stroke-linecap="round"/>
<line x1="1140.8" y1="1428.4" x2="1188.8" y2="1428.4" stroke="#333" stroke-width="2.4" stroke-linecap="round"/>
<line x1="1164.8" y1="1428.4" x2="1164.8" y2="1391.2" stroke="#333" stroke-width="2.2" stroke-linecap="round"/>
<line x1="1192.6" y1="1428.4" x2="1240.6" y2="1428.4" stroke="#333" stroke-width="2.4" stroke-linecap="round"/>
<line x1="1216.6" y1="1428.4" x2="1216.6" y2="1401.8" stroke="#333" stroke-width="2.2" stroke-linecap="round"/>
<line x1="1244.4" y1="1428.4" x2="1292.4" y2="1428.4" stroke="#333" stroke-width="2.4" stroke-linecap="round"/>
<line x1="1268.4" y1="1428.4" x2="1268.4" y2="1408.9" stroke="#333" stroke-width="2.2" stroke-linecap="round"/>
<line x1="1296.3" y1="1428.4" x2="1344.3" y2="1428.4" stroke="#333" stroke-width="2.4" stroke-linecap="round"/>
<line x1="1320.3" y1="1428.4" x2="1320.3" y2="1420.2" stroke="#333" stroke-width="2.2" stroke-linecap="round"/>
<text x="738.4" y="1489.5" font-size="33" text-anchor="start" fill="#000">Dll4</text>
<line x1="829.7" y1="1507.2" x2="877.7" y2="1507.2" stroke="#333" stroke-width="2.4" stroke-linecap="round"/>
<line x1="853.7" y1="1507.2" x2="853.7" y2="1488.1" stroke="#333" stroke-width="2.2" stroke-linecap="round"/>
<line x1="881.5" y1="1507.2" x2="929.5" y2="1507.2" stroke="#333" stroke-width="2.4" stroke-linecap="round"/>
<line x1="905.5" y1="1507.2" x2="905.5" y2="1464.6" stroke="#333" stroke-width="2.2" stroke-linecap="round"/>
<line x1="933.4" y1="1507.2" x2="981.4" y2="1507.2" stroke="#333" stroke-width="2.4" stroke-linecap="round"/>
<line x1="957.4" y1="1507.2" x2="957.4" y2="1463.9" stroke="#333" stroke-width="2.2" stroke-linecap="round"/>
<path d="M1032.3 1507.2C1030.5 1506.5 1024.3 1505.2 1021.6 1502.9C1018.9 1500.7 1016.7 1497.1 1016.3 1494.1C1015.9 1491.1 1019.5 1488.1 1019.1 1485.2C1018.8 1482.3 1015.6 1479.3 1014.5 1477.1C1013.5 1474.8 1013.1 1473.8 1012.8 1471.7C1012.4 1469.7 1012.5 1466.1 1012.4 1465L1006 1465C1006 1466.1 1006 1469.7 1005.7 1471.7C1005.3 1473.8 1005 1474.8 1003.9 1477.1C1002.8 1479.3 999.6 1482.3 999.3 1485.2C999 1488.1 1002.5 1491.1 1002.1 1494.1C1001.7 1497.1 999.5 1500.7 996.8 1502.9C994.1 1505.2 988 1506.5 986.2 1507.2Z" fill="#008000" stroke="#333" stroke-width="2.5" stroke-linejoin="round"/>
<path d="M1073.5 1507.2C1073 1506.7 1071.2 1505.4 1070.6 1504.4C1070 1503.3 1068.5 1503.4 1069.9 1501.2C1071.3 1498.9 1076.4 1495.5 1078.8 1491.2C1081.2 1487 1084.4 1481.2 1084.1 1476.3C1083.8 1471.5 1079.7 1467 1077 1462.9C1074.3 1458.8 1070.5 1455.4 1068.2 1452.2C1065.8 1449.1 1064.4 1447.4 1063.2 1444.4C1062 1441.4 1061.4 1436.2 1061.1 1434.5L1061.1 1434.5C1060.7 1436.2 1060.1 1441.4 1058.9 1444.4C1057.7 1447.4 1056.3 1449.1 1054 1452.2C1051.6 1455.4 1047.8 1458.8 1045.1 1462.9C1042.4 1467 1038.3 1471.5 1038 1476.3C1037.7 1481.2 1040.9 1487 1043.3 1491.2C1045.7 1495.5 1050.8 1498.9 1052.2 1501.2C1053.6 1503.4 1052.1 1503.3 1051.5 1504.4C1050.9 1505.4 1049.1 1506.7 1048.7 1507.2Z" fill="#3BA3E3" stroke="#333" stroke-width="2.5" stroke-linejoin="round"/>
<path d="M1127.1 1507.2C1126.2 1506.7 1123 1505.4 1121.8 1504.4C1120.6 1503.3 1118.5 1503.1 1120 1501.2C1121.5 1499.2 1127.9 1496 1130.6 1493C1133.4 1490 1136.3 1486.8 1136 1483.4C1135.7 1480.1 1131.7 1476.7 1128.9 1473.5C1126 1470.3 1121.7 1467.2 1119.3 1464.6C1116.9 1462.1 1115.8 1462.8 1114.7 1458.6C1113.6 1454.4 1113.2 1443 1112.9 1439.8L1112.9 1439.8C1112.6 1443 1112.2 1454.4 1111.1 1458.6C1110 1462.8 1108.9 1462.1 1106.5 1464.6C1104.1 1467.2 1099.8 1470.3 1097 1473.5C1094.1 1476.7 1090.2 1480.1 1089.9 1483.4C1089.6 1486.8 1092.5 1490 1095.2 1493C1097.9 1496 1104.3 1499.2 1105.8 1501.2C1107.3 1503.1 1105.2 1503.3 1104 1504.4C1102.8 1505.4 1099.6 1506.7 1098.7 1507.2Z" fill="#C41212" stroke="#333" stroke-width="2.5" stroke-linejoin="round"/>
<path d="M1177.2 1507.2C1176.6 1506.7 1174.4 1505.4 1173.6 1504.4C1172.8 1503.3 1170.9 1503.1 1172.6 1501.2C1174.2 1499.2 1180.6 1496 1183.2 1493C1185.8 1490 1188.2 1486.8 1187.8 1483.4C1187.4 1480.1 1183.5 1476.4 1180.7 1473.5C1177.9 1470.6 1173.5 1468.3 1171.1 1466.4C1168.8 1464.5 1168 1465.1 1166.9 1462.2C1165.8 1459.2 1165.1 1451.3 1164.8 1449L1164.8 1449C1164.4 1451.3 1163.7 1459.2 1162.6 1462.2C1161.5 1465.1 1160.7 1464.5 1158.4 1466.4C1156 1468.3 1151.6 1470.6 1148.8 1473.5C1146 1476.4 1142.1 1480.1 1141.7 1483.4C1141.3 1486.8 1143.7 1490 1146.3 1493C1148.9 1496 1155.3 1499.2 1157 1501.2C1158.6 1503.1 1156.7 1503.3 1155.9 1504.4C1155.1 1505.4 1152.9 1506.7 1152.3 1507.2Z" fill="#FF6E6A" stroke="#333" stroke-width="2.5" stroke-linejoin="round"/>
<path d="M1239.6 1507.2C1238.1 1506.6 1233 1505.9 1230.8 1503.7C1228.5 1501.4 1227.6 1497.5 1226.5 1494.1C1225.4 1490.6 1225.5 1486.9 1224.4 1483.4C1223.3 1479.9 1221.2 1476.5 1220.1 1473.5C1219.1 1470.5 1218.6 1469.4 1218 1465.7C1217.4 1462 1216.8 1453.9 1216.6 1451.5L1216.6 1451.5C1216.4 1453.9 1215.8 1462 1215.2 1465.7C1214.6 1469.4 1214.1 1470.5 1213 1473.5C1212 1476.5 1209.9 1479.9 1208.8 1483.4C1207.7 1486.9 1207.8 1490.6 1206.7 1494.1C1205.6 1497.5 1204.6 1501.4 1202.4 1503.7C1200.2 1505.9 1195.1 1506.6 1193.5 1507.2Z" fill="#7033B0" stroke="#333" stroke-width="2.5" stroke-linejoin="round"/>
<line x1="1244.4" y1="1507.2" x2="1292.4" y2="1507.2" stroke="#333" stroke-width="2.4" stroke-linecap="round"/>
<line x1="1268.4" y1="1507.2" x2="1268.4" y2="1471" stroke="#333" stroke-width="2.2" stroke-linecap="round"/>
<line x1="1296.3" y1="1507.2" x2="1344.3" y2="1507.2" stroke="#333" stroke-width="2.4" stroke-linecap="round"/>
<line x1="1320.3" y1="1507.2" x2="1320.3" y2="1500.1" stroke="#333" stroke-width="2.2" stroke-linecap="round"/>
<text x="738.4" y="1572" font-size="33" text-anchor="start" fill="#000">Gja5</text>
<line x1="828.6" y1="1589.7" x2="876.6" y2="1589.7" stroke="#333" stroke-width="2.4" stroke-linecap="round"/>
<line x1="852.6" y1="1589.7" x2="852.6" y2="1568.1" stroke="#333" stroke-width="2.2" stroke-linecap="round"/>
<line x1="880.5" y1="1589.7" x2="928.5" y2="1589.7" stroke="#333" stroke-width="2.4" stroke-linecap="round"/>
<line x1="904.5" y1="1589.7" x2="904.5" y2="1571.6" stroke="#333" stroke-width="2.2" stroke-linecap="round"/>
<line x1="932.3" y1="1589.7" x2="980.3" y2="1589.7" stroke="#333" stroke-width="2.4" stroke-linecap="round"/>
<line x1="956.3" y1="1589.7" x2="956.3" y2="1583.3" stroke="#333" stroke-width="2.2" stroke-linecap="round"/>
<line x1="984.2" y1="1589.7" x2="1032.2" y2="1589.7" stroke="#333" stroke-width="2.4" stroke-linecap="round"/>
<line x1="1008.2" y1="1589.7" x2="1008.2" y2="1554.9" stroke="#333" stroke-width="2.2" stroke-linecap="round"/>
<path d="M1062.8 1589.7C1062.5 1589.1 1061.3 1588.4 1061.1 1586.2C1060.8 1583.9 1060.4 1579.2 1061.4 1576.2C1062.4 1573.2 1064.6 1571.6 1067.1 1568.4C1069.6 1565.3 1073.1 1561.3 1076 1557.8C1078.9 1554.3 1084.4 1550.6 1084.1 1547.9C1083.8 1545.1 1077.4 1543.8 1074.2 1541.8C1071 1539.9 1067.4 1538.2 1065.3 1536.5C1063.2 1534.8 1062.5 1535.2 1061.8 1531.9C1061 1528.6 1061.2 1519.5 1061.1 1517L1058.9 1517C1058.8 1519.5 1059 1528.6 1058.2 1531.9C1057.5 1535.2 1056.8 1534.8 1054.7 1536.5C1052.6 1538.2 1049 1539.9 1045.8 1541.8C1042.6 1543.8 1036.2 1545.1 1035.9 1547.9C1035.6 1550.6 1041.1 1554.3 1044 1557.8C1046.9 1561.3 1050.4 1565.3 1052.9 1568.4C1055.4 1571.6 1057.6 1573.2 1058.6 1576.2C1059.6 1579.2 1059.2 1583.9 1058.9 1586.2C1058.7 1588.4 1057.5 1589.1 1057.2 1589.7Z" fill="#3BA3E3" stroke="#333" stroke-width="2.5" stroke-linejoin="round"/>
<path d="M1115.4 1589.7C1115 1589.2 1113.6 1589.8 1113.3 1586.9C1113 1584 1112.7 1576.1 1113.6 1572.7C1114.6 1569.2 1116.3 1569.2 1118.9 1566.7C1121.5 1564.1 1126 1560.4 1128.9 1557.8C1131.8 1555.2 1136.1 1553.5 1136 1551.4C1135.8 1549.3 1131 1547.6 1127.8 1545.4C1124.6 1543.1 1119.9 1540.5 1117.2 1538.3C1114.5 1536.1 1112.7 1533.6 1111.8 1532.6L1111.8 1532.6C1110.9 1533.6 1109.2 1536.1 1106.5 1538.3C1103.8 1540.5 1099.1 1543.1 1095.9 1545.4C1092.7 1547.6 1087.9 1549.3 1087.7 1551.4C1087.5 1553.5 1091.9 1555.2 1094.8 1557.8C1097.7 1560.4 1102.2 1564.1 1104.8 1566.7C1107.3 1569.2 1109.1 1569.2 1110.1 1572.7C1111 1576.1 1110.7 1584 1110.4 1586.9C1110.1 1589.8 1108.7 1589.2 1108.3 1589.7Z" fill="#C41212" stroke="#333" stroke-width="2.5" stroke-linejoin="round"/>
<path d="M1165.5 1589.7C1165.5 1587.1 1164.6 1578.1 1165.5 1574.5C1166.4 1570.8 1168.2 1571 1170.8 1568.4C1173.4 1565.9 1177.8 1562.3 1180.7 1559.6C1183.6 1556.8 1188.2 1554.7 1187.8 1552.5C1187.4 1550.2 1181.8 1548.5 1178.6 1546.4C1175.3 1544.3 1171.2 1541.9 1168.7 1540.1C1166.1 1538.2 1164.5 1536.2 1163.7 1535.4L1163.7 1535.4C1162.8 1536.2 1161.3 1538.2 1158.7 1540.1C1156.2 1541.9 1152 1544.3 1148.8 1546.4C1145.5 1548.5 1139.9 1550.2 1139.6 1552.5C1139.2 1554.7 1143.8 1556.8 1146.7 1559.6C1149.6 1562.3 1154 1565.9 1156.6 1568.4C1159.2 1571 1161 1570.8 1161.9 1574.5C1162.8 1578.1 1161.9 1587.1 1161.9 1589.7Z" fill="#FF6E6A" stroke="#333" stroke-width="2.5" stroke-linejoin="round"/>
<path d="M1235 1589.7C1234.7 1589.1 1233.9 1587.8 1233.3 1586.2C1232.7 1584.5 1230.8 1582.5 1231.5 1579.8C1232.2 1577.1 1236.1 1572.9 1237.5 1570.2C1238.9 1567.5 1239.8 1565.8 1239.6 1563.8C1239.5 1561.8 1238.8 1560.7 1236.8 1558.5C1234.8 1556.3 1230.8 1553.1 1227.9 1550.7C1225 1548.3 1221.6 1546 1219.8 1544.3C1218 1542.6 1218 1543.2 1217.3 1540.8C1216.6 1538.4 1215.8 1531.9 1215.5 1530.1L1215.5 1530.1C1215.2 1531.9 1214.5 1538.4 1213.8 1540.8C1213 1543.2 1213.1 1542.6 1211.3 1544.3C1209.5 1546 1206 1548.3 1203.1 1550.7C1200.2 1553.1 1196.2 1556.3 1194.3 1558.5C1192.3 1560.7 1191.5 1561.8 1191.4 1563.8C1191.3 1565.8 1192.2 1567.5 1193.5 1570.2C1194.9 1572.9 1198.9 1577.1 1199.6 1579.8C1200.3 1582.5 1198.4 1584.5 1197.8 1586.2C1197.2 1587.8 1196.3 1589.1 1196 1589.7Z" fill="#7033B0" stroke="#333" stroke-width="2.5" stroke-linejoin="round"/>
<line x1="1243.4" y1="1589.7" x2="1291.4" y2="1589.7" stroke="#333" stroke-width="2.4" stroke-linecap="round"/>
<line x1="1267.4" y1="1589.7" x2="1267.4" y2="1544.3" stroke="#333" stroke-width="2.2" stroke-linecap="round"/>
<line x1="1295.2" y1="1589.7" x2="1343.2" y2="1589.7" stroke="#333" stroke-width="2.4" stroke-linecap="round"/>
<line x1="1319.2" y1="1589.7" x2="1319.2" y2="1580.8" stroke="#333" stroke-width="2.2" stroke-linecap="round"/>
<text x="738.4" y="1651.8" font-size="33" text-anchor="start" fill="#000">Cd44</text>
<line x1="827.6" y1="1669.5" x2="875.6" y2="1669.5" stroke="#333" stroke-width="2.4" stroke-linecap="round"/>
<line x1="851.6" y1="1669.5" x2="851.6" y2="1635.5" stroke="#333" stroke-width="2.2" stroke-linecap="round"/>
<line x1="879.4" y1="1669.5" x2="927.4" y2="1669.5" stroke="#333" stroke-width="2.4" stroke-linecap="round"/>
<line x1="903.4" y1="1669.5" x2="903.4" y2="1650" stroke="#333" stroke-width="2.2" stroke-linecap="round"/>
<line x1="931.2" y1="1669.5" x2="979.2" y2="1669.5" stroke="#333" stroke-width="2.4" stroke-linecap="round"/>
<line x1="955.2" y1="1669.5" x2="955.2" y2="1648.9" stroke="#333" stroke-width="2.2" stroke-linecap="round"/>
<line x1="983.1" y1="1669.5" x2="1031.1" y2="1669.5" stroke="#333" stroke-width="2.4" stroke-linecap="round"/>
<line x1="1007.1" y1="1669.5" x2="1007.1" y2="1628.4" stroke="#333" stroke-width="2.2" stroke-linecap="round"/>
<path d="M1083 1669.5C1081.1 1668.9 1074.1 1667.3 1071.3 1666C1068.6 1664.6 1067.2 1663.5 1066.7 1661.3C1066.3 1659.2 1068.3 1656.3 1068.9 1653.5C1069.5 1650.8 1070.5 1648.1 1070.3 1645.4C1070.1 1642.7 1069 1640.7 1067.8 1637.6C1066.6 1634.5 1064.4 1630.4 1063.2 1626.9C1062 1623.5 1061.3 1619.3 1060.7 1617C1060.2 1614.7 1060.1 1614.1 1060 1613.5L1057.9 1613.5C1057.8 1614.1 1057.7 1614.7 1057.2 1617C1056.6 1619.3 1055.9 1623.5 1054.7 1626.9C1053.5 1630.4 1051.3 1634.5 1050.1 1637.6C1048.9 1640.7 1047.8 1642.7 1047.6 1645.4C1047.4 1648.1 1048.4 1650.8 1049 1653.5C1049.6 1656.3 1051.6 1659.2 1051.1 1661.3C1050.7 1663.5 1049.3 1664.6 1046.5 1666C1043.8 1667.3 1036.8 1668.9 1034.8 1669.5Z" fill="#3BA3E3" stroke="#333" stroke-width="2.5" stroke-linejoin="round"/>
<path d="M1134.9 1669.5C1133.2 1668.9 1127.6 1667.3 1125 1666C1122.4 1664.6 1119 1663.5 1119.6 1661.3C1120.2 1659.2 1126.4 1656.3 1128.5 1653.5C1130.6 1650.8 1132.4 1648.4 1132.1 1645.4C1131.8 1642.4 1129.3 1638.8 1126.7 1635.8C1124.2 1632.8 1119.6 1629.9 1117.2 1627.7C1114.8 1625.4 1113.6 1625.5 1112.6 1622.3C1111.5 1619.2 1111.1 1611.4 1110.8 1609.2L1110.8 1609.2C1110.5 1611.4 1110.1 1619.2 1109 1622.3C1107.9 1625.5 1106.8 1625.4 1104.4 1627.7C1102 1629.9 1097.4 1632.8 1094.8 1635.8C1092.3 1638.8 1089.8 1642.4 1089.5 1645.4C1089.2 1648.4 1090.9 1650.8 1093 1653.5C1095.2 1656.3 1101.3 1659.2 1101.9 1661.3C1102.5 1663.5 1099.2 1664.6 1096.6 1666C1094 1667.3 1088.4 1668.9 1086.7 1669.5Z" fill="#C41212" stroke="#333" stroke-width="2.5" stroke-linejoin="round"/>
<path d="M1178.6 1669.5C1177.8 1669 1175 1667.6 1174 1666.7C1172.9 1665.7 1171.2 1665.5 1172.6 1663.8C1173.9 1662.2 1179.9 1659.3 1182.1 1657.1C1184.4 1654.9 1186 1653.1 1185.7 1650.7C1185.4 1648.3 1182.8 1645.7 1180.4 1642.9C1177.9 1640.1 1173.9 1636.6 1171.5 1634C1169.1 1631.4 1167.7 1629.5 1166.2 1627.7C1164.7 1625.8 1163.2 1624.1 1162.6 1623.4L1162.6 1623.4C1162 1624.1 1160.6 1625.8 1159.1 1627.7C1157.6 1629.5 1156.2 1631.4 1153.8 1634C1151.3 1636.6 1147.3 1640.1 1144.9 1642.9C1142.5 1645.7 1139.9 1648.3 1139.6 1650.7C1139.3 1653.1 1140.9 1654.9 1143.1 1657.1C1145.4 1659.3 1151.3 1662.2 1152.7 1663.8C1154.1 1665.5 1152.3 1665.7 1151.3 1666.7C1150.3 1667.6 1147.5 1669 1146.7 1669.5Z" fill="#FF6E6A" stroke="#333" stroke-width="2.5" stroke-linejoin="round"/>
<path d="M1238.6 1669.5C1237.2 1668.9 1232.7 1667.3 1230.4 1666C1228.1 1664.6 1224.5 1663.6 1225.1 1661.3C1225.7 1659.1 1231.7 1655.5 1234 1652.5C1236.3 1649.5 1238.9 1646.7 1238.6 1643.6C1238.3 1640.5 1235 1637.2 1232.2 1634C1229.4 1630.9 1225 1628.1 1222.3 1625.2C1219.6 1622.3 1217.6 1621.9 1216.2 1617C1214.9 1612.1 1214.8 1599.9 1214.5 1596.5L1214.5 1596.5C1214.2 1599.9 1214 1612.1 1212.7 1617C1211.4 1621.9 1209.4 1622.3 1206.7 1625.2C1204 1628.1 1199.5 1630.9 1196.7 1634C1194 1637.2 1190.7 1640.5 1190.4 1643.6C1190.1 1646.7 1192.7 1649.5 1195 1652.5C1197.3 1655.5 1203.2 1659.1 1203.8 1661.3C1204.4 1663.6 1200.8 1664.6 1198.5 1666C1196.2 1667.3 1191.7 1668.9 1190.4 1669.5Z" fill="#7033B0" stroke="#333" stroke-width="2.5" stroke-linejoin="round"/>
<path d="M1277 1669.5C1276.6 1669 1275.3 1667.6 1274.8 1666.7C1274.3 1665.7 1272.5 1665.8 1274.1 1663.8C1275.7 1661.9 1281.5 1658.3 1284 1655.3C1286.6 1652.3 1289.8 1649.1 1289.4 1646.1C1288.9 1643.1 1284.2 1640.4 1281.2 1637.6C1278.2 1634.8 1273.9 1632.1 1271.6 1629.8C1269.4 1627.5 1269 1626.6 1268.1 1624.1C1267.2 1621.6 1266.6 1616.8 1266.3 1615.2L1266.3 1615.2C1266 1616.8 1265.4 1621.6 1264.5 1624.1C1263.6 1626.6 1263.2 1627.5 1261 1629.8C1258.8 1632.1 1254.4 1634.8 1251.4 1637.6C1248.4 1640.4 1243.7 1643.1 1243.3 1646.1C1242.8 1649.1 1246 1652.3 1248.6 1655.3C1251.2 1658.3 1256.9 1661.9 1258.5 1663.8C1260.1 1665.8 1258.3 1665.7 1257.8 1666.7C1257.3 1667.6 1256 1669 1255.7 1669.5Z" fill="#5FB318" stroke="#333" stroke-width="2.5" stroke-linejoin="round"/>
<path d="M1327 1669.5C1327 1669 1325.5 1668.5 1327 1666.7C1328.5 1664.9 1333.3 1662 1335.9 1658.9C1338.5 1655.7 1342.6 1651.4 1342.3 1648.2C1342 1645.1 1337.3 1642.8 1334.1 1640.4C1330.9 1638 1325.9 1635.9 1323.5 1634C1321.1 1632.2 1320.8 1631.8 1319.9 1629.4C1319 1627 1318.5 1621.5 1318.2 1619.9L1318.2 1619.9C1317.9 1621.5 1317.3 1627 1316.4 1629.4C1315.5 1631.8 1315.2 1632.2 1312.8 1634C1310.4 1635.9 1305.4 1638 1302.2 1640.4C1299 1642.8 1294.3 1645.1 1294 1648.2C1293.7 1651.4 1297.8 1655.7 1300.4 1658.9C1303 1662 1307.8 1664.9 1309.3 1666.7C1310.8 1668.5 1309.3 1669 1309.3 1669.5Z" fill="#A65628" stroke="#333" stroke-width="2.5" stroke-linejoin="round"/>
<text x="738.4" y="1730.5" font-size="33" text-anchor="start" fill="#000">Runx1</text>
<line x1="827.6" y1="1748.2" x2="875.6" y2="1748.2" stroke="#333" stroke-width="2.4" stroke-linecap="round"/>
<line x1="851.6" y1="1748.2" x2="851.6" y2="1730.5" stroke="#333" stroke-width="2.2" stroke-linecap="round"/>
<line x1="879.4" y1="1748.2" x2="927.4" y2="1748.2" stroke="#333" stroke-width="2.4" stroke-linecap="round"/>
<line x1="903.4" y1="1748.2" x2="903.4" y2="1717" stroke="#333" stroke-width="2.2" stroke-linecap="round"/>
<line x1="931.2" y1="1748.2" x2="979.2" y2="1748.2" stroke="#333" stroke-width="2.4" stroke-linecap="round"/>
<line x1="955.2" y1="1748.2" x2="955.2" y2="1730.5" stroke="#333" stroke-width="2.2" stroke-linecap="round"/>
<line x1="983.1" y1="1748.2" x2="1031.1" y2="1748.2" stroke="#333" stroke-width="2.4" stroke-linecap="round"/>
<line x1="1007.1" y1="1748.2" x2="1007.1" y2="1724.1" stroke="#333" stroke-width="2.2" stroke-linecap="round"/>
<line x1="1034.9" y1="1748.2" x2="1082.9" y2="1748.2" stroke="#333" stroke-width="2.4" stroke-linecap="round"/>
<line x1="1058.9" y1="1748.2" x2="1058.9" y2="1716.3" stroke="#333" stroke-width="2.2" stroke-linecap="round"/>
<line x1="1086.8" y1="1748.2" x2="1134.8" y2="1748.2" stroke="#333" stroke-width="2.4" stroke-linecap="round"/>
<line x1="1110.8" y1="1748.2" x2="1110.8" y2="1702.1" stroke="#333" stroke-width="2.2" stroke-linecap="round"/>
<line x1="1138.6" y1="1748.2" x2="1186.6" y2="1748.2" stroke="#333" stroke-width="2.4" stroke-linecap="round"/>
<line x1="1162.6" y1="1748.2" x2="1162.6" y2="1718.8" stroke="#333" stroke-width="2.2" stroke-linecap="round"/>
<path d="M1238.6 1748.2C1237.2 1747.5 1232.8 1745.8 1230.4 1743.9C1228 1742.1 1225.6 1739.6 1224.4 1737.6C1223.2 1735.6 1222.5 1735 1223.3 1732.2C1224.2 1729.5 1227.7 1725.2 1229.4 1721.6C1231 1718 1233 1714.6 1232.9 1711C1232.8 1707.3 1230.6 1703.6 1228.7 1700.3C1226.7 1697 1223.5 1693.9 1221.6 1691.5C1219.6 1689.1 1218.5 1687.3 1217.3 1686.1C1216.1 1684.9 1215 1684.7 1214.5 1684.4L1214.5 1684.4C1214 1684.7 1212.8 1684.9 1211.6 1686.1C1210.4 1687.3 1209.3 1689.1 1207.4 1691.5C1205.4 1693.9 1202.2 1697 1200.3 1700.3C1198.4 1703.6 1196.1 1707.3 1196 1711C1195.9 1714.6 1197.9 1718 1199.6 1721.6C1201.2 1725.2 1204.8 1729.5 1205.6 1732.2C1206.4 1735 1205.7 1735.6 1204.5 1737.6C1203.3 1739.6 1200.9 1742.1 1198.5 1743.9C1196.1 1745.8 1191.7 1747.5 1190.4 1748.2Z" fill="#7033B0" stroke="#333" stroke-width="2.5" stroke-linejoin="round"/>
<path d="M1269.1 1748.2C1269.1 1747 1268.1 1743.5 1269.1 1741.1C1270.2 1738.7 1272.6 1737 1275.2 1734C1277.7 1731 1281.6 1727 1284 1723.4C1286.5 1719.8 1289.7 1716.1 1289.4 1712.7C1289.1 1709.4 1285.1 1706.6 1282.3 1703.9C1279.4 1701.2 1275 1698.9 1272.7 1696.8C1270.3 1694.7 1269.5 1695.1 1268.4 1691.5C1267.4 1687.8 1266.7 1678.2 1266.3 1675.5L1266.3 1675.5C1266 1678.2 1265.3 1687.8 1264.2 1691.5C1263.1 1695.1 1262.3 1694.7 1259.9 1696.8C1257.6 1698.9 1253.2 1701.2 1250.4 1703.9C1247.5 1706.6 1243.6 1709.4 1243.3 1712.7C1243 1716.1 1246.2 1719.8 1248.6 1723.4C1251 1727 1254.9 1731 1257.4 1734C1260 1737 1262.5 1738.7 1263.5 1741.1C1264.5 1743.5 1263.5 1747 1263.5 1748.2Z" fill="#5FB318" stroke="#333" stroke-width="2.5" stroke-linejoin="round"/>
<path d="M1320.3 1748.2C1320.3 1747 1319.1 1743.5 1320.3 1741.1C1321.4 1738.7 1324.2 1736.9 1327 1734C1329.8 1731.1 1334 1727.4 1336.6 1724.1C1339.2 1720.8 1342.4 1717.3 1342.3 1714.5C1342.1 1711.7 1338.8 1709.5 1335.9 1707.4C1333 1705.3 1327.9 1703.6 1325.2 1702.1C1322.6 1700.6 1321.5 1700.7 1320.3 1698.6C1319.1 1696.4 1318.5 1691.2 1318.2 1689.7L1318.2 1689.7C1317.8 1691.2 1317.2 1696.4 1316 1698.6C1314.8 1700.7 1313.7 1700.6 1311.1 1702.1C1308.4 1703.6 1303.3 1705.3 1300.4 1707.4C1297.5 1709.5 1294.2 1711.7 1294 1714.5C1293.9 1717.3 1297.1 1720.8 1299.7 1724.1C1302.3 1727.4 1306.5 1731.1 1309.3 1734C1312.1 1736.9 1314.9 1738.7 1316 1741.1C1317.2 1743.5 1316 1747 1316 1748.2Z" fill="#A65628" stroke="#333" stroke-width="2.5" stroke-linejoin="round"/>
<text x="738.4" y="1812" font-size="33" text-anchor="start" fill="#000">Hlf</text>
<line x1="829.7" y1="1829.7" x2="877.7" y2="1829.7" stroke="#333" stroke-width="2.4" stroke-linecap="round"/>
<line x1="853.7" y1="1829.7" x2="853.7" y2="1793.9" stroke="#333" stroke-width="2.2" stroke-linecap="round"/>
<line x1="881.5" y1="1829.7" x2="929.5" y2="1829.7" stroke="#333" stroke-width="2.4" stroke-linecap="round"/>
<line x1="905.5" y1="1829.7" x2="905.5" y2="1802.7" stroke="#333" stroke-width="2.2" stroke-linecap="round"/>
<line x1="933.4" y1="1829.7" x2="981.4" y2="1829.7" stroke="#333" stroke-width="2.4" stroke-linecap="round"/>
<line x1="957.4" y1="1829.7" x2="957.4" y2="1818" stroke="#333" stroke-width="2.2" stroke-linecap="round"/>
<line x1="985.2" y1="1829.7" x2="1033.2" y2="1829.7" stroke="#333" stroke-width="2.4" stroke-linecap="round"/>
<line x1="1009.2" y1="1829.7" x2="1009.2" y2="1823.3" stroke="#333" stroke-width="2.2" stroke-linecap="round"/>
<line x1="1037.1" y1="1829.7" x2="1085.1" y2="1829.7" stroke="#333" stroke-width="2.4" stroke-linecap="round"/>
<line x1="1061.1" y1="1829.7" x2="1061.1" y2="1812" stroke="#333" stroke-width="2.2" stroke-linecap="round"/>
<line x1="1088.9" y1="1829.7" x2="1136.9" y2="1829.7" stroke="#333" stroke-width="2.4" stroke-linecap="round"/>
<line x1="1112.9" y1="1829.7" x2="1112.9" y2="1777.2" stroke="#333" stroke-width="2.2" stroke-linecap="round"/>
<line x1="1140.8" y1="1829.7" x2="1188.8" y2="1829.7" stroke="#333" stroke-width="2.4" stroke-linecap="round"/>
<line x1="1164.8" y1="1829.7" x2="1164.8" y2="1808.4" stroke="#333" stroke-width="2.2" stroke-linecap="round"/>
<path d="M1240.7 1829.7C1238.7 1829.1 1232 1827.7 1229 1826.2C1226 1824.6 1224.2 1822.5 1223 1820.8C1221.8 1819.1 1221.7 1818.8 1221.9 1816.2C1222.2 1813.6 1224.4 1809.5 1224.4 1805.6C1224.4 1801.7 1222.8 1796.6 1221.9 1793.2C1221.1 1789.7 1220.2 1787.8 1219.4 1785.4C1218.7 1783 1218.1 1784 1217.7 1779C1217.2 1774 1216.8 1759.9 1216.6 1755.9L1216.6 1755.9C1216.4 1759.9 1216 1774 1215.5 1779C1215 1784 1214.5 1783 1213.8 1785.4C1213 1787.8 1212.1 1789.7 1211.3 1793.2C1210.4 1796.6 1208.8 1801.7 1208.8 1805.6C1208.8 1809.5 1211 1813.6 1211.3 1816.2C1211.5 1818.8 1211.4 1819.1 1210.2 1820.8C1209 1822.5 1207.2 1824.6 1204.2 1826.2C1201.2 1827.7 1194.5 1829.1 1192.5 1829.7Z" fill="#7033B0" stroke="#333" stroke-width="2.5" stroke-linejoin="round"/>
<path d="M1287.9 1829.7C1287.5 1828.9 1285.2 1827.4 1285.5 1825.1C1285.8 1822.8 1288.5 1820.1 1289.7 1816.2C1290.9 1812.3 1292.4 1805.8 1292.6 1802C1292.7 1798.3 1291.5 1796.7 1290.4 1794.2C1289.3 1791.8 1288.7 1790.3 1286.2 1787.9C1283.6 1785.4 1278.2 1782.5 1275.5 1780.1C1272.9 1777.6 1271.8 1777 1270.6 1773.7C1269.4 1770.4 1268.8 1762.8 1268.4 1760.6L1268.4 1760.6C1268.1 1762.8 1267.5 1770.4 1266.3 1773.7C1265.1 1777 1264 1777.6 1261.3 1780.1C1258.7 1782.5 1253.2 1785.4 1250.7 1787.9C1248.2 1790.3 1247.5 1791.8 1246.5 1794.2C1245.4 1796.7 1244.2 1798.3 1244.3 1802C1244.4 1805.8 1246 1812.3 1247.2 1816.2C1248.4 1820.1 1251.1 1822.8 1251.4 1825.1C1251.7 1827.4 1249.4 1828.9 1248.9 1829.7Z" fill="#5FB318" stroke="#333" stroke-width="2.5" stroke-linejoin="round"/>
<path d="M1341.6 1829.7C1341.3 1829 1340.1 1827.1 1339.8 1825.4C1339.5 1823.8 1339 1822.5 1339.8 1819.8C1340.6 1817 1344.7 1812.9 1344.4 1809.1C1344.1 1805.4 1340 1801.7 1338 1797.8C1336 1793.9 1334.6 1789.7 1332.7 1786.1C1330.8 1782.5 1328.2 1779.2 1326.7 1776.5C1325.2 1773.8 1324.9 1772.1 1323.8 1770.1C1322.7 1768.1 1320.9 1765.7 1320.3 1764.8L1320.3 1764.8C1319.7 1765.7 1317.8 1768.1 1316.7 1770.1C1315.7 1772.1 1315.4 1773.8 1313.9 1776.5C1312.4 1779.2 1309.8 1782.5 1307.9 1786.1C1305.9 1789.7 1304.5 1793.9 1302.6 1797.8C1300.6 1801.7 1296.5 1805.4 1296.2 1809.1C1295.9 1812.9 1300 1817 1300.8 1819.8C1301.6 1822.5 1301.1 1823.8 1300.8 1825.4C1300.5 1827.1 1299.3 1829 1299 1829.7Z" fill="#A65628" stroke="#333" stroke-width="2.5" stroke-linejoin="round"/>
<text x="738.4" y="1893.2" font-size="33" text-anchor="start" fill="#000">Gfi1</text>
<line x1="827.6" y1="1910.9" x2="875.6" y2="1910.9" stroke="#333" stroke-width="2.4" stroke-linecap="round"/>
<line x1="879.4" y1="1910.9" x2="927.4" y2="1910.9" stroke="#333" stroke-width="2.4" stroke-linecap="round"/>
<line x1="931.2" y1="1910.9" x2="979.2" y2="1910.9" stroke="#333" stroke-width="2.4" stroke-linecap="round"/>
<line x1="955.2" y1="1910.9" x2="955.2" y2="1900.3" stroke="#333" stroke-width="2.2" stroke-linecap="round"/>
<line x1="983.1" y1="1910.9" x2="1031.1" y2="1910.9" stroke="#333" stroke-width="2.4" stroke-linecap="round"/>
<line x1="1034.9" y1="1910.9" x2="1082.9" y2="1910.9" stroke="#333" stroke-width="2.4" stroke-linecap="round"/>
<line x1="1086.8" y1="1910.9" x2="1134.8" y2="1910.9" stroke="#333" stroke-width="2.4" stroke-linecap="round"/>
<line x1="1110.8" y1="1910.9" x2="1110.8" y2="1877.6" stroke="#333" stroke-width="2.2" stroke-linecap="round"/>
<line x1="1138.6" y1="1910.9" x2="1186.6" y2="1910.9" stroke="#333" stroke-width="2.4" stroke-linecap="round"/>
<line x1="1162.6" y1="1910.9" x2="1162.6" y2="1874" stroke="#333" stroke-width="2.2" stroke-linecap="round"/>
<path d="M1238.6 1910.9C1236.6 1910.3 1229.9 1908.9 1226.9 1907.4C1223.9 1905.8 1222.1 1904 1220.9 1902C1219.6 1900.1 1219.5 1899.4 1219.8 1896C1220 1892.6 1222.5 1886.2 1222.3 1881.8C1222.1 1877.4 1219.8 1873.7 1218.7 1870.1C1217.6 1866.5 1216.6 1866.1 1215.9 1860.5C1215.2 1855 1214.7 1841.4 1214.5 1837.5L1214.5 1837.5C1214.2 1841.4 1213.8 1855 1213 1860.5C1212.3 1866.1 1211.3 1866.5 1210.2 1870.1C1209.1 1873.7 1206.8 1877.4 1206.7 1881.8C1206.5 1886.2 1208.9 1892.6 1209.1 1896C1209.4 1899.4 1209.3 1900.1 1208.1 1902C1206.9 1904 1205.1 1905.8 1202.1 1907.4C1199 1908.9 1192.3 1910.3 1190.4 1910.9Z" fill="#7033B0" stroke="#333" stroke-width="2.5" stroke-linejoin="round"/>
<path d="M1290.4 1910.9C1288.7 1910.3 1282.9 1908.9 1280.5 1907.4C1278.1 1905.8 1277 1904 1276.2 1902C1275.5 1900.1 1276.1 1898.2 1276.2 1896C1276.4 1893.8 1277.7 1893.1 1277 1888.9C1276.2 1884.7 1273.1 1875.9 1271.6 1871.2C1270.2 1866.5 1269.2 1863.7 1268.4 1861.3C1267.7 1858.8 1267.7 1859.7 1267.4 1857C1267 1854.3 1266.5 1847.3 1266.3 1845.3L1266.3 1845.3C1266.1 1847.3 1265.6 1854.3 1265.2 1857C1264.9 1859.7 1264.9 1858.8 1264.2 1861.3C1263.5 1863.7 1262.4 1866.5 1261 1871.2C1259.5 1875.9 1256.5 1884.7 1255.7 1888.9C1254.9 1893.1 1256.3 1893.8 1256.4 1896C1256.5 1898.2 1257.1 1900.1 1256.4 1902C1255.7 1904 1254.5 1905.8 1252.1 1907.4C1249.7 1908.9 1243.9 1910.3 1242.2 1910.9Z" fill="#5FB318" stroke="#333" stroke-width="2.5" stroke-linejoin="round"/>
<line x1="1294.2" y1="1910.9" x2="1342.2" y2="1910.9" stroke="#333" stroke-width="2.4" stroke-linecap="round"/>
<line x1="1318.2" y1="1910.9" x2="1318.2" y2="1859.8" stroke="#333" stroke-width="2.2" stroke-linecap="round"/>
<text x="738.4" y="1971.6" font-size="33" text-anchor="start" fill="#000">Spn</text>
<line x1="827.6" y1="1989.3" x2="875.6" y2="1989.3" stroke="#333" stroke-width="2.4" stroke-linecap="round"/>
<line x1="879.4" y1="1989.3" x2="927.4" y2="1989.3" stroke="#333" stroke-width="2.4" stroke-linecap="round"/>
<line x1="903.4" y1="1989.3" x2="903.4" y2="1981.1" stroke="#333" stroke-width="2.2" stroke-linecap="round"/>
<line x1="931.2" y1="1989.3" x2="979.2" y2="1989.3" stroke="#333" stroke-width="2.4" stroke-linecap="round"/>
<line x1="955.2" y1="1989.3" x2="955.2" y2="1975.8" stroke="#333" stroke-width="2.2" stroke-linecap="round"/>
<line x1="983.1" y1="1989.3" x2="1031.1" y2="1989.3" stroke="#333" stroke-width="2.4" stroke-linecap="round"/>
<line x1="1034.9" y1="1989.3" x2="1082.9" y2="1989.3" stroke="#333" stroke-width="2.4" stroke-linecap="round"/>
<line x1="1058.9" y1="1989.3" x2="1058.9" y2="1950.3" stroke="#333" stroke-width="2.2" stroke-linecap="round"/>
<line x1="1086.8" y1="1989.3" x2="1134.8" y2="1989.3" stroke="#333" stroke-width="2.4" stroke-linecap="round"/>
<line x1="1110.8" y1="1989.3" x2="1110.8" y2="1952.1" stroke="#333" stroke-width="2.2" stroke-linecap="round"/>
<line x1="1138.6" y1="1989.3" x2="1186.6" y2="1989.3" stroke="#333" stroke-width="2.4" stroke-linecap="round"/>
<line x1="1162.6" y1="1989.3" x2="1162.6" y2="1955.3" stroke="#333" stroke-width="2.2" stroke-linecap="round"/>
<line x1="1190.5" y1="1989.3" x2="1238.5" y2="1989.3" stroke="#333" stroke-width="2.4" stroke-linecap="round"/>
<line x1="1214.5" y1="1989.3" x2="1214.5" y2="1960.6" stroke="#333" stroke-width="2.2" stroke-linecap="round"/>
<path d="M1290.4 1989.3C1288.4 1988.8 1281.6 1987.8 1278.7 1986.5C1275.8 1985.1 1274 1983.6 1273.4 1981.1C1272.8 1978.7 1275.7 1975.1 1275.2 1972.3C1274.7 1969.4 1271.8 1966.6 1270.6 1964.5C1269.3 1962.4 1268.5 1968.1 1267.7 1959.9C1267 1951.7 1266.6 1923.7 1266.3 1916.3L1266.3 1916.3C1266.1 1923.7 1265.6 1951.7 1264.9 1959.9C1264.2 1968.1 1263.3 1962.4 1262.1 1964.5C1260.8 1966.6 1257.9 1969.4 1257.4 1972.3C1257 1975.1 1259.8 1978.7 1259.2 1981.1C1258.6 1983.6 1256.8 1985.1 1253.9 1986.5C1251 1987.8 1244.2 1988.8 1242.2 1989.3Z" fill="#5FB318" stroke="#333" stroke-width="2.5" stroke-linejoin="round"/>
<path d="M1342.3 1989.3C1340.6 1988.8 1334.6 1987.8 1332.3 1986.5C1330 1985.1 1328.8 1983 1328.8 1981.1C1328.8 1979.3 1332.6 1977.6 1332.3 1975.8C1332 1974 1329.1 1972.6 1327 1970.5C1325 1968.4 1321.8 1965.8 1320.3 1963.4C1318.8 1961 1318.5 1957.5 1318.2 1956.3L1318.2 1956.3C1317.8 1957.5 1317.5 1961 1316 1963.4C1314.5 1965.8 1311.3 1968.4 1309.3 1970.5C1307.2 1972.6 1304.3 1974 1304 1975.8C1303.7 1977.6 1307.5 1979.3 1307.5 1981.1C1307.5 1983 1306.3 1985.1 1304 1986.5C1301.7 1987.8 1295.7 1988.8 1294 1989.3Z" fill="#A65628" stroke="#333" stroke-width="2.5" stroke-linejoin="round"/>
<text x="738.4" y="2052.7" font-size="33" text-anchor="start" fill="#000">Itga2b</text>
<line x1="825.8" y1="2070.4" x2="873.8" y2="2070.4" stroke="#333" stroke-width="2.4" stroke-linecap="round"/>
<line x1="849.8" y1="2070.4" x2="849.8" y2="2045.6" stroke="#333" stroke-width="2.2" stroke-linecap="round"/>
<line x1="877.6" y1="2070.4" x2="925.6" y2="2070.4" stroke="#333" stroke-width="2.4" stroke-linecap="round"/>
<line x1="901.6" y1="2070.4" x2="901.6" y2="2046.3" stroke="#333" stroke-width="2.2" stroke-linecap="round"/>
<line x1="929.5" y1="2070.4" x2="977.5" y2="2070.4" stroke="#333" stroke-width="2.4" stroke-linecap="round"/>
<line x1="953.5" y1="2070.4" x2="953.5" y2="2044.9" stroke="#333" stroke-width="2.2" stroke-linecap="round"/>
<line x1="981.3" y1="2070.4" x2="1029.3" y2="2070.4" stroke="#333" stroke-width="2.4" stroke-linecap="round"/>
<line x1="1005.3" y1="2070.4" x2="1005.3" y2="2033.9" stroke="#333" stroke-width="2.2" stroke-linecap="round"/>
<line x1="1033.2" y1="2070.4" x2="1081.2" y2="2070.4" stroke="#333" stroke-width="2.4" stroke-linecap="round"/>
<line x1="1057.2" y1="2070.4" x2="1057.2" y2="2017.2" stroke="#333" stroke-width="2.2" stroke-linecap="round"/>
<line x1="1085" y1="2070.4" x2="1133" y2="2070.4" stroke="#333" stroke-width="2.4" stroke-linecap="round"/>
<line x1="1109" y1="2070.4" x2="1109" y2="2037.4" stroke="#333" stroke-width="2.2" stroke-linecap="round"/>
<line x1="1136.9" y1="2070.4" x2="1184.9" y2="2070.4" stroke="#333" stroke-width="2.4" stroke-linecap="round"/>
<line x1="1160.9" y1="2070.4" x2="1160.9" y2="2019.7" stroke="#333" stroke-width="2.2" stroke-linecap="round"/>
<line x1="1188.7" y1="2070.4" x2="1236.7" y2="2070.4" stroke="#333" stroke-width="2.4" stroke-linecap="round"/>
<line x1="1212.7" y1="2070.4" x2="1212.7" y2="1997" stroke="#333" stroke-width="2.2" stroke-linecap="round"/>
<path d="M1288.7 2070.4C1286.7 2069.9 1280 2068.8 1277 2067.6C1273.9 2066.4 1271.5 2065.2 1270.9 2063.3C1270.3 2061.4 1273.9 2059.5 1273.4 2056.2C1272.9 2052.9 1269.4 2047.7 1268.1 2043.8C1266.8 2039.9 1266.6 2040.7 1266 2033.2C1265.4 2025.6 1264.8 2005.2 1264.5 1999.5L1264.5 1999.5C1264.3 2005.2 1263.7 2025.6 1263.1 2033.2C1262.5 2040.7 1262.3 2039.9 1261 2043.8C1259.7 2047.7 1256.2 2052.9 1255.7 2056.2C1255.2 2059.5 1258.8 2061.4 1258.2 2063.3C1257.6 2065.2 1255.1 2066.4 1252.1 2067.6C1249.1 2068.8 1242.4 2069.9 1240.4 2070.4Z" fill="#5FB318" stroke="#333" stroke-width="2.5" stroke-linejoin="round"/>
<path d="M1340.5 2070.4C1338.8 2069.9 1332.9 2068.8 1330.6 2067.6C1328.3 2066.4 1327.9 2064.9 1327 2063.3C1326.1 2061.7 1326.3 2060.7 1325.2 2058C1324.2 2055.3 1321.8 2050.1 1320.6 2047.4C1319.4 2044.6 1318.9 2044.6 1318.2 2042C1317.4 2039.4 1316.7 2033.8 1316.4 2032.1L1316.4 2032.1C1316.1 2033.8 1315.3 2039.4 1314.6 2042C1313.9 2044.6 1313.3 2044.6 1312.1 2047.4C1310.9 2050.1 1308.6 2055.3 1307.5 2058C1306.4 2060.7 1306.6 2061.7 1305.7 2063.3C1304.8 2064.9 1304.5 2066.4 1302.2 2067.6C1299.9 2068.8 1294 2069.9 1292.3 2070.4Z" fill="#A65628" stroke="#333" stroke-width="2.5" stroke-linejoin="round"/>
<text x="738.4" y="2130.4" font-size="33" text-anchor="start" fill="#000">Ptprc</text>
<line x1="827.2" y1="2148.1" x2="875.2" y2="2148.1" stroke="#333" stroke-width="2.4" stroke-linecap="round"/>
<line x1="879" y1="2148.1" x2="927" y2="2148.1" stroke="#333" stroke-width="2.4" stroke-linecap="round"/>
<line x1="903" y1="2148.1" x2="903" y2="2120.8" stroke="#333" stroke-width="2.2" stroke-linecap="round"/>
<line x1="930.9" y1="2148.1" x2="978.9" y2="2148.1" stroke="#333" stroke-width="2.4" stroke-linecap="round"/>
<line x1="954.9" y1="2148.1" x2="954.9" y2="2142.4" stroke="#333" stroke-width="2.2" stroke-linecap="round"/>
<line x1="982.7" y1="2148.1" x2="1030.7" y2="2148.1" stroke="#333" stroke-width="2.4" stroke-linecap="round"/>
<line x1="1006.7" y1="2148.1" x2="1006.7" y2="2138.5" stroke="#333" stroke-width="2.2" stroke-linecap="round"/>
<line x1="1034.6" y1="2148.1" x2="1082.6" y2="2148.1" stroke="#333" stroke-width="2.4" stroke-linecap="round"/>
<line x1="1058.6" y1="2148.1" x2="1058.6" y2="2113" stroke="#333" stroke-width="2.2" stroke-linecap="round"/>
<line x1="1086.4" y1="2148.1" x2="1134.4" y2="2148.1" stroke="#333" stroke-width="2.4" stroke-linecap="round"/>
<line x1="1110.4" y1="2148.1" x2="1110.4" y2="2132.5" stroke="#333" stroke-width="2.2" stroke-linecap="round"/>
<line x1="1138.3" y1="2148.1" x2="1186.3" y2="2148.1" stroke="#333" stroke-width="2.4" stroke-linecap="round"/>
<line x1="1190.1" y1="2148.1" x2="1238.1" y2="2148.1" stroke="#333" stroke-width="2.4" stroke-linecap="round"/>
<line x1="1214.1" y1="2148.1" x2="1214.1" y2="2136" stroke="#333" stroke-width="2.2" stroke-linecap="round"/>
<path d="M1290.1 2148.1C1287.8 2147.7 1280.2 2146.7 1276.6 2146C1273 2145.2 1270.3 2144.6 1268.8 2143.8C1267.3 2143.1 1267.6 2142.7 1267.7 2141.4C1267.9 2140 1269.5 2137.9 1269.5 2136C1269.5 2134.2 1268.2 2132.2 1267.7 2130.4C1267.3 2128.6 1267.3 2134.8 1267 2125.4C1266.7 2116 1266.1 2083.6 1266 2075.1L1266 2075.1C1265.8 2083.6 1265.2 2116 1264.9 2125.4C1264.6 2134.8 1264.6 2128.6 1264.2 2130.4C1263.8 2132.2 1262.4 2134.2 1262.4 2136C1262.4 2137.9 1264.1 2140 1264.2 2141.4C1264.3 2142.7 1264.6 2143.1 1263.1 2143.8C1261.6 2144.6 1258.9 2145.2 1255.3 2146C1251.7 2146.7 1244.1 2147.7 1241.8 2148.1Z" fill="#5FB318" stroke="#333" stroke-width="2.5" stroke-linejoin="round"/>
<path d="M1341.9 2148.1C1341.1 2147.5 1338.5 2146 1337.3 2144.6C1336.1 2143.1 1334.8 2141.3 1334.8 2139.6C1334.8 2137.8 1337.2 2136.1 1337.3 2134.3C1337.4 2132.5 1337.3 2132 1335.5 2129C1333.7 2125.9 1329.1 2119.9 1326.7 2116.5C1324.3 2113.2 1322.6 2111.2 1321.3 2109.1C1320.1 2107 1320.2 2107.4 1319.6 2104.1C1319 2100.9 1318.1 2092.4 1317.8 2089.9L1317.8 2089.9C1317.5 2092.4 1316.6 2100.9 1316 2104.1C1315.4 2107.4 1315.5 2107 1314.3 2109.1C1313 2111.2 1311.3 2113.2 1308.9 2116.5C1306.5 2119.9 1301.9 2125.9 1300.1 2129C1298.3 2132 1298.2 2132.5 1298.3 2134.3C1298.4 2136.1 1300.8 2137.8 1300.8 2139.6C1300.8 2141.3 1299.5 2143.1 1298.3 2144.6C1297.1 2146 1294.5 2147.5 1293.7 2148.1Z" fill="#A65628" stroke="#333" stroke-width="2.5" stroke-linejoin="round"/>
<text x="738.4" y="2211.6" font-size="33" text-anchor="start" fill="#000">Gfi1b</text>
<line x1="827.9" y1="2229.3" x2="875.9" y2="2229.3" stroke="#333" stroke-width="2.4" stroke-linecap="round"/>
<line x1="879.8" y1="2229.3" x2="927.8" y2="2229.3" stroke="#333" stroke-width="2.4" stroke-linecap="round"/>
<line x1="903.8" y1="2229.3" x2="903.8" y2="2211.6" stroke="#333" stroke-width="2.2" stroke-linecap="round"/>
<line x1="931.6" y1="2229.3" x2="979.6" y2="2229.3" stroke="#333" stroke-width="2.4" stroke-linecap="round"/>
<line x1="983.4" y1="2229.3" x2="1031.4" y2="2229.3" stroke="#333" stroke-width="2.4" stroke-linecap="round"/>
<line x1="1035.3" y1="2229.3" x2="1083.3" y2="2229.3" stroke="#333" stroke-width="2.4" stroke-linecap="round"/>
<line x1="1059.3" y1="2229.3" x2="1059.3" y2="2204.1" stroke="#333" stroke-width="2.2" stroke-linecap="round"/>
<line x1="1087.1" y1="2229.3" x2="1135.1" y2="2229.3" stroke="#333" stroke-width="2.4" stroke-linecap="round"/>
<line x1="1111.1" y1="2229.3" x2="1111.1" y2="2206.3" stroke="#333" stroke-width="2.2" stroke-linecap="round"/>
<line x1="1139" y1="2229.3" x2="1187" y2="2229.3" stroke="#333" stroke-width="2.4" stroke-linecap="round"/>
<line x1="1190.8" y1="2229.3" x2="1238.8" y2="2229.3" stroke="#333" stroke-width="2.4" stroke-linecap="round"/>
<line x1="1214.8" y1="2229.3" x2="1214.8" y2="2209.4" stroke="#333" stroke-width="2.2" stroke-linecap="round"/>
<line x1="1242.7" y1="2229.3" x2="1290.7" y2="2229.3" stroke="#333" stroke-width="2.4" stroke-linecap="round"/>
<line x1="1266.7" y1="2229.3" x2="1266.7" y2="2179.7" stroke="#333" stroke-width="2.2" stroke-linecap="round"/>
<path d="M1342.6 2229.3C1341.4 2228.7 1337.3 2227.1 1335.5 2225.8C1333.7 2224.4 1332.3 2222.8 1332 2221.1C1331.6 2219.5 1333.6 2218.2 1333.4 2215.8C1333.2 2213.4 1332.2 2210.9 1330.9 2207C1329.6 2203 1327.2 2196.8 1325.6 2192.8C1324 2188.7 1322.3 2185.6 1321.3 2183.2C1320.4 2180.8 1320.3 2183.2 1319.9 2178.6C1319.6 2174 1319.3 2160 1319.2 2156.3L1317.8 2156.3C1317.7 2160 1317.5 2174 1317.1 2178.6C1316.7 2183.2 1316.6 2180.8 1315.7 2183.2C1314.7 2185.6 1313 2188.7 1311.4 2192.8C1309.8 2196.8 1307.4 2203 1306.1 2207C1304.8 2210.9 1303.8 2213.4 1303.6 2215.8C1303.4 2218.2 1305.4 2219.5 1305 2221.1C1304.7 2222.8 1303.3 2224.4 1301.5 2225.8C1299.7 2227.1 1295.6 2228.7 1294.4 2229.3Z" fill="#A65628" stroke="#333" stroke-width="2.5" stroke-linejoin="round"/>
<circle cx="853.7" cy="2233" r="1.1" fill="#333"/>
<text x="865.5" y="2240" font-size="33" text-anchor="end" fill="#000" transform="rotate(-90 865.5 2240)">vEC1</text>
<circle cx="905.5" cy="2233" r="1.1" fill="#333"/>
<text x="917.3" y="2240" font-size="33" text-anchor="end" fill="#000" transform="rotate(-90 917.3 2240)">vEC2</text>
<circle cx="957.4" cy="2233" r="1.1" fill="#333"/>
<text x="969.2" y="2240" font-size="33" text-anchor="end" fill="#000" transform="rotate(-90 969.2 2240)">vEC3</text>
<circle cx="1009.2" cy="2233" r="1.1" fill="#333"/>
<text x="1021" y="2240" font-size="33" text-anchor="end" fill="#000" transform="rotate(-90 1021 2240)">vEC4</text>
<circle cx="1061.1" cy="2233" r="1.1" fill="#333"/>
<text x="1072.9" y="2240" font-size="33" text-anchor="end" fill="#000" transform="rotate(-90 1072.9 2240)">aEC1</text>
<circle cx="1112.9" cy="2233" r="1.1" fill="#333"/>
<text x="1124.7" y="2240" font-size="33" text-anchor="end" fill="#000" transform="rotate(-90 1124.7 2240)">aEC2</text>
<circle cx="1164.8" cy="2233" r="1.1" fill="#333"/>
<text x="1176.6" y="2240" font-size="33" text-anchor="end" fill="#000" transform="rotate(-90 1176.6 2240)">aEC3</text>
<circle cx="1216.6" cy="2233" r="1.1" fill="#333"/>
<text x="1228.4" y="2240" font-size="33" text-anchor="end" fill="#000" transform="rotate(-90 1228.4 2240)">HEC</text>
<circle cx="1268.4" cy="2233" r="1.1" fill="#333"/>
<text x="1280.2" y="2240" font-size="33" text-anchor="end" fill="#000" transform="rotate(-90 1280.2 2240)">I Pre</text>
<circle cx="1320.3" cy="2233" r="1.1" fill="#333"/>
<text x="1332.1" y="2240" font-size="33" text-anchor="end" fill="#000" transform="rotate(-90 1332.1 2240)">II Pre</text>
</g>
<g id="pi">
<text x="1437" y="1278" font-size="56" text-anchor="start" fill="#000" font-weight="bold">i</text>
<rect x="1536.5" y="1269.5" width="265.1" height="954.9" fill="#fff"/>
<line x1="1536.5" y1="1311.9" x2="1801.6" y2="1311.9" stroke="#E6E6E6" stroke-width="2.2"/>
<line x1="1536.5" y1="1420.6" x2="1801.6" y2="1420.6" stroke="#ECECEC" stroke-width="1.8"/>
<line x1="1536.5" y1="1529.3" x2="1801.6" y2="1529.3" stroke="#E6E6E6" stroke-width="2.2"/>
<line x1="1536.5" y1="1638" x2="1801.6" y2="1638" stroke="#ECECEC" stroke-width="1.8"/>
<line x1="1536.5" y1="1746.7" x2="1801.6" y2="1746.7" stroke="#E6E6E6" stroke-width="2.2"/>
<line x1="1536.5" y1="1855.4" x2="1801.6" y2="1855.4" stroke="#ECECEC" stroke-width="1.8"/>
<line x1="1536.5" y1="1964.1" x2="1801.6" y2="1964.1" stroke="#E6E6E6" stroke-width="2.2"/>
<line x1="1536.5" y1="2072.8" x2="1801.6" y2="2072.8" stroke="#ECECEC" stroke-width="1.8"/>
<line x1="1536.5" y1="2181.5" x2="1801.6" y2="2181.5" stroke="#E6E6E6" stroke-width="2.2"/>
<line x1="1608.9" y1="1269.5" x2="1608.9" y2="2224.4" stroke="#E8E8E8" stroke-width="2.2"/>
<line x1="1728.7" y1="1269.5" x2="1728.7" y2="2224.4" stroke="#E8E8E8" stroke-width="2.2"/>
<rect x="1554.8" y="1311.9" width="107.9" height="89.9" fill="#0068B5"/>
<text x="1608.8" y="1367.8" font-size="32.5" text-anchor="middle" fill="#000">10.3</text>
<rect x="1554.8" y="1401.5" width="107.9" height="142" fill="#FF7F00"/>
<text x="1608.8" y="1483.5" font-size="32.5" text-anchor="middle" fill="#000">16.3</text>
<rect x="1554.8" y="1543.2" width="107.9" height="119.4" fill="#B77FD4"/>
<text x="1608.8" y="1613.9" font-size="32.5" text-anchor="middle" fill="#000">13.7</text>
<rect x="1554.8" y="1662.3" width="107.9" height="31.6" fill="#008000"/>
<text x="1608.8" y="1689.1" font-size="32.5" text-anchor="middle" fill="#000">3.6</text>
<rect x="1554.8" y="1693.7" width="107.9" height="56" fill="#3BA3E3"/>
<text x="1608.8" y="1732.6" font-size="32.5" text-anchor="middle" fill="#000">6.4</text>
<rect x="1554.8" y="1749.3" width="107.9" height="178.6" fill="#C41212"/>
<text x="1608.8" y="1849.6" font-size="32.5" text-anchor="middle" fill="#000">20.5</text>
<rect x="1554.8" y="1927.6" width="107.9" height="49" fill="#FF6E6A"/>
<text x="1608.8" y="1963.1" font-size="32.5" text-anchor="middle" fill="#000">5.6</text>
<rect x="1554.8" y="1976.3" width="107.9" height="76.8" fill="#7033B0"/>
<text x="1608.8" y="2025.7" font-size="32.5" text-anchor="middle" fill="#000">8.8</text>
<rect x="1554.8" y="2052.8" width="107.9" height="77.7" fill="#5FB318"/>
<text x="1608.8" y="2102.6" font-size="32.5" text-anchor="middle" fill="#000">8.9</text>
<rect x="1554.8" y="2130.2" width="107.9" height="51.6" fill="#A65628"/>
<text x="1608.8" y="2167" font-size="32.5" text-anchor="middle" fill="#000">5.9</text>
<rect x="1674.7" y="1311.9" width="108.1" height="54.2" fill="#0068B5"/>
<text x="1728.8" y="1350" font-size="32.5" text-anchor="middle" fill="#000">6.2</text>
<rect x="1674.7" y="1365.8" width="108.1" height="128.1" fill="#FF7F00"/>
<text x="1728.8" y="1440.9" font-size="32.5" text-anchor="middle" fill="#000">14.7</text>
<rect x="1674.7" y="1493.6" width="108.1" height="91.6" fill="#B77FD4"/>
<text x="1728.8" y="1550.4" font-size="32.5" text-anchor="middle" fill="#000">10.5</text>
<rect x="1674.7" y="1585" width="108.1" height="46.4" fill="#008000"/>
<text x="1728.8" y="1619.1" font-size="32.5" text-anchor="middle" fill="#000">5.3</text>
<rect x="1674.7" y="1631" width="108.1" height="79.4" fill="#3BA3E3"/>
<text x="1728.8" y="1681.7" font-size="32.5" text-anchor="middle" fill="#000">9.1</text>
<rect x="1674.7" y="1710.2" width="108.1" height="136" fill="#C41212"/>
<text x="1728.8" y="1789.1" font-size="32.5" text-anchor="middle" fill="#000">15.6</text>
<rect x="1674.7" y="1845.8" width="108.1" height="69.9" fill="#FF6E6A"/>
<text x="1728.8" y="1891.8" font-size="32.5" text-anchor="middle" fill="#000">8.0</text>
<rect x="1674.7" y="1915.4" width="108.1" height="75.1" fill="#7033B0"/>
<text x="1728.8" y="1963.9" font-size="32.5" text-anchor="middle" fill="#000">8.6</text>
<rect x="1674.7" y="1990.2" width="108.1" height="131.6" fill="#5FB318"/>
<text x="1728.8" y="2067" font-size="32.5" text-anchor="middle" fill="#000">15.1</text>
<rect x="1674.7" y="2121.5" width="108.1" height="60.3" fill="#A65628"/>
<text x="1728.8" y="2162.6" font-size="32.5" text-anchor="middle" fill="#000">6.9</text>
<rect x="1536.5" y="1269.5" width="265.1" height="954.9" fill="none" stroke="#333" stroke-width="1.6"/>
<line x1="1529.3" y1="2181.5" x2="1536.5" y2="2181.5" stroke="#333" stroke-width="2"/>
<text x="1525" y="2193" font-size="32" text-anchor="end" fill="#000">0</text>
<line x1="1529.3" y1="1964.1" x2="1536.5" y2="1964.1" stroke="#333" stroke-width="2"/>
<text x="1525" y="1975.6" font-size="32" text-anchor="end" fill="#000">25</text>
<line x1="1529.3" y1="1746.7" x2="1536.5" y2="1746.7" stroke="#333" stroke-width="2"/>
<text x="1525" y="1758.2" font-size="32" text-anchor="end" fill="#000">50</text>
<line x1="1529.3" y1="1529.3" x2="1536.5" y2="1529.3" stroke="#333" stroke-width="2"/>
<text x="1525" y="1540.8" font-size="32" text-anchor="end" fill="#000">75</text>
<line x1="1529.3" y1="1311.9" x2="1536.5" y2="1311.9" stroke="#333" stroke-width="2"/>
<text x="1525" y="1323.4" font-size="32" text-anchor="end" fill="#000">100</text>
<line x1="1608.9" y1="2224.4" x2="1608.9" y2="2231.4" stroke="#333" stroke-width="2"/>
<line x1="1728.7" y1="2224.4" x2="1728.7" y2="2231.4" stroke="#333" stroke-width="2"/>
<text x="1605.5" y="2265.6" font-size="33" text-anchor="middle" fill="#000">Ctr</text>
<text x="1731" y="2265.6" font-size="33" text-anchor="middle" fill="#000">KO</text>
<text x="1476.7" y="1745" font-size="38" text-anchor="middle" fill="#000" transform="rotate(-90 1476.7 1745)">Cell Proportion (%)</text>
<text x="1833.5" y="1488.3" font-size="33.3" text-anchor="start" fill="#000">Cluster</text>
<rect x="1834.3" y="1508.7" width="39.4" height="39.4" fill="#0068B5"/>
<text x="1889.5" y="1538.4" font-size="32" text-anchor="start" fill="#000">vEC1</text>
<rect x="1834.3" y="1551.4" width="39.4" height="39.4" fill="#FF7F00"/>
<text x="1889.5" y="1581.1" font-size="32" text-anchor="start" fill="#000">vEC2</text>
<rect x="1834.3" y="1594.2" width="39.4" height="39.4" fill="#B77FD4"/>
<text x="1889.5" y="1623.9" font-size="32" text-anchor="start" fill="#000">vEC3</text>
<rect x="1834.3" y="1636.9" width="39.4" height="39.4" fill="#008000"/>
<text x="1889.5" y="1666.6" font-size="32" text-anchor="start" fill="#000">vEC4</text>
<rect x="1834.3" y="1679.6" width="39.4" height="39.4" fill="#3BA3E3"/>
<text x="1889.5" y="1709.3" font-size="32" text-anchor="start" fill="#000">aEC1</text>
<rect x="1834.3" y="1722.3" width="39.4" height="39.4" fill="#C41212"/>
<text x="1889.5" y="1752" font-size="32" text-anchor="start" fill="#000">aEC2</text>
<rect x="1834.3" y="1765.1" width="39.4" height="39.4" fill="#FF6E6A"/>
<text x="1889.5" y="1794.8" font-size="32" text-anchor="start" fill="#000">aEC3</text>
<rect x="1834.3" y="1807.8" width="39.4" height="39.4" fill="#7033B0"/>
<text x="1889.5" y="1837.5" font-size="32" text-anchor="start" fill="#000">HEC</text>
<rect x="1834.3" y="1850.5" width="39.4" height="39.4" fill="#5FB318"/>
<text x="1889.5" y="1880.2" font-size="32" text-anchor="start" fill="#000">I Pre</text>
<rect x="1834.3" y="1893.3" width="39.4" height="39.4" fill="#A65628"/>
<text x="1889.5" y="1923" font-size="32" text-anchor="start" fill="#000">II Pre</text>
</g>
</svg></body></html>
